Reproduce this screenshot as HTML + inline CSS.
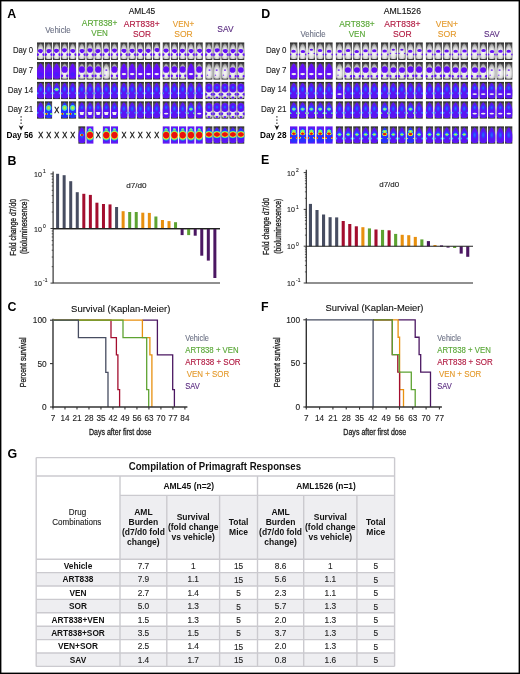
<!DOCTYPE html>
<html><head><meta charset="utf-8"><title>Primagraft responses</title>
<style>
html,body{margin:0;padding:0;background:#fff;}
body{width:520px;height:674px;overflow:hidden;position:relative;}
svg.root{position:absolute;left:0;top:0;display:block;filter:blur(0.35px);}
text{font-family:"Liberation Sans",sans-serif;}
</style></head><body>
<svg class="root" width="520" height="674" viewBox="0 0 520 674">

<defs>
 <radialGradient id="gBody" cx="50%" cy="62%" r="62%">
  <stop offset="0" stop-color="#f8f8f8"/><stop offset="0.5" stop-color="#e2e2e2"/><stop offset="0.8" stop-color="#a8a8a8"/><stop offset="1" stop-color="#6a6a6a"/>
 </radialGradient>
 <linearGradient id="gBg" x1="0" y1="0" x2="0" y2="1">
  <stop offset="0" stop-color="#1c1c1c"/><stop offset="0.15" stop-color="#555"/><stop offset="0.85" stop-color="#5a5a5a"/><stop offset="1" stop-color="#1c1c1c"/>
 </linearGradient>
 <linearGradient id="gBgD" x1="0" y1="0" x2="0" y2="1">
  <stop offset="0" stop-color="#181818"/><stop offset="0.5" stop-color="#3a3a3a"/><stop offset="1" stop-color="#222"/>
 </linearGradient>
 <radialGradient id="gHot" cx="50%" cy="50%" r="50%">
  <stop offset="0" stop-color="#e01010"/><stop offset="0.45" stop-color="#e82a10"/><stop offset="0.6" stop-color="#f5e020"/><stop offset="0.75" stop-color="#40e0a0"/><stop offset="1" stop-color="#3050ff" stop-opacity="0"/>
 </radialGradient>
 <radialGradient id="gGrn" cx="50%" cy="50%" r="50%">
  <stop offset="0" stop-color="#e8f020"/><stop offset="0.4" stop-color="#80f060"/><stop offset="0.75" stop-color="#30c0f0"/><stop offset="1" stop-color="#2040ff" stop-opacity="0"/>
 </radialGradient>
 <radialGradient id="gCyan" cx="50%" cy="50%" r="50%">
  <stop offset="0" stop-color="#c8f070"/><stop offset="0.45" stop-color="#60e0a0"/><stop offset="0.8" stop-color="#30a0ff"/><stop offset="1" stop-color="#2040ff" stop-opacity="0"/>
 </radialGradient>
 <radialGradient id="gBlue" cx="50%" cy="50%" r="50%">
  <stop offset="0" stop-color="#2a6cff"/><stop offset="0.6" stop-color="#2d3cff"/><stop offset="1" stop-color="#5a1cf5" stop-opacity="0"/>
 </radialGradient>
</defs>

<rect x="0" y="0" width="520" height="674" fill="#fff"/>
<svg x="37.00" y="42.30" width="7.30" height="17.60" overflow="hidden"><rect x="0.00" y="0.00" width="7.30" height="17.60" fill="url(#gBg)"/><path d="M3.65,0.86 L4.48,1.67 L5.59,3.64 L6.56,6.09 L7.05,8.71 L7.12,11.66 L6.98,14.28 L6.42,16.08 L5.04,16.73 L2.26,16.73 L0.88,16.08 L0.32,14.28 L0.18,11.66 L0.25,8.71 L0.74,6.09 L1.71,3.64 L2.82,1.67Z" fill="url(#gBody)"/><ellipse cx="3.38" cy="8.46" rx="2.63" ry="1.76" fill="#6410f8"/><ellipse cx="3.61" cy="9.17" rx="1.75" ry="1.76" fill="#6410f8"/><ellipse cx="0.58" cy="12.32" rx="1.39" ry="1.39" fill="#6410f8"/><ellipse cx="6.72" cy="12.32" rx="1.39" ry="1.39" fill="#6410f8"/></svg>
<svg x="45.00" y="42.30" width="7.30" height="17.60" overflow="hidden"><rect x="0.00" y="0.00" width="7.30" height="17.60" fill="url(#gBg)"/><path d="M3.65,0.86 L4.48,1.67 L5.59,3.64 L6.56,6.09 L7.05,8.71 L7.12,11.66 L6.98,14.28 L6.42,16.08 L5.04,16.73 L2.26,16.73 L0.88,16.08 L0.32,14.28 L0.18,11.66 L0.25,8.71 L0.74,6.09 L1.71,3.64 L2.82,1.67Z" fill="url(#gBody)"/><ellipse cx="3.98" cy="8.57" rx="2.63" ry="1.76" fill="#6410f8"/><ellipse cx="3.59" cy="9.27" rx="1.75" ry="1.76" fill="#6410f8"/><ellipse cx="0.58" cy="12.32" rx="1.39" ry="1.39" fill="#6410f8"/><ellipse cx="6.72" cy="12.32" rx="1.39" ry="1.39" fill="#6410f8"/></svg>
<svg x="53.00" y="42.30" width="7.30" height="17.60" overflow="hidden"><rect x="0.00" y="0.00" width="7.30" height="17.60" fill="url(#gBg)"/><path d="M3.65,0.86 L4.48,1.67 L5.59,3.64 L6.56,6.09 L7.05,8.71 L7.12,11.66 L6.98,14.28 L6.42,16.08 L5.04,16.73 L2.26,16.73 L0.88,16.08 L0.32,14.28 L0.18,11.66 L0.25,8.71 L0.74,6.09 L1.71,3.64 L2.82,1.67Z" fill="url(#gBody)"/><ellipse cx="3.46" cy="8.14" rx="2.63" ry="1.76" fill="#6410f8"/><ellipse cx="3.34" cy="8.85" rx="1.75" ry="1.76" fill="#6410f8"/><ellipse cx="0.58" cy="12.32" rx="1.39" ry="1.39" fill="#6410f8"/><ellipse cx="6.72" cy="12.32" rx="1.39" ry="1.39" fill="#6410f8"/></svg>
<svg x="61.00" y="42.30" width="7.30" height="17.60" overflow="hidden"><rect x="0.00" y="0.00" width="7.30" height="17.60" fill="url(#gBg)"/><path d="M3.65,0.86 L4.48,1.67 L5.59,3.64 L6.56,6.09 L7.05,8.71 L7.12,11.66 L6.98,14.28 L6.42,16.08 L5.04,16.73 L2.26,16.73 L0.88,16.08 L0.32,14.28 L0.18,11.66 L0.25,8.71 L0.74,6.09 L1.71,3.64 L2.82,1.67Z" fill="url(#gBody)"/><ellipse cx="3.46" cy="7.68" rx="2.63" ry="1.76" fill="#6410f8"/><ellipse cx="3.37" cy="8.38" rx="1.75" ry="1.76" fill="#6410f8"/><ellipse cx="0.58" cy="12.32" rx="1.39" ry="1.39" fill="#6410f8"/><ellipse cx="6.72" cy="12.32" rx="1.39" ry="1.39" fill="#6410f8"/></svg>
<svg x="69.00" y="42.30" width="7.30" height="17.60" overflow="hidden"><rect x="0.00" y="0.00" width="7.30" height="17.60" fill="url(#gBg)"/><path d="M3.65,0.86 L4.48,1.67 L5.59,3.64 L6.56,6.09 L7.05,8.71 L7.12,11.66 L6.98,14.28 L6.42,16.08 L5.04,16.73 L2.26,16.73 L0.88,16.08 L0.32,14.28 L0.18,11.66 L0.25,8.71 L0.74,6.09 L1.71,3.64 L2.82,1.67Z" fill="url(#gBody)"/><ellipse cx="3.74" cy="8.35" rx="2.63" ry="1.76" fill="#6410f8"/><ellipse cx="4.00" cy="9.06" rx="1.75" ry="1.76" fill="#6410f8"/><ellipse cx="0.58" cy="12.32" rx="1.39" ry="1.39" fill="#6410f8"/><ellipse cx="6.72" cy="12.32" rx="1.39" ry="1.39" fill="#6410f8"/></svg>
<svg x="78.20" y="42.30" width="7.30" height="17.60" overflow="hidden"><rect x="0.00" y="0.00" width="7.30" height="17.60" fill="url(#gBg)"/><path d="M3.65,0.86 L4.48,1.67 L5.59,3.64 L6.56,6.09 L7.05,8.71 L7.12,11.66 L6.98,14.28 L6.42,16.08 L5.04,16.73 L2.26,16.73 L0.88,16.08 L0.32,14.28 L0.18,11.66 L0.25,8.71 L0.74,6.09 L1.71,3.64 L2.82,1.67Z" fill="url(#gBody)"/><ellipse cx="3.86" cy="8.44" rx="2.63" ry="1.76" fill="#6410f8"/><ellipse cx="3.85" cy="9.14" rx="1.75" ry="1.76" fill="#6410f8"/><ellipse cx="0.58" cy="12.32" rx="1.39" ry="1.39" fill="#6410f8"/><ellipse cx="6.72" cy="12.32" rx="1.39" ry="1.39" fill="#6410f8"/></svg>
<svg x="86.35" y="42.30" width="7.30" height="17.60" overflow="hidden"><rect x="0.00" y="0.00" width="7.30" height="17.60" fill="url(#gBg)"/><path d="M3.65,0.86 L4.48,1.67 L5.59,3.64 L6.56,6.09 L7.05,8.71 L7.12,11.66 L6.98,14.28 L6.42,16.08 L5.04,16.73 L2.26,16.73 L0.88,16.08 L0.32,14.28 L0.18,11.66 L0.25,8.71 L0.74,6.09 L1.71,3.64 L2.82,1.67Z" fill="url(#gBody)"/><ellipse cx="3.52" cy="7.73" rx="2.63" ry="1.76" fill="#6410f8"/><ellipse cx="3.65" cy="8.43" rx="1.75" ry="1.76" fill="#6410f8"/><ellipse cx="0.58" cy="12.32" rx="1.39" ry="1.39" fill="#6410f8"/><ellipse cx="6.72" cy="12.32" rx="1.39" ry="1.39" fill="#6410f8"/></svg>
<svg x="94.50" y="42.30" width="7.30" height="17.60" overflow="hidden"><rect x="0.00" y="0.00" width="7.30" height="17.60" fill="url(#gBg)"/><path d="M3.65,0.86 L4.48,1.67 L5.59,3.64 L6.56,6.09 L7.05,8.71 L7.12,11.66 L6.98,14.28 L6.42,16.08 L5.04,16.73 L2.26,16.73 L0.88,16.08 L0.32,14.28 L0.18,11.66 L0.25,8.71 L0.74,6.09 L1.71,3.64 L2.82,1.67Z" fill="url(#gBody)"/><ellipse cx="3.45" cy="8.58" rx="2.63" ry="1.76" fill="#6410f8"/><ellipse cx="3.12" cy="9.29" rx="1.75" ry="1.76" fill="#6410f8"/><ellipse cx="0.58" cy="12.32" rx="1.39" ry="1.39" fill="#6410f8"/><ellipse cx="6.72" cy="12.32" rx="1.39" ry="1.39" fill="#6410f8"/></svg>
<svg x="102.65" y="42.30" width="7.30" height="17.60" overflow="hidden"><rect x="0.00" y="0.00" width="7.30" height="17.60" fill="url(#gBg)"/><path d="M3.65,0.86 L4.48,1.67 L5.59,3.64 L6.56,6.09 L7.05,8.71 L7.12,11.66 L6.98,14.28 L6.42,16.08 L5.04,16.73 L2.26,16.73 L0.88,16.08 L0.32,14.28 L0.18,11.66 L0.25,8.71 L0.74,6.09 L1.71,3.64 L2.82,1.67Z" fill="url(#gBody)"/><ellipse cx="3.62" cy="7.96" rx="2.63" ry="1.76" fill="#6410f8"/><ellipse cx="3.31" cy="8.67" rx="1.75" ry="1.76" fill="#6410f8"/><ellipse cx="0.58" cy="12.32" rx="1.39" ry="1.39" fill="#6410f8"/><ellipse cx="6.72" cy="12.32" rx="1.39" ry="1.39" fill="#6410f8"/></svg>
<svg x="110.80" y="42.30" width="7.30" height="17.60" overflow="hidden"><rect x="0.00" y="0.00" width="7.30" height="17.60" fill="url(#gBg)"/><path d="M3.65,0.86 L4.48,1.67 L5.59,3.64 L6.56,6.09 L7.05,8.71 L7.12,11.66 L6.98,14.28 L6.42,16.08 L5.04,16.73 L2.26,16.73 L0.88,16.08 L0.32,14.28 L0.18,11.66 L0.25,8.71 L0.74,6.09 L1.71,3.64 L2.82,1.67Z" fill="url(#gBody)"/><ellipse cx="3.70" cy="8.02" rx="2.63" ry="1.76" fill="#6410f8"/><ellipse cx="3.77" cy="8.72" rx="1.75" ry="1.76" fill="#6410f8"/><ellipse cx="0.58" cy="12.32" rx="1.39" ry="1.39" fill="#6410f8"/><ellipse cx="6.72" cy="12.32" rx="1.39" ry="1.39" fill="#6410f8"/></svg>
<svg x="120.30" y="42.30" width="7.30" height="17.60" overflow="hidden"><rect x="0.00" y="0.00" width="7.30" height="17.60" fill="url(#gBg)"/><path d="M3.65,0.86 L4.48,1.67 L5.59,3.64 L6.56,6.09 L7.05,8.71 L7.12,11.66 L6.98,14.28 L6.42,16.08 L5.04,16.73 L2.26,16.73 L0.88,16.08 L0.32,14.28 L0.18,11.66 L0.25,8.71 L0.74,6.09 L1.71,3.64 L2.82,1.67Z" fill="url(#gBody)"/><ellipse cx="3.62" cy="8.16" rx="2.63" ry="1.76" fill="#6410f8"/><ellipse cx="3.99" cy="8.86" rx="1.75" ry="1.76" fill="#6410f8"/><ellipse cx="0.58" cy="12.32" rx="1.39" ry="1.39" fill="#6410f8"/><ellipse cx="6.72" cy="12.32" rx="1.39" ry="1.39" fill="#6410f8"/></svg>
<svg x="128.48" y="42.30" width="7.30" height="17.60" overflow="hidden"><rect x="0.00" y="0.00" width="7.30" height="17.60" fill="url(#gBg)"/><path d="M3.65,0.86 L4.48,1.67 L5.59,3.64 L6.56,6.09 L7.05,8.71 L7.12,11.66 L6.98,14.28 L6.42,16.08 L5.04,16.73 L2.26,16.73 L0.88,16.08 L0.32,14.28 L0.18,11.66 L0.25,8.71 L0.74,6.09 L1.71,3.64 L2.82,1.67Z" fill="url(#gBody)"/><ellipse cx="3.63" cy="8.26" rx="2.63" ry="1.76" fill="#6410f8"/><ellipse cx="3.78" cy="8.97" rx="1.75" ry="1.76" fill="#6410f8"/><ellipse cx="0.58" cy="12.32" rx="1.39" ry="1.39" fill="#6410f8"/><ellipse cx="6.72" cy="12.32" rx="1.39" ry="1.39" fill="#6410f8"/></svg>
<svg x="136.66" y="42.30" width="7.30" height="17.60" overflow="hidden"><rect x="0.00" y="0.00" width="7.30" height="17.60" fill="url(#gBg)"/><path d="M3.65,0.86 L4.48,1.67 L5.59,3.64 L6.56,6.09 L7.05,8.71 L7.12,11.66 L6.98,14.28 L6.42,16.08 L5.04,16.73 L2.26,16.73 L0.88,16.08 L0.32,14.28 L0.18,11.66 L0.25,8.71 L0.74,6.09 L1.71,3.64 L2.82,1.67Z" fill="url(#gBody)"/><ellipse cx="3.47" cy="8.29" rx="2.63" ry="1.76" fill="#6410f8"/><ellipse cx="3.64" cy="9.00" rx="1.75" ry="1.76" fill="#6410f8"/><ellipse cx="0.58" cy="12.32" rx="1.39" ry="1.39" fill="#6410f8"/><ellipse cx="6.72" cy="12.32" rx="1.39" ry="1.39" fill="#6410f8"/></svg>
<svg x="144.84" y="42.30" width="7.30" height="17.60" overflow="hidden"><rect x="0.00" y="0.00" width="7.30" height="17.60" fill="url(#gBg)"/><path d="M3.65,0.86 L4.48,1.67 L5.59,3.64 L6.56,6.09 L7.05,8.71 L7.12,11.66 L6.98,14.28 L6.42,16.08 L5.04,16.73 L2.26,16.73 L0.88,16.08 L0.32,14.28 L0.18,11.66 L0.25,8.71 L0.74,6.09 L1.71,3.64 L2.82,1.67Z" fill="url(#gBody)"/><ellipse cx="3.36" cy="8.31" rx="2.63" ry="1.76" fill="#6410f8"/><ellipse cx="3.50" cy="9.01" rx="1.75" ry="1.76" fill="#6410f8"/><ellipse cx="0.58" cy="12.32" rx="1.39" ry="1.39" fill="#6410f8"/><ellipse cx="6.72" cy="12.32" rx="1.39" ry="1.39" fill="#6410f8"/></svg>
<svg x="153.02" y="42.30" width="7.30" height="17.60" overflow="hidden"><rect x="0.00" y="0.00" width="7.30" height="17.60" fill="url(#gBg)"/><path d="M3.65,0.86 L4.48,1.67 L5.59,3.64 L6.56,6.09 L7.05,8.71 L7.12,11.66 L6.98,14.28 L6.42,16.08 L5.04,16.73 L2.26,16.73 L0.88,16.08 L0.32,14.28 L0.18,11.66 L0.25,8.71 L0.74,6.09 L1.71,3.64 L2.82,1.67Z" fill="url(#gBody)"/><ellipse cx="3.99" cy="7.58" rx="2.63" ry="1.76" fill="#6410f8"/><ellipse cx="4.20" cy="8.28" rx="1.75" ry="1.76" fill="#6410f8"/><ellipse cx="0.58" cy="12.32" rx="1.39" ry="1.39" fill="#6410f8"/><ellipse cx="6.72" cy="12.32" rx="1.39" ry="1.39" fill="#6410f8"/></svg>
<svg x="162.50" y="42.30" width="7.30" height="17.60" overflow="hidden"><rect x="0.00" y="0.00" width="7.30" height="17.60" fill="url(#gBg)"/><path d="M3.65,0.86 L4.48,1.67 L5.59,3.64 L6.56,6.09 L7.05,8.71 L7.12,11.66 L6.98,14.28 L6.42,16.08 L5.04,16.73 L2.26,16.73 L0.88,16.08 L0.32,14.28 L0.18,11.66 L0.25,8.71 L0.74,6.09 L1.71,3.64 L2.82,1.67Z" fill="url(#gBody)"/><ellipse cx="3.55" cy="8.08" rx="2.63" ry="1.76" fill="#6410f8"/><ellipse cx="3.48" cy="8.78" rx="1.75" ry="1.76" fill="#6410f8"/><ellipse cx="0.58" cy="12.32" rx="1.39" ry="1.39" fill="#6410f8"/><ellipse cx="6.72" cy="12.32" rx="1.39" ry="1.39" fill="#6410f8"/></svg>
<svg x="170.77" y="42.30" width="7.30" height="17.60" overflow="hidden"><rect x="0.00" y="0.00" width="7.30" height="17.60" fill="url(#gBg)"/><path d="M3.65,0.86 L4.48,1.67 L5.59,3.64 L6.56,6.09 L7.05,8.71 L7.12,11.66 L6.98,14.28 L6.42,16.08 L5.04,16.73 L2.26,16.73 L0.88,16.08 L0.32,14.28 L0.18,11.66 L0.25,8.71 L0.74,6.09 L1.71,3.64 L2.82,1.67Z" fill="url(#gBody)"/><ellipse cx="3.67" cy="8.42" rx="2.63" ry="1.76" fill="#6410f8"/><ellipse cx="4.07" cy="9.12" rx="1.75" ry="1.76" fill="#6410f8"/><ellipse cx="0.58" cy="12.32" rx="1.39" ry="1.39" fill="#6410f8"/><ellipse cx="6.72" cy="12.32" rx="1.39" ry="1.39" fill="#6410f8"/></svg>
<svg x="179.04" y="42.30" width="7.30" height="17.60" overflow="hidden"><rect x="0.00" y="0.00" width="7.30" height="17.60" fill="url(#gBg)"/><path d="M3.65,0.86 L4.48,1.67 L5.59,3.64 L6.56,6.09 L7.05,8.71 L7.12,11.66 L6.98,14.28 L6.42,16.08 L5.04,16.73 L2.26,16.73 L0.88,16.08 L0.32,14.28 L0.18,11.66 L0.25,8.71 L0.74,6.09 L1.71,3.64 L2.82,1.67Z" fill="url(#gBody)"/><ellipse cx="3.42" cy="8.27" rx="2.63" ry="1.76" fill="#6410f8"/><ellipse cx="3.27" cy="8.97" rx="1.75" ry="1.76" fill="#6410f8"/><ellipse cx="0.58" cy="12.32" rx="1.39" ry="1.39" fill="#6410f8"/><ellipse cx="6.72" cy="12.32" rx="1.39" ry="1.39" fill="#6410f8"/></svg>
<svg x="187.31" y="42.30" width="7.30" height="17.60" overflow="hidden"><rect x="0.00" y="0.00" width="7.30" height="17.60" fill="url(#gBg)"/><path d="M3.65,0.86 L4.48,1.67 L5.59,3.64 L6.56,6.09 L7.05,8.71 L7.12,11.66 L6.98,14.28 L6.42,16.08 L5.04,16.73 L2.26,16.73 L0.88,16.08 L0.32,14.28 L0.18,11.66 L0.25,8.71 L0.74,6.09 L1.71,3.64 L2.82,1.67Z" fill="url(#gBody)"/><ellipse cx="3.78" cy="8.40" rx="2.63" ry="1.76" fill="#6410f8"/><ellipse cx="3.80" cy="9.10" rx="1.75" ry="1.76" fill="#6410f8"/><ellipse cx="0.58" cy="12.32" rx="1.39" ry="1.39" fill="#6410f8"/><ellipse cx="6.72" cy="12.32" rx="1.39" ry="1.39" fill="#6410f8"/></svg>
<svg x="195.58" y="42.30" width="7.30" height="17.60" overflow="hidden"><rect x="0.00" y="0.00" width="7.30" height="17.60" fill="url(#gBg)"/><path d="M3.65,0.86 L4.48,1.67 L5.59,3.64 L6.56,6.09 L7.05,8.71 L7.12,11.66 L6.98,14.28 L6.42,16.08 L5.04,16.73 L2.26,16.73 L0.88,16.08 L0.32,14.28 L0.18,11.66 L0.25,8.71 L0.74,6.09 L1.71,3.64 L2.82,1.67Z" fill="url(#gBody)"/><ellipse cx="3.95" cy="8.29" rx="2.63" ry="1.76" fill="#6410f8"/><ellipse cx="4.18" cy="9.00" rx="1.75" ry="1.76" fill="#6410f8"/><ellipse cx="0.58" cy="12.32" rx="1.39" ry="1.39" fill="#6410f8"/><ellipse cx="6.72" cy="12.32" rx="1.39" ry="1.39" fill="#6410f8"/></svg>
<svg x="205.30" y="42.30" width="7.30" height="17.60" overflow="hidden"><rect x="0.00" y="0.00" width="7.30" height="17.60" fill="url(#gBg)"/><path d="M3.65,0.86 L4.48,1.67 L5.59,3.64 L6.56,6.09 L7.05,8.71 L7.12,11.66 L6.98,14.28 L6.42,16.08 L5.04,16.73 L2.26,16.73 L0.88,16.08 L0.32,14.28 L0.18,11.66 L0.25,8.71 L0.74,6.09 L1.71,3.64 L2.82,1.67Z" fill="url(#gBody)"/><ellipse cx="3.41" cy="8.30" rx="2.63" ry="1.76" fill="#6410f8"/><ellipse cx="3.52" cy="9.00" rx="1.75" ry="1.76" fill="#6410f8"/><ellipse cx="0.58" cy="12.32" rx="1.39" ry="1.39" fill="#6410f8"/><ellipse cx="6.72" cy="12.32" rx="1.39" ry="1.39" fill="#6410f8"/></svg>
<svg x="213.28" y="42.30" width="7.30" height="17.60" overflow="hidden"><rect x="0.00" y="0.00" width="7.30" height="17.60" fill="url(#gBg)"/><path d="M3.65,0.86 L4.48,1.67 L5.59,3.64 L6.56,6.09 L7.05,8.71 L7.12,11.66 L6.98,14.28 L6.42,16.08 L5.04,16.73 L2.26,16.73 L0.88,16.08 L0.32,14.28 L0.18,11.66 L0.25,8.71 L0.74,6.09 L1.71,3.64 L2.82,1.67Z" fill="url(#gBody)"/><ellipse cx="3.98" cy="7.72" rx="2.63" ry="1.76" fill="#6410f8"/><ellipse cx="3.57" cy="8.42" rx="1.75" ry="1.76" fill="#6410f8"/><ellipse cx="0.58" cy="12.32" rx="1.39" ry="1.39" fill="#6410f8"/><ellipse cx="6.72" cy="12.32" rx="1.39" ry="1.39" fill="#6410f8"/></svg>
<svg x="221.26" y="42.30" width="7.30" height="17.60" overflow="hidden"><rect x="0.00" y="0.00" width="7.30" height="17.60" fill="url(#gBg)"/><path d="M3.65,0.86 L4.48,1.67 L5.59,3.64 L6.56,6.09 L7.05,8.71 L7.12,11.66 L6.98,14.28 L6.42,16.08 L5.04,16.73 L2.26,16.73 L0.88,16.08 L0.32,14.28 L0.18,11.66 L0.25,8.71 L0.74,6.09 L1.71,3.64 L2.82,1.67Z" fill="url(#gBody)"/><ellipse cx="3.96" cy="8.57" rx="2.63" ry="1.76" fill="#6410f8"/><ellipse cx="4.30" cy="9.27" rx="1.75" ry="1.76" fill="#6410f8"/><ellipse cx="0.58" cy="12.32" rx="1.39" ry="1.39" fill="#6410f8"/><ellipse cx="6.72" cy="12.32" rx="1.39" ry="1.39" fill="#6410f8"/></svg>
<svg x="229.24" y="42.30" width="7.30" height="17.60" overflow="hidden"><rect x="0.00" y="0.00" width="7.30" height="17.60" fill="url(#gBg)"/><path d="M3.65,0.86 L4.48,1.67 L5.59,3.64 L6.56,6.09 L7.05,8.71 L7.12,11.66 L6.98,14.28 L6.42,16.08 L5.04,16.73 L2.26,16.73 L0.88,16.08 L0.32,14.28 L0.18,11.66 L0.25,8.71 L0.74,6.09 L1.71,3.64 L2.82,1.67Z" fill="url(#gBody)"/><ellipse cx="3.81" cy="8.45" rx="2.63" ry="1.76" fill="#6410f8"/><ellipse cx="3.53" cy="9.16" rx="1.75" ry="1.76" fill="#6410f8"/><ellipse cx="0.58" cy="12.32" rx="1.39" ry="1.39" fill="#6410f8"/><ellipse cx="6.72" cy="12.32" rx="1.39" ry="1.39" fill="#6410f8"/></svg>
<svg x="237.22" y="42.30" width="7.30" height="17.60" overflow="hidden"><rect x="0.00" y="0.00" width="7.30" height="17.60" fill="url(#gBg)"/><path d="M3.65,0.86 L4.48,1.67 L5.59,3.64 L6.56,6.09 L7.05,8.71 L7.12,11.66 L6.98,14.28 L6.42,16.08 L5.04,16.73 L2.26,16.73 L0.88,16.08 L0.32,14.28 L0.18,11.66 L0.25,8.71 L0.74,6.09 L1.71,3.64 L2.82,1.67Z" fill="url(#gBody)"/><ellipse cx="3.56" cy="8.55" rx="2.63" ry="1.76" fill="#6410f8"/><ellipse cx="3.86" cy="9.25" rx="1.75" ry="1.76" fill="#6410f8"/><ellipse cx="0.58" cy="12.32" rx="1.39" ry="1.39" fill="#6410f8"/><ellipse cx="6.72" cy="12.32" rx="1.39" ry="1.39" fill="#6410f8"/></svg>
<svg x="37.00" y="62.10" width="7.30" height="17.60" overflow="hidden"><rect x="0.00" y="0.00" width="7.30" height="17.60" fill="url(#gBg)"/><path d="M3.65,1.03 L4.53,1.84 L5.69,3.78 L6.72,6.21 L7.23,8.80 L7.30,11.71 L7.15,14.31 L6.57,16.09 L5.11,16.73 L2.19,16.73 L0.73,16.09 L0.15,14.31 L0.00,11.71 L0.07,8.80 L0.58,6.21 L1.61,3.78 L2.77,1.84Z" fill="#6410f8"/><ellipse cx="3.65" cy="12.32" rx="2.19" ry="2.11" fill="#3a20ff" opacity="0.6"/></svg>
<svg x="45.00" y="62.10" width="7.30" height="17.60" overflow="hidden"><rect x="0.00" y="0.00" width="7.30" height="17.60" fill="url(#gBg)"/><path d="M3.65,1.03 L4.53,1.84 L5.69,3.78 L6.72,6.21 L7.23,8.80 L7.30,11.71 L7.15,14.31 L6.57,16.09 L5.11,16.73 L2.19,16.73 L0.73,16.09 L0.15,14.31 L0.00,11.71 L0.07,8.80 L0.58,6.21 L1.61,3.78 L2.77,1.84Z" fill="#6410f8"/><ellipse cx="3.65" cy="12.32" rx="2.19" ry="2.11" fill="#3a20ff" opacity="0.6"/></svg>
<svg x="53.00" y="62.10" width="7.30" height="17.60" overflow="hidden"><rect x="0.00" y="0.00" width="7.30" height="17.60" fill="url(#gBg)"/><path d="M3.65,1.03 L4.53,1.84 L5.69,3.78 L6.72,6.21 L7.23,8.80 L7.30,11.71 L7.15,14.31 L6.57,16.09 L5.11,16.73 L2.19,16.73 L0.73,16.09 L0.15,14.31 L0.00,11.71 L0.07,8.80 L0.58,6.21 L1.61,3.78 L2.77,1.84Z" fill="#6410f8"/><ellipse cx="3.65" cy="12.32" rx="2.19" ry="2.11" fill="#3a20ff" opacity="0.6"/></svg>
<svg x="61.00" y="62.10" width="7.30" height="17.60" overflow="hidden"><rect x="0.00" y="0.00" width="7.30" height="17.60" fill="url(#gBg)"/><path d="M3.65,1.03 L4.53,1.84 L5.69,3.78 L6.72,6.21 L7.23,8.80 L7.30,11.71 L7.15,14.31 L6.57,16.09 L5.11,16.73 L2.19,16.73 L0.73,16.09 L0.15,14.31 L0.00,11.71 L0.07,8.80 L0.58,6.21 L1.61,3.78 L2.77,1.84Z" fill="url(#gBody)"/><ellipse cx="3.65" cy="7.39" rx="3.07" ry="3.34" fill="#6410f8"/><ellipse cx="0.88" cy="13.73" rx="1.31" ry="1.31" fill="#6410f8"/><ellipse cx="6.42" cy="13.73" rx="1.31" ry="1.31" fill="#6410f8"/></svg>
<svg x="69.00" y="62.10" width="7.30" height="17.60" overflow="hidden"><rect x="0.00" y="0.00" width="7.30" height="17.60" fill="url(#gBg)"/><path d="M3.65,1.03 L4.53,1.84 L5.69,3.78 L6.72,6.21 L7.23,8.80 L7.30,11.71 L7.15,14.31 L6.57,16.09 L5.11,16.73 L2.19,16.73 L0.73,16.09 L0.15,14.31 L0.00,11.71 L0.07,8.80 L0.58,6.21 L1.61,3.78 L2.77,1.84Z" fill="#6410f8"/><ellipse cx="3.65" cy="12.32" rx="2.19" ry="2.11" fill="#3a20ff" opacity="0.6"/></svg>
<svg x="78.20" y="62.10" width="7.30" height="17.60" overflow="hidden"><rect x="0.00" y="0.00" width="7.30" height="17.60" fill="url(#gBg)"/><path d="M3.65,1.03 L4.53,1.84 L5.69,3.78 L6.72,6.21 L7.23,8.80 L7.30,11.71 L7.15,14.31 L6.57,16.09 L5.11,16.73 L2.19,16.73 L0.73,16.09 L0.15,14.31 L0.00,11.71 L0.07,8.80 L0.58,6.21 L1.61,3.78 L2.77,1.84Z" fill="url(#gBody)"/><ellipse cx="3.65" cy="7.39" rx="3.07" ry="3.34" fill="#6410f8"/><ellipse cx="0.88" cy="13.73" rx="1.31" ry="1.31" fill="#6410f8"/><ellipse cx="6.42" cy="13.73" rx="1.31" ry="1.31" fill="#6410f8"/></svg>
<svg x="86.35" y="62.10" width="7.30" height="17.60" overflow="hidden"><rect x="0.00" y="0.00" width="7.30" height="17.60" fill="url(#gBg)"/><path d="M3.65,1.03 L4.53,1.84 L5.69,3.78 L6.72,6.21 L7.23,8.80 L7.30,11.71 L7.15,14.31 L6.57,16.09 L5.11,16.73 L2.19,16.73 L0.73,16.09 L0.15,14.31 L0.00,11.71 L0.07,8.80 L0.58,6.21 L1.61,3.78 L2.77,1.84Z" fill="url(#gBody)"/><ellipse cx="3.65" cy="7.39" rx="3.07" ry="3.34" fill="#6410f8"/><ellipse cx="0.88" cy="13.73" rx="1.31" ry="1.31" fill="#6410f8"/><ellipse cx="6.42" cy="13.73" rx="1.31" ry="1.31" fill="#6410f8"/></svg>
<svg x="94.50" y="62.10" width="7.30" height="17.60" overflow="hidden"><rect x="0.00" y="0.00" width="7.30" height="17.60" fill="url(#gBg)"/><path d="M3.65,1.03 L4.53,1.84 L5.69,3.78 L6.72,6.21 L7.23,8.80 L7.30,11.71 L7.15,14.31 L6.57,16.09 L5.11,16.73 L2.19,16.73 L0.73,16.09 L0.15,14.31 L0.00,11.71 L0.07,8.80 L0.58,6.21 L1.61,3.78 L2.77,1.84Z" fill="url(#gBody)"/><ellipse cx="3.65" cy="7.39" rx="3.07" ry="3.34" fill="#6410f8"/><ellipse cx="0.88" cy="13.73" rx="1.31" ry="1.31" fill="#6410f8"/><ellipse cx="6.42" cy="13.73" rx="1.31" ry="1.31" fill="#6410f8"/></svg>
<svg x="102.65" y="62.10" width="7.30" height="17.60" overflow="hidden"><rect x="0.00" y="0.00" width="7.30" height="17.60" fill="url(#gBg)"/><path d="M3.65,1.03 L4.53,1.84 L5.69,3.78 L6.72,6.21 L7.23,8.80 L7.30,11.71 L7.15,14.31 L6.57,16.09 L5.11,16.73 L2.19,16.73 L0.73,16.09 L0.15,14.31 L0.00,11.71 L0.07,8.80 L0.58,6.21 L1.61,3.78 L2.77,1.84Z" fill="url(#gBody)"/><ellipse cx="3.69" cy="7.92" rx="1.09" ry="0.88" fill="#6410f8" opacity="0.8"/><ellipse cx="2.19" cy="13.20" rx="0.73" ry="0.70" fill="#6410f8" opacity="0.7"/></svg>
<svg x="110.80" y="62.10" width="7.30" height="17.60" overflow="hidden"><rect x="0.00" y="0.00" width="7.30" height="17.60" fill="url(#gBg)"/><path d="M3.65,1.03 L4.53,1.84 L5.69,3.78 L6.72,6.21 L7.23,8.80 L7.30,11.71 L7.15,14.31 L6.57,16.09 L5.11,16.73 L2.19,16.73 L0.73,16.09 L0.15,14.31 L0.00,11.71 L0.07,8.80 L0.58,6.21 L1.61,3.78 L2.77,1.84Z" fill="url(#gBody)"/><ellipse cx="3.65" cy="7.39" rx="3.07" ry="3.34" fill="#6410f8"/><ellipse cx="0.88" cy="13.73" rx="1.31" ry="1.31" fill="#6410f8"/><ellipse cx="6.42" cy="13.73" rx="1.31" ry="1.31" fill="#6410f8"/></svg>
<svg x="120.30" y="62.10" width="7.30" height="17.60" overflow="hidden"><rect x="0.00" y="0.00" width="7.30" height="17.60" fill="url(#gBg)"/><path d="M3.65,1.03 L4.53,1.84 L5.69,3.78 L6.72,6.21 L7.23,8.80 L7.30,11.71 L7.15,14.31 L6.57,16.09 L5.11,16.73 L2.19,16.73 L0.73,16.09 L0.15,14.31 L0.00,11.71 L0.07,8.80 L0.58,6.21 L1.61,3.78 L2.77,1.84Z" fill="#6410f8"/><ellipse cx="3.65" cy="11.97" rx="2.34" ry="1.06" fill="#f2f2f2"/></svg>
<svg x="128.48" y="62.10" width="7.30" height="17.60" overflow="hidden"><rect x="0.00" y="0.00" width="7.30" height="17.60" fill="url(#gBg)"/><path d="M3.65,1.03 L4.53,1.84 L5.69,3.78 L6.72,6.21 L7.23,8.80 L7.30,11.71 L7.15,14.31 L6.57,16.09 L5.11,16.73 L2.19,16.73 L0.73,16.09 L0.15,14.31 L0.00,11.71 L0.07,8.80 L0.58,6.21 L1.61,3.78 L2.77,1.84Z" fill="#6410f8"/><ellipse cx="3.65" cy="11.97" rx="2.34" ry="1.06" fill="#f2f2f2"/></svg>
<svg x="136.66" y="62.10" width="7.30" height="17.60" overflow="hidden"><rect x="0.00" y="0.00" width="7.30" height="17.60" fill="url(#gBg)"/><path d="M3.65,1.03 L4.53,1.84 L5.69,3.78 L6.72,6.21 L7.23,8.80 L7.30,11.71 L7.15,14.31 L6.57,16.09 L5.11,16.73 L2.19,16.73 L0.73,16.09 L0.15,14.31 L0.00,11.71 L0.07,8.80 L0.58,6.21 L1.61,3.78 L2.77,1.84Z" fill="#6410f8"/><ellipse cx="3.65" cy="11.97" rx="2.34" ry="1.06" fill="#f2f2f2"/></svg>
<svg x="144.84" y="62.10" width="7.30" height="17.60" overflow="hidden"><rect x="0.00" y="0.00" width="7.30" height="17.60" fill="url(#gBg)"/><path d="M3.65,1.03 L4.53,1.84 L5.69,3.78 L6.72,6.21 L7.23,8.80 L7.30,11.71 L7.15,14.31 L6.57,16.09 L5.11,16.73 L2.19,16.73 L0.73,16.09 L0.15,14.31 L0.00,11.71 L0.07,8.80 L0.58,6.21 L1.61,3.78 L2.77,1.84Z" fill="#6410f8"/><ellipse cx="3.65" cy="11.97" rx="2.34" ry="1.06" fill="#f2f2f2"/></svg>
<svg x="153.02" y="62.10" width="7.30" height="17.60" overflow="hidden"><rect x="0.00" y="0.00" width="7.30" height="17.60" fill="url(#gBg)"/><path d="M3.65,1.03 L4.53,1.84 L5.69,3.78 L6.72,6.21 L7.23,8.80 L7.30,11.71 L7.15,14.31 L6.57,16.09 L5.11,16.73 L2.19,16.73 L0.73,16.09 L0.15,14.31 L0.00,11.71 L0.07,8.80 L0.58,6.21 L1.61,3.78 L2.77,1.84Z" fill="#6410f8"/><ellipse cx="3.65" cy="11.97" rx="2.34" ry="1.06" fill="#f2f2f2"/></svg>
<svg x="162.50" y="62.10" width="7.30" height="17.60" overflow="hidden"><rect x="0.00" y="0.00" width="7.30" height="17.60" fill="url(#gBg)"/><path d="M3.65,1.03 L4.53,1.84 L5.69,3.78 L6.72,6.21 L7.23,8.80 L7.30,11.71 L7.15,14.31 L6.57,16.09 L5.11,16.73 L2.19,16.73 L0.73,16.09 L0.15,14.31 L0.00,11.71 L0.07,8.80 L0.58,6.21 L1.61,3.78 L2.77,1.84Z" fill="url(#gBody)"/><ellipse cx="3.65" cy="7.39" rx="3.07" ry="3.34" fill="#6410f8"/><ellipse cx="0.88" cy="13.73" rx="1.31" ry="1.31" fill="#6410f8"/><ellipse cx="6.42" cy="13.73" rx="1.31" ry="1.31" fill="#6410f8"/></svg>
<svg x="170.77" y="62.10" width="7.30" height="17.60" overflow="hidden"><rect x="0.00" y="0.00" width="7.30" height="17.60" fill="url(#gBg)"/><path d="M3.65,1.03 L4.53,1.84 L5.69,3.78 L6.72,6.21 L7.23,8.80 L7.30,11.71 L7.15,14.31 L6.57,16.09 L5.11,16.73 L2.19,16.73 L0.73,16.09 L0.15,14.31 L0.00,11.71 L0.07,8.80 L0.58,6.21 L1.61,3.78 L2.77,1.84Z" fill="url(#gBody)"/><ellipse cx="3.65" cy="7.39" rx="3.07" ry="3.34" fill="#6410f8"/><ellipse cx="0.88" cy="13.73" rx="1.31" ry="1.31" fill="#6410f8"/><ellipse cx="6.42" cy="13.73" rx="1.31" ry="1.31" fill="#6410f8"/></svg>
<svg x="179.04" y="62.10" width="7.30" height="17.60" overflow="hidden"><rect x="0.00" y="0.00" width="7.30" height="17.60" fill="url(#gBg)"/><path d="M3.65,1.03 L4.53,1.84 L5.69,3.78 L6.72,6.21 L7.23,8.80 L7.30,11.71 L7.15,14.31 L6.57,16.09 L5.11,16.73 L2.19,16.73 L0.73,16.09 L0.15,14.31 L0.00,11.71 L0.07,8.80 L0.58,6.21 L1.61,3.78 L2.77,1.84Z" fill="url(#gBody)"/><ellipse cx="3.65" cy="7.39" rx="3.07" ry="3.34" fill="#6410f8"/><ellipse cx="0.88" cy="13.73" rx="1.31" ry="1.31" fill="#6410f8"/><ellipse cx="6.42" cy="13.73" rx="1.31" ry="1.31" fill="#6410f8"/></svg>
<svg x="187.31" y="62.10" width="7.30" height="17.60" overflow="hidden"><rect x="0.00" y="0.00" width="7.30" height="17.60" fill="url(#gBg)"/><path d="M3.65,1.03 L4.53,1.84 L5.69,3.78 L6.72,6.21 L7.23,8.80 L7.30,11.71 L7.15,14.31 L6.57,16.09 L5.11,16.73 L2.19,16.73 L0.73,16.09 L0.15,14.31 L0.00,11.71 L0.07,8.80 L0.58,6.21 L1.61,3.78 L2.77,1.84Z" fill="#6410f8"/><ellipse cx="3.65" cy="11.97" rx="2.34" ry="1.06" fill="#f2f2f2"/></svg>
<svg x="195.58" y="62.10" width="7.30" height="17.60" overflow="hidden"><rect x="0.00" y="0.00" width="7.30" height="17.60" fill="url(#gBg)"/><path d="M3.65,1.03 L4.53,1.84 L5.69,3.78 L6.72,6.21 L7.23,8.80 L7.30,11.71 L7.15,14.31 L6.57,16.09 L5.11,16.73 L2.19,16.73 L0.73,16.09 L0.15,14.31 L0.00,11.71 L0.07,8.80 L0.58,6.21 L1.61,3.78 L2.77,1.84Z" fill="url(#gBody)"/><ellipse cx="3.65" cy="7.39" rx="3.07" ry="3.34" fill="#6410f8"/><ellipse cx="0.88" cy="13.73" rx="1.31" ry="1.31" fill="#6410f8"/><ellipse cx="6.42" cy="13.73" rx="1.31" ry="1.31" fill="#6410f8"/></svg>
<svg x="205.30" y="62.10" width="7.30" height="17.60" overflow="hidden"><rect x="0.00" y="0.00" width="7.30" height="17.60" fill="url(#gBg)"/><path d="M3.65,1.03 L4.53,1.84 L5.69,3.78 L6.72,6.21 L7.23,8.80 L7.30,11.71 L7.15,14.31 L6.57,16.09 L5.11,16.73 L2.19,16.73 L0.73,16.09 L0.15,14.31 L0.00,11.71 L0.07,8.80 L0.58,6.21 L1.61,3.78 L2.77,1.84Z" fill="url(#gBody)"/><ellipse cx="4.22" cy="7.92" rx="1.09" ry="0.88" fill="#6410f8" opacity="0.8"/><ellipse cx="2.19" cy="13.20" rx="0.73" ry="0.70" fill="#6410f8" opacity="0.7"/></svg>
<svg x="213.28" y="62.10" width="7.30" height="17.60" overflow="hidden"><rect x="0.00" y="0.00" width="7.30" height="17.60" fill="url(#gBg)"/><path d="M3.65,1.03 L4.53,1.84 L5.69,3.78 L6.72,6.21 L7.23,8.80 L7.30,11.71 L7.15,14.31 L6.57,16.09 L5.11,16.73 L2.19,16.73 L0.73,16.09 L0.15,14.31 L0.00,11.71 L0.07,8.80 L0.58,6.21 L1.61,3.78 L2.77,1.84Z" fill="url(#gBody)"/><ellipse cx="3.43" cy="7.92" rx="1.09" ry="0.88" fill="#6410f8" opacity="0.8"/><ellipse cx="2.19" cy="13.20" rx="0.73" ry="0.70" fill="#6410f8" opacity="0.7"/></svg>
<svg x="221.26" y="62.10" width="7.30" height="17.60" overflow="hidden"><rect x="0.00" y="0.00" width="7.30" height="17.60" fill="url(#gBg)"/><path d="M3.65,1.03 L4.53,1.84 L5.69,3.78 L6.72,6.21 L7.23,8.80 L7.30,11.71 L7.15,14.31 L6.57,16.09 L5.11,16.73 L2.19,16.73 L0.73,16.09 L0.15,14.31 L0.00,11.71 L0.07,8.80 L0.58,6.21 L1.61,3.78 L2.77,1.84Z" fill="url(#gBody)"/><ellipse cx="3.72" cy="7.92" rx="1.09" ry="0.88" fill="#6410f8" opacity="0.8"/><ellipse cx="2.19" cy="13.20" rx="0.73" ry="0.70" fill="#6410f8" opacity="0.7"/></svg>
<svg x="229.24" y="62.10" width="7.30" height="17.60" overflow="hidden"><rect x="0.00" y="0.00" width="7.30" height="17.60" fill="url(#gBg)"/><path d="M3.65,1.03 L4.53,1.84 L5.69,3.78 L6.72,6.21 L7.23,8.80 L7.30,11.71 L7.15,14.31 L6.57,16.09 L5.11,16.73 L2.19,16.73 L0.73,16.09 L0.15,14.31 L0.00,11.71 L0.07,8.80 L0.58,6.21 L1.61,3.78 L2.77,1.84Z" fill="url(#gBody)"/><ellipse cx="3.33" cy="7.92" rx="2.92" ry="2.82" fill="#6410f8"/><ellipse cx="0.73" cy="14.08" rx="1.24" ry="1.24" fill="#6410f8"/><ellipse cx="6.57" cy="14.08" rx="1.24" ry="1.24" fill="#6410f8"/></svg>
<svg x="237.22" y="62.10" width="7.30" height="17.60" overflow="hidden"><rect x="0.00" y="0.00" width="7.30" height="17.60" fill="url(#gBg)"/><path d="M3.65,1.03 L4.53,1.84 L5.69,3.78 L6.72,6.21 L7.23,8.80 L7.30,11.71 L7.15,14.31 L6.57,16.09 L5.11,16.73 L2.19,16.73 L0.73,16.09 L0.15,14.31 L0.00,11.71 L0.07,8.80 L0.58,6.21 L1.61,3.78 L2.77,1.84Z" fill="url(#gBody)"/><ellipse cx="3.65" cy="7.92" rx="2.92" ry="2.82" fill="#6410f8"/><ellipse cx="0.73" cy="14.08" rx="1.24" ry="1.24" fill="#6410f8"/><ellipse cx="6.57" cy="14.08" rx="1.24" ry="1.24" fill="#6410f8"/></svg>
<svg x="37.00" y="81.70" width="7.30" height="17.60" overflow="hidden"><rect x="0.00" y="0.00" width="7.30" height="17.60" fill="url(#gBg)"/><path d="M3.65,1.03 L4.53,1.84 L5.69,3.78 L6.72,6.21 L7.23,8.80 L7.30,11.71 L7.15,14.31 L6.57,16.09 L5.11,16.73 L2.19,16.73 L0.73,16.09 L0.15,14.31 L0.00,11.71 L0.07,8.80 L0.58,6.21 L1.61,3.78 L2.77,1.84Z" fill="#5a14f4"/><ellipse cx="3.65" cy="7.39" rx="2.34" ry="3.87" fill="url(#gBlue)"/><ellipse cx="0.51" cy="11.62" rx="1.02" ry="1.02" fill="#3a90ff"/><ellipse cx="6.79" cy="11.62" rx="1.02" ry="1.02" fill="#3a90ff"/></svg>
<svg x="45.00" y="81.70" width="7.30" height="17.60" overflow="hidden"><rect x="0.00" y="0.00" width="7.30" height="17.60" fill="url(#gBg)"/><path d="M3.65,1.03 L4.53,1.84 L5.69,3.78 L6.72,6.21 L7.23,8.80 L7.30,11.71 L7.15,14.31 L6.57,16.09 L5.11,16.73 L2.19,16.73 L0.73,16.09 L0.15,14.31 L0.00,11.71 L0.07,8.80 L0.58,6.21 L1.61,3.78 L2.77,1.84Z" fill="#5a14f4"/><ellipse cx="3.65" cy="7.39" rx="2.34" ry="3.87" fill="url(#gBlue)"/><ellipse cx="0.51" cy="11.62" rx="1.02" ry="1.02" fill="#3a90ff"/><ellipse cx="6.79" cy="11.62" rx="1.02" ry="1.02" fill="#3a90ff"/></svg>
<svg x="53.00" y="81.70" width="7.30" height="17.60" overflow="hidden"><rect x="0.00" y="0.00" width="7.30" height="17.60" fill="url(#gBg)"/><path d="M3.65,1.03 L4.53,1.84 L5.69,3.78 L6.72,6.21 L7.23,8.80 L7.30,11.71 L7.15,14.31 L6.57,16.09 L5.11,16.73 L2.19,16.73 L0.73,16.09 L0.15,14.31 L0.00,11.71 L0.07,8.80 L0.58,6.21 L1.61,3.78 L2.77,1.84Z" fill="#5a14f4"/><ellipse cx="3.65" cy="7.39" rx="2.34" ry="3.87" fill="url(#gBlue)"/><ellipse cx="3.65" cy="7.74" rx="2.92" ry="1.76" fill="url(#gGrn)"/><ellipse cx="0.51" cy="11.62" rx="1.02" ry="1.02" fill="#3a90ff"/><ellipse cx="6.79" cy="11.62" rx="1.02" ry="1.02" fill="#3a90ff"/></svg>
<svg x="61.00" y="81.70" width="7.30" height="17.60" overflow="hidden"><rect x="0.00" y="0.00" width="7.30" height="17.60" fill="url(#gBg)"/><path d="M3.65,1.03 L4.53,1.84 L5.69,3.78 L6.72,6.21 L7.23,8.80 L7.30,11.71 L7.15,14.31 L6.57,16.09 L5.11,16.73 L2.19,16.73 L0.73,16.09 L0.15,14.31 L0.00,11.71 L0.07,8.80 L0.58,6.21 L1.61,3.78 L2.77,1.84Z" fill="#5a14f4"/><ellipse cx="3.65" cy="7.39" rx="2.34" ry="3.87" fill="url(#gBlue)"/><ellipse cx="0.51" cy="11.62" rx="1.02" ry="1.02" fill="#3a90ff"/><ellipse cx="6.79" cy="11.62" rx="1.02" ry="1.02" fill="#3a90ff"/></svg>
<svg x="69.00" y="81.70" width="7.30" height="17.60" overflow="hidden"><rect x="0.00" y="0.00" width="7.30" height="17.60" fill="url(#gBg)"/><path d="M3.65,1.03 L4.53,1.84 L5.69,3.78 L6.72,6.21 L7.23,8.80 L7.30,11.71 L7.15,14.31 L6.57,16.09 L5.11,16.73 L2.19,16.73 L0.73,16.09 L0.15,14.31 L0.00,11.71 L0.07,8.80 L0.58,6.21 L1.61,3.78 L2.77,1.84Z" fill="#5a14f4"/><ellipse cx="3.65" cy="7.39" rx="2.34" ry="3.87" fill="url(#gBlue)"/><ellipse cx="0.51" cy="11.62" rx="1.02" ry="1.02" fill="#3a90ff"/><ellipse cx="6.79" cy="11.62" rx="1.02" ry="1.02" fill="#3a90ff"/></svg>
<svg x="78.20" y="81.70" width="7.30" height="17.60" overflow="hidden"><rect x="0.00" y="0.00" width="7.30" height="17.60" fill="url(#gBg)"/><path d="M3.65,1.03 L4.53,1.84 L5.69,3.78 L6.72,6.21 L7.23,8.80 L7.30,11.71 L7.15,14.31 L6.57,16.09 L5.11,16.73 L2.19,16.73 L0.73,16.09 L0.15,14.31 L0.00,11.71 L0.07,8.80 L0.58,6.21 L1.61,3.78 L2.77,1.84Z" fill="#5a14f4"/><ellipse cx="3.65" cy="7.39" rx="2.34" ry="3.87" fill="url(#gBlue)"/><ellipse cx="0.51" cy="11.62" rx="1.02" ry="1.02" fill="#3a90ff"/><ellipse cx="6.79" cy="11.62" rx="1.02" ry="1.02" fill="#3a90ff"/></svg>
<svg x="86.35" y="81.70" width="7.30" height="17.60" overflow="hidden"><rect x="0.00" y="0.00" width="7.30" height="17.60" fill="url(#gBg)"/><path d="M3.65,1.03 L4.53,1.84 L5.69,3.78 L6.72,6.21 L7.23,8.80 L7.30,11.71 L7.15,14.31 L6.57,16.09 L5.11,16.73 L2.19,16.73 L0.73,16.09 L0.15,14.31 L0.00,11.71 L0.07,8.80 L0.58,6.21 L1.61,3.78 L2.77,1.84Z" fill="#5a14f4"/><ellipse cx="3.65" cy="7.39" rx="2.34" ry="3.87" fill="url(#gBlue)"/><ellipse cx="0.51" cy="11.62" rx="1.02" ry="1.02" fill="#3a90ff"/><ellipse cx="6.79" cy="11.62" rx="1.02" ry="1.02" fill="#3a90ff"/></svg>
<svg x="94.50" y="81.70" width="7.30" height="17.60" overflow="hidden"><rect x="0.00" y="0.00" width="7.30" height="17.60" fill="url(#gBg)"/><path d="M3.65,1.03 L4.53,1.84 L5.69,3.78 L6.72,6.21 L7.23,8.80 L7.30,11.71 L7.15,14.31 L6.57,16.09 L5.11,16.73 L2.19,16.73 L0.73,16.09 L0.15,14.31 L0.00,11.71 L0.07,8.80 L0.58,6.21 L1.61,3.78 L2.77,1.84Z" fill="#5a14f4"/><ellipse cx="3.65" cy="7.39" rx="2.34" ry="3.87" fill="url(#gBlue)"/><ellipse cx="0.51" cy="11.62" rx="1.02" ry="1.02" fill="#3a90ff"/><ellipse cx="6.79" cy="11.62" rx="1.02" ry="1.02" fill="#3a90ff"/></svg>
<svg x="102.65" y="81.70" width="7.30" height="17.60" overflow="hidden"><rect x="0.00" y="0.00" width="7.30" height="17.60" fill="url(#gBg)"/><path d="M3.65,1.03 L4.53,1.84 L5.69,3.78 L6.72,6.21 L7.23,8.80 L7.30,11.71 L7.15,14.31 L6.57,16.09 L5.11,16.73 L2.19,16.73 L0.73,16.09 L0.15,14.31 L0.00,11.71 L0.07,8.80 L0.58,6.21 L1.61,3.78 L2.77,1.84Z" fill="#5a14f4"/><ellipse cx="3.65" cy="7.39" rx="2.34" ry="3.87" fill="url(#gBlue)"/><ellipse cx="0.51" cy="11.62" rx="1.02" ry="1.02" fill="#3a90ff"/><ellipse cx="6.79" cy="11.62" rx="1.02" ry="1.02" fill="#3a90ff"/></svg>
<svg x="110.80" y="81.70" width="7.30" height="17.60" overflow="hidden"><rect x="0.00" y="0.00" width="7.30" height="17.60" fill="url(#gBg)"/><path d="M3.65,1.03 L4.53,1.84 L5.69,3.78 L6.72,6.21 L7.23,8.80 L7.30,11.71 L7.15,14.31 L6.57,16.09 L5.11,16.73 L2.19,16.73 L0.73,16.09 L0.15,14.31 L0.00,11.71 L0.07,8.80 L0.58,6.21 L1.61,3.78 L2.77,1.84Z" fill="#5a14f4"/><ellipse cx="3.65" cy="7.39" rx="2.34" ry="3.87" fill="url(#gBlue)"/><ellipse cx="0.51" cy="11.62" rx="1.02" ry="1.02" fill="#3a90ff"/><ellipse cx="6.79" cy="11.62" rx="1.02" ry="1.02" fill="#3a90ff"/></svg>
<svg x="120.30" y="81.70" width="7.30" height="17.60" overflow="hidden"><rect x="0.00" y="0.00" width="7.30" height="17.60" fill="url(#gBg)"/><path d="M3.65,1.03 L4.53,1.84 L5.69,3.78 L6.72,6.21 L7.23,8.80 L7.30,11.71 L7.15,14.31 L6.57,16.09 L5.11,16.73 L2.19,16.73 L0.73,16.09 L0.15,14.31 L0.00,11.71 L0.07,8.80 L0.58,6.21 L1.61,3.78 L2.77,1.84Z" fill="#5a14f4"/><ellipse cx="3.65" cy="7.39" rx="2.34" ry="3.87" fill="url(#gBlue)"/><ellipse cx="0.51" cy="11.62" rx="1.02" ry="1.02" fill="#3a90ff"/><ellipse cx="6.79" cy="11.62" rx="1.02" ry="1.02" fill="#3a90ff"/></svg>
<svg x="128.48" y="81.70" width="7.30" height="17.60" overflow="hidden"><rect x="0.00" y="0.00" width="7.30" height="17.60" fill="url(#gBg)"/><path d="M3.65,1.03 L4.53,1.84 L5.69,3.78 L6.72,6.21 L7.23,8.80 L7.30,11.71 L7.15,14.31 L6.57,16.09 L5.11,16.73 L2.19,16.73 L0.73,16.09 L0.15,14.31 L0.00,11.71 L0.07,8.80 L0.58,6.21 L1.61,3.78 L2.77,1.84Z" fill="#5a14f4"/><ellipse cx="3.65" cy="7.39" rx="2.34" ry="3.87" fill="url(#gBlue)"/><ellipse cx="0.51" cy="11.62" rx="1.02" ry="1.02" fill="#3a90ff"/><ellipse cx="6.79" cy="11.62" rx="1.02" ry="1.02" fill="#3a90ff"/></svg>
<svg x="136.66" y="81.70" width="7.30" height="17.60" overflow="hidden"><rect x="0.00" y="0.00" width="7.30" height="17.60" fill="url(#gBg)"/><path d="M3.65,1.03 L4.53,1.84 L5.69,3.78 L6.72,6.21 L7.23,8.80 L7.30,11.71 L7.15,14.31 L6.57,16.09 L5.11,16.73 L2.19,16.73 L0.73,16.09 L0.15,14.31 L0.00,11.71 L0.07,8.80 L0.58,6.21 L1.61,3.78 L2.77,1.84Z" fill="#5a14f4"/><ellipse cx="3.65" cy="7.39" rx="2.34" ry="3.87" fill="url(#gBlue)"/><ellipse cx="0.51" cy="11.62" rx="1.02" ry="1.02" fill="#3a90ff"/><ellipse cx="6.79" cy="11.62" rx="1.02" ry="1.02" fill="#3a90ff"/></svg>
<svg x="144.84" y="81.70" width="7.30" height="17.60" overflow="hidden"><rect x="0.00" y="0.00" width="7.30" height="17.60" fill="url(#gBg)"/><path d="M3.65,1.03 L4.53,1.84 L5.69,3.78 L6.72,6.21 L7.23,8.80 L7.30,11.71 L7.15,14.31 L6.57,16.09 L5.11,16.73 L2.19,16.73 L0.73,16.09 L0.15,14.31 L0.00,11.71 L0.07,8.80 L0.58,6.21 L1.61,3.78 L2.77,1.84Z" fill="#5a14f4"/><ellipse cx="3.65" cy="7.39" rx="2.34" ry="3.87" fill="url(#gBlue)"/><ellipse cx="0.51" cy="11.62" rx="1.02" ry="1.02" fill="#3a90ff"/><ellipse cx="6.79" cy="11.62" rx="1.02" ry="1.02" fill="#3a90ff"/></svg>
<svg x="153.02" y="81.70" width="7.30" height="17.60" overflow="hidden"><rect x="0.00" y="0.00" width="7.30" height="17.60" fill="url(#gBg)"/><path d="M3.65,1.03 L4.53,1.84 L5.69,3.78 L6.72,6.21 L7.23,8.80 L7.30,11.71 L7.15,14.31 L6.57,16.09 L5.11,16.73 L2.19,16.73 L0.73,16.09 L0.15,14.31 L0.00,11.71 L0.07,8.80 L0.58,6.21 L1.61,3.78 L2.77,1.84Z" fill="#5a14f4"/><ellipse cx="3.65" cy="7.39" rx="2.34" ry="3.87" fill="url(#gBlue)"/><ellipse cx="0.51" cy="11.62" rx="1.02" ry="1.02" fill="#3a90ff"/><ellipse cx="6.79" cy="11.62" rx="1.02" ry="1.02" fill="#3a90ff"/></svg>
<svg x="162.50" y="81.70" width="7.30" height="17.60" overflow="hidden"><rect x="0.00" y="0.00" width="7.30" height="17.60" fill="url(#gBg)"/><path d="M3.65,1.03 L4.53,1.84 L5.69,3.78 L6.72,6.21 L7.23,8.80 L7.30,11.71 L7.15,14.31 L6.57,16.09 L5.11,16.73 L2.19,16.73 L0.73,16.09 L0.15,14.31 L0.00,11.71 L0.07,8.80 L0.58,6.21 L1.61,3.78 L2.77,1.84Z" fill="#5a14f4"/><ellipse cx="3.65" cy="7.39" rx="2.34" ry="3.87" fill="url(#gBlue)"/><ellipse cx="0.51" cy="11.62" rx="1.02" ry="1.02" fill="#3a90ff"/><ellipse cx="6.79" cy="11.62" rx="1.02" ry="1.02" fill="#3a90ff"/></svg>
<svg x="170.77" y="81.70" width="7.30" height="17.60" overflow="hidden"><rect x="0.00" y="0.00" width="7.30" height="17.60" fill="url(#gBg)"/><path d="M3.65,1.03 L4.53,1.84 L5.69,3.78 L6.72,6.21 L7.23,8.80 L7.30,11.71 L7.15,14.31 L6.57,16.09 L5.11,16.73 L2.19,16.73 L0.73,16.09 L0.15,14.31 L0.00,11.71 L0.07,8.80 L0.58,6.21 L1.61,3.78 L2.77,1.84Z" fill="#5a14f4"/><ellipse cx="3.65" cy="7.39" rx="2.34" ry="3.87" fill="url(#gBlue)"/><ellipse cx="0.51" cy="11.62" rx="1.02" ry="1.02" fill="#3a90ff"/><ellipse cx="6.79" cy="11.62" rx="1.02" ry="1.02" fill="#3a90ff"/></svg>
<svg x="179.04" y="81.70" width="7.30" height="17.60" overflow="hidden"><rect x="0.00" y="0.00" width="7.30" height="17.60" fill="url(#gBg)"/><path d="M3.65,1.03 L4.53,1.84 L5.69,3.78 L6.72,6.21 L7.23,8.80 L7.30,11.71 L7.15,14.31 L6.57,16.09 L5.11,16.73 L2.19,16.73 L0.73,16.09 L0.15,14.31 L0.00,11.71 L0.07,8.80 L0.58,6.21 L1.61,3.78 L2.77,1.84Z" fill="#5a14f4"/><ellipse cx="3.65" cy="7.39" rx="2.34" ry="3.87" fill="url(#gBlue)"/><ellipse cx="0.51" cy="11.62" rx="1.02" ry="1.02" fill="#3a90ff"/><ellipse cx="6.79" cy="11.62" rx="1.02" ry="1.02" fill="#3a90ff"/></svg>
<svg x="187.31" y="81.70" width="7.30" height="17.60" overflow="hidden"><rect x="0.00" y="0.00" width="7.30" height="17.60" fill="url(#gBg)"/><path d="M3.65,1.03 L4.53,1.84 L5.69,3.78 L6.72,6.21 L7.23,8.80 L7.30,11.71 L7.15,14.31 L6.57,16.09 L5.11,16.73 L2.19,16.73 L0.73,16.09 L0.15,14.31 L0.00,11.71 L0.07,8.80 L0.58,6.21 L1.61,3.78 L2.77,1.84Z" fill="#5a14f4"/><ellipse cx="3.65" cy="7.39" rx="2.34" ry="3.87" fill="url(#gBlue)"/><ellipse cx="0.51" cy="11.62" rx="1.02" ry="1.02" fill="#3a90ff"/><ellipse cx="6.79" cy="11.62" rx="1.02" ry="1.02" fill="#3a90ff"/></svg>
<svg x="195.58" y="81.70" width="7.30" height="17.60" overflow="hidden"><rect x="0.00" y="0.00" width="7.30" height="17.60" fill="url(#gBg)"/><path d="M3.65,1.03 L4.53,1.84 L5.69,3.78 L6.72,6.21 L7.23,8.80 L7.30,11.71 L7.15,14.31 L6.57,16.09 L5.11,16.73 L2.19,16.73 L0.73,16.09 L0.15,14.31 L0.00,11.71 L0.07,8.80 L0.58,6.21 L1.61,3.78 L2.77,1.84Z" fill="#5a14f4"/><ellipse cx="3.65" cy="7.39" rx="2.34" ry="3.87" fill="url(#gBlue)"/><ellipse cx="0.51" cy="11.62" rx="1.02" ry="1.02" fill="#3a90ff"/><ellipse cx="6.79" cy="11.62" rx="1.02" ry="1.02" fill="#3a90ff"/></svg>
<svg x="205.30" y="81.70" width="7.30" height="17.60" overflow="hidden"><rect x="0.00" y="0.00" width="7.30" height="17.60" fill="url(#gBg)"/><path d="M3.65,1.03 L4.53,1.84 L5.69,3.78 L6.72,6.21 L7.23,8.80 L7.30,11.71 L7.15,14.31 L6.57,16.09 L5.11,16.73 L2.19,16.73 L0.73,16.09 L0.15,14.31 L0.00,11.71 L0.07,8.80 L0.58,6.21 L1.61,3.78 L2.77,1.84Z" fill="url(#gBody)"/><ellipse cx="3.65" cy="6.34" rx="3.50" ry="4.58" fill="#5a14f4"/><ellipse cx="3.65" cy="5.98" rx="2.19" ry="2.46" fill="url(#gBlue)"/><ellipse cx="0.44" cy="12.67" rx="1.46" ry="1.46" fill="#5a14f4"/><ellipse cx="6.86" cy="12.67" rx="1.46" ry="1.46" fill="#5a14f4"/><ellipse cx="3.65" cy="15.84" rx="1.46" ry="1.06" fill="#5a14f4"/></svg>
<svg x="213.28" y="81.70" width="7.30" height="17.60" overflow="hidden"><rect x="0.00" y="0.00" width="7.30" height="17.60" fill="url(#gBg)"/><path d="M3.65,1.03 L4.53,1.84 L5.69,3.78 L6.72,6.21 L7.23,8.80 L7.30,11.71 L7.15,14.31 L6.57,16.09 L5.11,16.73 L2.19,16.73 L0.73,16.09 L0.15,14.31 L0.00,11.71 L0.07,8.80 L0.58,6.21 L1.61,3.78 L2.77,1.84Z" fill="url(#gBody)"/><ellipse cx="3.65" cy="6.34" rx="3.50" ry="4.58" fill="#5a14f4"/><ellipse cx="3.65" cy="5.98" rx="2.19" ry="2.46" fill="url(#gBlue)"/><ellipse cx="0.44" cy="12.67" rx="1.46" ry="1.46" fill="#5a14f4"/><ellipse cx="6.86" cy="12.67" rx="1.46" ry="1.46" fill="#5a14f4"/><ellipse cx="3.65" cy="15.84" rx="1.46" ry="1.06" fill="#5a14f4"/></svg>
<svg x="221.26" y="81.70" width="7.30" height="17.60" overflow="hidden"><rect x="0.00" y="0.00" width="7.30" height="17.60" fill="url(#gBg)"/><path d="M3.65,1.03 L4.53,1.84 L5.69,3.78 L6.72,6.21 L7.23,8.80 L7.30,11.71 L7.15,14.31 L6.57,16.09 L5.11,16.73 L2.19,16.73 L0.73,16.09 L0.15,14.31 L0.00,11.71 L0.07,8.80 L0.58,6.21 L1.61,3.78 L2.77,1.84Z" fill="url(#gBody)"/><ellipse cx="3.65" cy="6.34" rx="3.50" ry="4.58" fill="#5a14f4"/><ellipse cx="3.65" cy="5.98" rx="2.19" ry="2.46" fill="url(#gBlue)"/><ellipse cx="0.44" cy="12.67" rx="1.46" ry="1.46" fill="#5a14f4"/><ellipse cx="6.86" cy="12.67" rx="1.46" ry="1.46" fill="#5a14f4"/><ellipse cx="3.65" cy="15.84" rx="1.46" ry="1.06" fill="#5a14f4"/></svg>
<svg x="229.24" y="81.70" width="7.30" height="17.60" overflow="hidden"><rect x="0.00" y="0.00" width="7.30" height="17.60" fill="url(#gBg)"/><path d="M3.65,1.03 L4.53,1.84 L5.69,3.78 L6.72,6.21 L7.23,8.80 L7.30,11.71 L7.15,14.31 L6.57,16.09 L5.11,16.73 L2.19,16.73 L0.73,16.09 L0.15,14.31 L0.00,11.71 L0.07,8.80 L0.58,6.21 L1.61,3.78 L2.77,1.84Z" fill="url(#gBody)"/><ellipse cx="3.65" cy="6.34" rx="3.50" ry="4.58" fill="#5a14f4"/><ellipse cx="3.65" cy="5.98" rx="2.19" ry="2.46" fill="url(#gBlue)"/><ellipse cx="0.44" cy="12.67" rx="1.46" ry="1.46" fill="#5a14f4"/><ellipse cx="6.86" cy="12.67" rx="1.46" ry="1.46" fill="#5a14f4"/><ellipse cx="3.65" cy="15.84" rx="1.46" ry="1.06" fill="#5a14f4"/></svg>
<svg x="237.22" y="81.70" width="7.30" height="17.60" overflow="hidden"><rect x="0.00" y="0.00" width="7.30" height="17.60" fill="url(#gBg)"/><path d="M3.65,1.03 L4.53,1.84 L5.69,3.78 L6.72,6.21 L7.23,8.80 L7.30,11.71 L7.15,14.31 L6.57,16.09 L5.11,16.73 L2.19,16.73 L0.73,16.09 L0.15,14.31 L0.00,11.71 L0.07,8.80 L0.58,6.21 L1.61,3.78 L2.77,1.84Z" fill="url(#gBody)"/><ellipse cx="3.65" cy="6.34" rx="3.50" ry="4.58" fill="#5a14f4"/><ellipse cx="3.65" cy="5.98" rx="2.19" ry="2.46" fill="url(#gBlue)"/><ellipse cx="0.44" cy="12.67" rx="1.46" ry="1.46" fill="#5a14f4"/><ellipse cx="6.86" cy="12.67" rx="1.46" ry="1.46" fill="#5a14f4"/><ellipse cx="3.65" cy="15.84" rx="1.46" ry="1.06" fill="#5a14f4"/></svg>
<svg x="37.00" y="101.20" width="7.30" height="17.60" overflow="hidden"><rect x="0.00" y="0.00" width="7.30" height="17.60" fill="url(#gBg)"/><path d="M3.65,1.03 L4.53,1.84 L5.69,3.78 L6.72,6.21 L7.23,8.80 L7.30,11.71 L7.15,14.31 L6.57,16.09 L5.11,16.73 L2.19,16.73 L0.73,16.09 L0.15,14.31 L0.00,11.71 L0.07,8.80 L0.58,6.21 L1.61,3.78 L2.77,1.84Z" fill="#5a14f4"/><ellipse cx="3.65" cy="7.39" rx="2.34" ry="3.87" fill="url(#gBlue)"/><ellipse cx="0.51" cy="11.62" rx="1.02" ry="1.02" fill="#3a90ff"/><ellipse cx="6.79" cy="11.62" rx="1.02" ry="1.02" fill="#3a90ff"/></svg>
<svg x="45.00" y="101.20" width="7.30" height="17.60" overflow="hidden"><rect x="0.00" y="0.00" width="7.30" height="17.60" fill="url(#gBg)"/><path d="M3.65,1.03 L4.53,1.84 L5.69,3.78 L6.72,6.21 L7.23,8.80 L7.30,11.71 L7.15,14.31 L6.57,16.09 L5.11,16.73 L2.19,16.73 L0.73,16.09 L0.15,14.31 L0.00,11.71 L0.07,8.80 L0.58,6.21 L1.61,3.78 L2.77,1.84Z" fill="#2a30ff"/><ellipse cx="3.65" cy="6.69" rx="3.29" ry="3.52" fill="url(#gGrn)"/><ellipse cx="1.46" cy="12.67" rx="1.61" ry="1.58" fill="url(#gHot)"/><ellipse cx="6.21" cy="12.67" rx="1.46" ry="1.41" fill="url(#gGrn)"/></svg>
<text x="56.65" y="113.1" font-size="8.6" fill="#111" text-anchor="middle" textLength="5.0" lengthAdjust="spacingAndGlyphs" stroke="#111" stroke-width="0.3">X</text>
<svg x="61.00" y="101.20" width="7.30" height="17.60" overflow="hidden"><rect x="0.00" y="0.00" width="7.30" height="17.60" fill="url(#gBg)"/><path d="M3.65,1.03 L4.53,1.84 L5.69,3.78 L6.72,6.21 L7.23,8.80 L7.30,11.71 L7.15,14.31 L6.57,16.09 L5.11,16.73 L2.19,16.73 L0.73,16.09 L0.15,14.31 L0.00,11.71 L0.07,8.80 L0.58,6.21 L1.61,3.78 L2.77,1.84Z" fill="#2a30ff"/><ellipse cx="3.65" cy="6.69" rx="3.29" ry="3.52" fill="url(#gGrn)"/><ellipse cx="1.46" cy="12.67" rx="1.61" ry="1.58" fill="url(#gHot)"/><ellipse cx="6.21" cy="12.67" rx="1.46" ry="1.41" fill="url(#gGrn)"/></svg>
<svg x="69.00" y="101.20" width="7.30" height="17.60" overflow="hidden"><rect x="0.00" y="0.00" width="7.30" height="17.60" fill="url(#gBg)"/><path d="M3.65,1.03 L4.53,1.84 L5.69,3.78 L6.72,6.21 L7.23,8.80 L7.30,11.71 L7.15,14.31 L6.57,16.09 L5.11,16.73 L2.19,16.73 L0.73,16.09 L0.15,14.31 L0.00,11.71 L0.07,8.80 L0.58,6.21 L1.61,3.78 L2.77,1.84Z" fill="#2a30ff"/><ellipse cx="3.65" cy="6.69" rx="3.29" ry="3.52" fill="url(#gGrn)"/><ellipse cx="1.46" cy="12.67" rx="1.61" ry="1.58" fill="url(#gHot)"/><ellipse cx="6.21" cy="12.67" rx="1.46" ry="1.41" fill="url(#gGrn)"/></svg>
<svg x="78.20" y="101.20" width="7.30" height="17.60" overflow="hidden"><rect x="0.00" y="0.00" width="7.30" height="17.60" fill="url(#gBg)"/><path d="M3.65,1.03 L4.53,1.84 L5.69,3.78 L6.72,6.21 L7.23,8.80 L7.30,11.71 L7.15,14.31 L6.57,16.09 L5.11,16.73 L2.19,16.73 L0.73,16.09 L0.15,14.31 L0.00,11.71 L0.07,8.80 L0.58,6.21 L1.61,3.78 L2.77,1.84Z" fill="#5a14f4"/><ellipse cx="3.65" cy="6.34" rx="2.19" ry="3.17" fill="url(#gBlue)"/><path d="M1.31,10.91 h4.67 l-0.88,2.82 h-2.92z" fill="#eeeeee"/></svg>
<svg x="86.35" y="101.20" width="7.30" height="17.60" overflow="hidden"><rect x="0.00" y="0.00" width="7.30" height="17.60" fill="url(#gBg)"/><path d="M3.65,1.03 L4.53,1.84 L5.69,3.78 L6.72,6.21 L7.23,8.80 L7.30,11.71 L7.15,14.31 L6.57,16.09 L5.11,16.73 L2.19,16.73 L0.73,16.09 L0.15,14.31 L0.00,11.71 L0.07,8.80 L0.58,6.21 L1.61,3.78 L2.77,1.84Z" fill="#5a14f4"/><ellipse cx="3.65" cy="6.34" rx="2.19" ry="3.17" fill="url(#gBlue)"/><path d="M1.31,10.91 h4.67 l-0.88,2.82 h-2.92z" fill="#eeeeee"/></svg>
<svg x="94.50" y="101.20" width="7.30" height="17.60" overflow="hidden"><rect x="0.00" y="0.00" width="7.30" height="17.60" fill="url(#gBg)"/><path d="M3.65,1.03 L4.53,1.84 L5.69,3.78 L6.72,6.21 L7.23,8.80 L7.30,11.71 L7.15,14.31 L6.57,16.09 L5.11,16.73 L2.19,16.73 L0.73,16.09 L0.15,14.31 L0.00,11.71 L0.07,8.80 L0.58,6.21 L1.61,3.78 L2.77,1.84Z" fill="#5a14f4"/><ellipse cx="3.65" cy="6.34" rx="2.19" ry="3.17" fill="url(#gBlue)"/><path d="M1.31,10.91 h4.67 l-0.88,2.82 h-2.92z" fill="#eeeeee"/></svg>
<svg x="102.65" y="101.20" width="7.30" height="17.60" overflow="hidden"><rect x="0.00" y="0.00" width="7.30" height="17.60" fill="url(#gBg)"/><path d="M3.65,1.03 L4.53,1.84 L5.69,3.78 L6.72,6.21 L7.23,8.80 L7.30,11.71 L7.15,14.31 L6.57,16.09 L5.11,16.73 L2.19,16.73 L0.73,16.09 L0.15,14.31 L0.00,11.71 L0.07,8.80 L0.58,6.21 L1.61,3.78 L2.77,1.84Z" fill="#5a14f4"/><ellipse cx="3.65" cy="6.34" rx="2.19" ry="3.17" fill="url(#gBlue)"/><path d="M1.31,10.91 h4.67 l-0.88,2.82 h-2.92z" fill="#eeeeee"/></svg>
<svg x="110.80" y="101.20" width="7.30" height="17.60" overflow="hidden"><rect x="0.00" y="0.00" width="7.30" height="17.60" fill="url(#gBg)"/><path d="M3.65,1.03 L4.53,1.84 L5.69,3.78 L6.72,6.21 L7.23,8.80 L7.30,11.71 L7.15,14.31 L6.57,16.09 L5.11,16.73 L2.19,16.73 L0.73,16.09 L0.15,14.31 L0.00,11.71 L0.07,8.80 L0.58,6.21 L1.61,3.78 L2.77,1.84Z" fill="#5a14f4"/><ellipse cx="3.65" cy="6.34" rx="2.19" ry="3.17" fill="url(#gBlue)"/><path d="M1.31,10.91 h4.67 l-0.88,2.82 h-2.92z" fill="#eeeeee"/></svg>
<svg x="120.30" y="101.20" width="7.30" height="17.60" overflow="hidden"><rect x="0.00" y="0.00" width="7.30" height="17.60" fill="url(#gBg)"/><path d="M3.65,1.03 L4.53,1.84 L5.69,3.78 L6.72,6.21 L7.23,8.80 L7.30,11.71 L7.15,14.31 L6.57,16.09 L5.11,16.73 L2.19,16.73 L0.73,16.09 L0.15,14.31 L0.00,11.71 L0.07,8.80 L0.58,6.21 L1.61,3.78 L2.77,1.84Z" fill="#5a14f4"/><ellipse cx="3.65" cy="7.39" rx="2.34" ry="3.87" fill="url(#gBlue)"/><ellipse cx="0.51" cy="11.62" rx="1.02" ry="1.02" fill="#3a90ff"/><ellipse cx="6.79" cy="11.62" rx="1.02" ry="1.02" fill="#3a90ff"/></svg>
<svg x="128.48" y="101.20" width="7.30" height="17.60" overflow="hidden"><rect x="0.00" y="0.00" width="7.30" height="17.60" fill="url(#gBg)"/><path d="M3.65,1.03 L4.53,1.84 L5.69,3.78 L6.72,6.21 L7.23,8.80 L7.30,11.71 L7.15,14.31 L6.57,16.09 L5.11,16.73 L2.19,16.73 L0.73,16.09 L0.15,14.31 L0.00,11.71 L0.07,8.80 L0.58,6.21 L1.61,3.78 L2.77,1.84Z" fill="#5a14f4"/><ellipse cx="3.65" cy="7.39" rx="2.34" ry="3.87" fill="url(#gBlue)"/><ellipse cx="0.51" cy="11.62" rx="1.02" ry="1.02" fill="#3a90ff"/><ellipse cx="6.79" cy="11.62" rx="1.02" ry="1.02" fill="#3a90ff"/></svg>
<svg x="136.66" y="101.20" width="7.30" height="17.60" overflow="hidden"><rect x="0.00" y="0.00" width="7.30" height="17.60" fill="url(#gBg)"/><path d="M3.65,1.03 L4.53,1.84 L5.69,3.78 L6.72,6.21 L7.23,8.80 L7.30,11.71 L7.15,14.31 L6.57,16.09 L5.11,16.73 L2.19,16.73 L0.73,16.09 L0.15,14.31 L0.00,11.71 L0.07,8.80 L0.58,6.21 L1.61,3.78 L2.77,1.84Z" fill="#5a14f4"/><ellipse cx="3.65" cy="7.39" rx="2.34" ry="3.87" fill="url(#gBlue)"/><ellipse cx="0.51" cy="11.62" rx="1.02" ry="1.02" fill="#3a90ff"/><ellipse cx="6.79" cy="11.62" rx="1.02" ry="1.02" fill="#3a90ff"/></svg>
<svg x="144.84" y="101.20" width="7.30" height="17.60" overflow="hidden"><rect x="0.00" y="0.00" width="7.30" height="17.60" fill="url(#gBg)"/><path d="M3.65,1.03 L4.53,1.84 L5.69,3.78 L6.72,6.21 L7.23,8.80 L7.30,11.71 L7.15,14.31 L6.57,16.09 L5.11,16.73 L2.19,16.73 L0.73,16.09 L0.15,14.31 L0.00,11.71 L0.07,8.80 L0.58,6.21 L1.61,3.78 L2.77,1.84Z" fill="#5a14f4"/><ellipse cx="3.65" cy="7.39" rx="2.34" ry="3.87" fill="url(#gBlue)"/><ellipse cx="0.51" cy="11.62" rx="1.02" ry="1.02" fill="#3a90ff"/><ellipse cx="6.79" cy="11.62" rx="1.02" ry="1.02" fill="#3a90ff"/></svg>
<svg x="153.02" y="101.20" width="7.30" height="17.60" overflow="hidden"><rect x="0.00" y="0.00" width="7.30" height="17.60" fill="url(#gBg)"/><path d="M3.65,1.03 L4.53,1.84 L5.69,3.78 L6.72,6.21 L7.23,8.80 L7.30,11.71 L7.15,14.31 L6.57,16.09 L5.11,16.73 L2.19,16.73 L0.73,16.09 L0.15,14.31 L0.00,11.71 L0.07,8.80 L0.58,6.21 L1.61,3.78 L2.77,1.84Z" fill="#5a14f4"/><ellipse cx="3.65" cy="7.39" rx="2.34" ry="3.87" fill="url(#gBlue)"/><ellipse cx="0.51" cy="11.62" rx="1.02" ry="1.02" fill="#3a90ff"/><ellipse cx="6.79" cy="11.62" rx="1.02" ry="1.02" fill="#3a90ff"/></svg>
<svg x="162.50" y="101.20" width="7.30" height="17.60" overflow="hidden"><rect x="0.00" y="0.00" width="7.30" height="17.60" fill="url(#gBg)"/><path d="M3.65,1.03 L4.53,1.84 L5.69,3.78 L6.72,6.21 L7.23,8.80 L7.30,11.71 L7.15,14.31 L6.57,16.09 L5.11,16.73 L2.19,16.73 L0.73,16.09 L0.15,14.31 L0.00,11.71 L0.07,8.80 L0.58,6.21 L1.61,3.78 L2.77,1.84Z" fill="#5a14f4"/><ellipse cx="3.65" cy="6.34" rx="2.19" ry="3.17" fill="url(#gBlue)"/><ellipse cx="3.65" cy="12.32" rx="2.19" ry="0.88" fill="#eeeeee"/></svg>
<svg x="170.77" y="101.20" width="7.30" height="17.60" overflow="hidden"><rect x="0.00" y="0.00" width="7.30" height="17.60" fill="url(#gBg)"/><path d="M3.65,1.03 L4.53,1.84 L5.69,3.78 L6.72,6.21 L7.23,8.80 L7.30,11.71 L7.15,14.31 L6.57,16.09 L5.11,16.73 L2.19,16.73 L0.73,16.09 L0.15,14.31 L0.00,11.71 L0.07,8.80 L0.58,6.21 L1.61,3.78 L2.77,1.84Z" fill="#5a14f4"/><ellipse cx="3.65" cy="7.39" rx="2.34" ry="3.87" fill="url(#gBlue)"/><ellipse cx="0.51" cy="11.62" rx="1.02" ry="1.02" fill="#3a90ff"/><ellipse cx="6.79" cy="11.62" rx="1.02" ry="1.02" fill="#3a90ff"/></svg>
<svg x="179.04" y="101.20" width="7.30" height="17.60" overflow="hidden"><rect x="0.00" y="0.00" width="7.30" height="17.60" fill="url(#gBg)"/><path d="M3.65,1.03 L4.53,1.84 L5.69,3.78 L6.72,6.21 L7.23,8.80 L7.30,11.71 L7.15,14.31 L6.57,16.09 L5.11,16.73 L2.19,16.73 L0.73,16.09 L0.15,14.31 L0.00,11.71 L0.07,8.80 L0.58,6.21 L1.61,3.78 L2.77,1.84Z" fill="#5a14f4"/><ellipse cx="3.65" cy="7.39" rx="2.34" ry="3.87" fill="url(#gBlue)"/><ellipse cx="0.51" cy="11.62" rx="1.02" ry="1.02" fill="#3a90ff"/><ellipse cx="6.79" cy="11.62" rx="1.02" ry="1.02" fill="#3a90ff"/></svg>
<svg x="187.31" y="101.20" width="7.30" height="17.60" overflow="hidden"><rect x="0.00" y="0.00" width="7.30" height="17.60" fill="url(#gBg)"/><path d="M3.65,1.03 L4.53,1.84 L5.69,3.78 L6.72,6.21 L7.23,8.80 L7.30,11.71 L7.15,14.31 L6.57,16.09 L5.11,16.73 L2.19,16.73 L0.73,16.09 L0.15,14.31 L0.00,11.71 L0.07,8.80 L0.58,6.21 L1.61,3.78 L2.77,1.84Z" fill="#5a14f4"/><ellipse cx="3.65" cy="7.39" rx="3.07" ry="4.58" fill="url(#gBlue)"/><ellipse cx="3.65" cy="7.92" rx="2.48" ry="1.94" fill="url(#gCyan)"/><ellipse cx="0.58" cy="11.97" rx="1.17" ry="1.17" fill="url(#gCyan)"/><ellipse cx="6.72" cy="11.97" rx="1.17" ry="1.17" fill="url(#gCyan)"/></svg>
<svg x="195.58" y="101.20" width="7.30" height="17.60" overflow="hidden"><rect x="0.00" y="0.00" width="7.30" height="17.60" fill="url(#gBg)"/><path d="M3.65,1.03 L4.53,1.84 L5.69,3.78 L6.72,6.21 L7.23,8.80 L7.30,11.71 L7.15,14.31 L6.57,16.09 L5.11,16.73 L2.19,16.73 L0.73,16.09 L0.15,14.31 L0.00,11.71 L0.07,8.80 L0.58,6.21 L1.61,3.78 L2.77,1.84Z" fill="#5a14f4"/><ellipse cx="3.65" cy="6.34" rx="2.19" ry="3.17" fill="url(#gBlue)"/><ellipse cx="3.65" cy="12.32" rx="2.19" ry="0.88" fill="#eeeeee"/></svg>
<svg x="205.30" y="101.20" width="7.30" height="17.60" overflow="hidden"><rect x="0.00" y="0.00" width="7.30" height="17.60" fill="url(#gBg)"/><path d="M3.65,1.03 L4.53,1.84 L5.69,3.78 L6.72,6.21 L7.23,8.80 L7.30,11.71 L7.15,14.31 L6.57,16.09 L5.11,16.73 L2.19,16.73 L0.73,16.09 L0.15,14.31 L0.00,11.71 L0.07,8.80 L0.58,6.21 L1.61,3.78 L2.77,1.84Z" fill="url(#gBody)"/><ellipse cx="3.65" cy="6.34" rx="3.50" ry="4.58" fill="#5a14f4"/><ellipse cx="3.65" cy="5.98" rx="2.19" ry="2.46" fill="url(#gBlue)"/><ellipse cx="0.44" cy="12.67" rx="1.46" ry="1.46" fill="#5a14f4"/><ellipse cx="6.86" cy="12.67" rx="1.46" ry="1.46" fill="#5a14f4"/><ellipse cx="3.65" cy="15.84" rx="1.46" ry="1.06" fill="#5a14f4"/></svg>
<svg x="213.28" y="101.20" width="7.30" height="17.60" overflow="hidden"><rect x="0.00" y="0.00" width="7.30" height="17.60" fill="url(#gBg)"/><path d="M3.65,1.03 L4.53,1.84 L5.69,3.78 L6.72,6.21 L7.23,8.80 L7.30,11.71 L7.15,14.31 L6.57,16.09 L5.11,16.73 L2.19,16.73 L0.73,16.09 L0.15,14.31 L0.00,11.71 L0.07,8.80 L0.58,6.21 L1.61,3.78 L2.77,1.84Z" fill="url(#gBody)"/><ellipse cx="3.65" cy="6.34" rx="3.50" ry="4.58" fill="#5a14f4"/><ellipse cx="3.65" cy="5.98" rx="2.19" ry="2.46" fill="url(#gBlue)"/><ellipse cx="0.44" cy="12.67" rx="1.46" ry="1.46" fill="#5a14f4"/><ellipse cx="6.86" cy="12.67" rx="1.46" ry="1.46" fill="#5a14f4"/><ellipse cx="3.65" cy="15.84" rx="1.46" ry="1.06" fill="#5a14f4"/></svg>
<svg x="221.26" y="101.20" width="7.30" height="17.60" overflow="hidden"><rect x="0.00" y="0.00" width="7.30" height="17.60" fill="url(#gBg)"/><path d="M3.65,1.03 L4.53,1.84 L5.69,3.78 L6.72,6.21 L7.23,8.80 L7.30,11.71 L7.15,14.31 L6.57,16.09 L5.11,16.73 L2.19,16.73 L0.73,16.09 L0.15,14.31 L0.00,11.71 L0.07,8.80 L0.58,6.21 L1.61,3.78 L2.77,1.84Z" fill="url(#gBody)"/><ellipse cx="3.65" cy="6.34" rx="3.50" ry="4.58" fill="#5a14f4"/><ellipse cx="3.65" cy="5.98" rx="2.19" ry="2.46" fill="url(#gBlue)"/><ellipse cx="0.44" cy="12.67" rx="1.46" ry="1.46" fill="#5a14f4"/><ellipse cx="6.86" cy="12.67" rx="1.46" ry="1.46" fill="#5a14f4"/><ellipse cx="3.65" cy="15.84" rx="1.46" ry="1.06" fill="#5a14f4"/></svg>
<svg x="229.24" y="101.20" width="7.30" height="17.60" overflow="hidden"><rect x="0.00" y="0.00" width="7.30" height="17.60" fill="url(#gBg)"/><path d="M3.65,1.03 L4.53,1.84 L5.69,3.78 L6.72,6.21 L7.23,8.80 L7.30,11.71 L7.15,14.31 L6.57,16.09 L5.11,16.73 L2.19,16.73 L0.73,16.09 L0.15,14.31 L0.00,11.71 L0.07,8.80 L0.58,6.21 L1.61,3.78 L2.77,1.84Z" fill="url(#gBody)"/><ellipse cx="3.65" cy="6.34" rx="3.50" ry="4.58" fill="#5a14f4"/><ellipse cx="3.65" cy="5.98" rx="2.19" ry="2.46" fill="url(#gBlue)"/><ellipse cx="0.44" cy="12.67" rx="1.46" ry="1.46" fill="#5a14f4"/><ellipse cx="6.86" cy="12.67" rx="1.46" ry="1.46" fill="#5a14f4"/><ellipse cx="3.65" cy="15.84" rx="1.46" ry="1.06" fill="#5a14f4"/></svg>
<svg x="237.22" y="101.20" width="7.30" height="17.60" overflow="hidden"><rect x="0.00" y="0.00" width="7.30" height="17.60" fill="url(#gBg)"/><path d="M3.65,1.03 L4.53,1.84 L5.69,3.78 L6.72,6.21 L7.23,8.80 L7.30,11.71 L7.15,14.31 L6.57,16.09 L5.11,16.73 L2.19,16.73 L0.73,16.09 L0.15,14.31 L0.00,11.71 L0.07,8.80 L0.58,6.21 L1.61,3.78 L2.77,1.84Z" fill="url(#gBody)"/><ellipse cx="3.65" cy="6.34" rx="3.50" ry="4.58" fill="#5a14f4"/><ellipse cx="3.65" cy="5.98" rx="2.19" ry="2.46" fill="url(#gBlue)"/><ellipse cx="0.44" cy="12.67" rx="1.46" ry="1.46" fill="#5a14f4"/><ellipse cx="6.86" cy="12.67" rx="1.46" ry="1.46" fill="#5a14f4"/><ellipse cx="3.65" cy="15.84" rx="1.46" ry="1.06" fill="#5a14f4"/></svg>
<text x="40.65" y="138.1" font-size="8.6" fill="#111" text-anchor="middle" textLength="5.0" lengthAdjust="spacingAndGlyphs" stroke="#111" stroke-width="0.3">X</text>
<text x="48.65" y="138.1" font-size="8.6" fill="#111" text-anchor="middle" textLength="5.0" lengthAdjust="spacingAndGlyphs" stroke="#111" stroke-width="0.3">X</text>
<text x="56.65" y="138.1" font-size="8.6" fill="#111" text-anchor="middle" textLength="5.0" lengthAdjust="spacingAndGlyphs" stroke="#111" stroke-width="0.3">X</text>
<text x="64.65" y="138.1" font-size="8.6" fill="#111" text-anchor="middle" textLength="5.0" lengthAdjust="spacingAndGlyphs" stroke="#111" stroke-width="0.3">X</text>
<text x="72.65" y="138.1" font-size="8.6" fill="#111" text-anchor="middle" textLength="5.0" lengthAdjust="spacingAndGlyphs" stroke="#111" stroke-width="0.3">X</text>
<svg x="78.20" y="126.20" width="7.30" height="17.60" overflow="hidden"><rect x="0.00" y="0.00" width="7.30" height="17.60" fill="url(#gBg)"/><path d="M3.65,1.03 L4.53,1.84 L5.69,3.78 L6.72,6.21 L7.23,8.80 L7.30,11.71 L7.15,14.31 L6.57,16.09 L5.11,16.73 L2.19,16.73 L0.73,16.09 L0.15,14.31 L0.00,11.71 L0.07,8.80 L0.58,6.21 L1.61,3.78 L2.77,1.84Z" fill="#5a14f4"/><ellipse cx="3.65" cy="8.80" rx="2.92" ry="5.28" fill="url(#gBlue)"/><ellipse cx="3.65" cy="8.80" rx="2.19" ry="1.76" fill="url(#gHot)"/></svg>
<svg x="86.35" y="126.20" width="7.30" height="17.60" overflow="hidden"><rect x="0.00" y="0.00" width="7.30" height="17.60" fill="#6418f2"/><ellipse cx="3.65" cy="8.80" rx="3.50" ry="7.04" fill="#2a30ff"/><ellipse cx="3.65" cy="3.87" rx="2.19" ry="2.46" fill="url(#gGrn)"/><ellipse cx="3.65" cy="9.15" rx="5.47" ry="5.98" fill="url(#gHot)"/><ellipse cx="3.65" cy="8.80" rx="3.07" ry="2.99" fill="#e81010"/></svg>
<text x="98.15" y="138.1" font-size="8.6" fill="#111" text-anchor="middle" textLength="5.0" lengthAdjust="spacingAndGlyphs" stroke="#111" stroke-width="0.3">X</text>
<svg x="102.65" y="126.20" width="7.30" height="17.60" overflow="hidden"><rect x="0.00" y="0.00" width="7.30" height="17.60" fill="#6418f2"/><ellipse cx="3.65" cy="8.80" rx="3.50" ry="7.04" fill="#2a30ff"/><ellipse cx="3.65" cy="3.87" rx="2.19" ry="2.46" fill="url(#gGrn)"/><ellipse cx="3.65" cy="9.15" rx="5.47" ry="5.98" fill="url(#gHot)"/><ellipse cx="3.65" cy="8.80" rx="3.07" ry="2.99" fill="#e81010"/></svg>
<svg x="110.80" y="126.20" width="7.30" height="17.60" overflow="hidden"><rect x="0.00" y="0.00" width="7.30" height="17.60" fill="#6418f2"/><ellipse cx="3.65" cy="8.80" rx="3.50" ry="7.04" fill="#2a30ff"/><ellipse cx="3.65" cy="3.87" rx="2.19" ry="2.46" fill="url(#gGrn)"/><ellipse cx="3.65" cy="9.15" rx="5.47" ry="5.98" fill="url(#gHot)"/><ellipse cx="3.65" cy="8.80" rx="3.07" ry="2.99" fill="#e81010"/></svg>
<text x="123.95" y="138.1" font-size="8.6" fill="#111" text-anchor="middle" textLength="5.0" lengthAdjust="spacingAndGlyphs" stroke="#111" stroke-width="0.3">X</text>
<text x="132.13" y="138.1" font-size="8.6" fill="#111" text-anchor="middle" textLength="5.0" lengthAdjust="spacingAndGlyphs" stroke="#111" stroke-width="0.3">X</text>
<text x="140.31" y="138.1" font-size="8.6" fill="#111" text-anchor="middle" textLength="5.0" lengthAdjust="spacingAndGlyphs" stroke="#111" stroke-width="0.3">X</text>
<text x="148.49" y="138.1" font-size="8.6" fill="#111" text-anchor="middle" textLength="5.0" lengthAdjust="spacingAndGlyphs" stroke="#111" stroke-width="0.3">X</text>
<text x="156.67" y="138.1" font-size="8.6" fill="#111" text-anchor="middle" textLength="5.0" lengthAdjust="spacingAndGlyphs" stroke="#111" stroke-width="0.3">X</text>
<svg x="162.50" y="126.20" width="7.30" height="17.60" overflow="hidden"><rect x="0.00" y="0.00" width="7.30" height="17.60" fill="#6418f2"/><ellipse cx="3.65" cy="8.80" rx="3.50" ry="7.04" fill="#2a30ff"/><ellipse cx="3.65" cy="3.87" rx="2.19" ry="2.46" fill="url(#gGrn)"/><ellipse cx="3.65" cy="9.15" rx="5.47" ry="5.98" fill="url(#gHot)"/><ellipse cx="3.65" cy="8.80" rx="3.07" ry="2.99" fill="#e81010"/></svg>
<svg x="170.77" y="126.20" width="7.30" height="17.60" overflow="hidden"><rect x="0.00" y="0.00" width="7.30" height="17.60" fill="#6418f2"/><ellipse cx="3.65" cy="8.80" rx="3.50" ry="7.04" fill="#2a30ff"/><ellipse cx="3.65" cy="3.87" rx="2.19" ry="2.46" fill="url(#gGrn)"/><ellipse cx="3.65" cy="9.15" rx="5.47" ry="5.98" fill="url(#gHot)"/><ellipse cx="3.65" cy="8.80" rx="3.07" ry="2.99" fill="#e81010"/></svg>
<svg x="179.04" y="126.20" width="7.30" height="17.60" overflow="hidden"><rect x="0.00" y="0.00" width="7.30" height="17.60" fill="#6418f2"/><ellipse cx="3.65" cy="8.80" rx="3.50" ry="7.04" fill="#2a30ff"/><ellipse cx="3.65" cy="3.87" rx="2.19" ry="2.46" fill="url(#gGrn)"/><ellipse cx="3.65" cy="9.15" rx="5.47" ry="5.98" fill="url(#gHot)"/><ellipse cx="3.65" cy="8.80" rx="3.07" ry="2.99" fill="#e81010"/></svg>
<svg x="187.31" y="126.20" width="7.30" height="17.60" overflow="hidden"><rect x="0.00" y="0.00" width="7.30" height="17.60" fill="#6418f2"/><ellipse cx="3.65" cy="8.80" rx="3.50" ry="7.04" fill="#2a30ff"/><ellipse cx="3.65" cy="3.87" rx="2.19" ry="2.46" fill="url(#gGrn)"/><ellipse cx="3.65" cy="9.15" rx="5.47" ry="5.98" fill="url(#gHot)"/><ellipse cx="3.65" cy="8.80" rx="3.07" ry="2.99" fill="#e81010"/></svg>
<svg x="195.58" y="126.20" width="7.30" height="17.60" overflow="hidden"><rect x="0.00" y="0.00" width="7.30" height="17.60" fill="#6418f2"/><ellipse cx="3.65" cy="8.80" rx="3.50" ry="7.04" fill="#2a30ff"/><ellipse cx="3.65" cy="3.87" rx="2.19" ry="2.46" fill="url(#gGrn)"/><ellipse cx="3.65" cy="9.15" rx="5.47" ry="5.98" fill="url(#gHot)"/><ellipse cx="3.65" cy="8.80" rx="3.07" ry="2.99" fill="#e81010"/></svg>
<svg x="205.30" y="126.20" width="7.30" height="17.60" overflow="hidden"><rect x="0.00" y="0.00" width="7.30" height="17.60" fill="url(#gBg)"/><path d="M3.65,1.03 L4.53,1.84 L5.69,3.78 L6.72,6.21 L7.23,8.80 L7.30,11.71 L7.15,14.31 L6.57,16.09 L5.11,16.73 L2.19,16.73 L0.73,16.09 L0.15,14.31 L0.00,11.71 L0.07,8.80 L0.58,6.21 L1.61,3.78 L2.77,1.84Z" fill="#5a14f4"/><ellipse cx="3.65" cy="7.92" rx="3.65" ry="5.28" fill="#2a30ff"/><ellipse cx="3.65" cy="8.27" rx="5.47" ry="4.22" fill="url(#gHot)"/><ellipse cx="3.65" cy="8.27" rx="2.77" ry="1.41" fill="#e81010"/></svg>
<svg x="213.28" y="126.20" width="7.30" height="17.60" overflow="hidden"><rect x="0.00" y="0.00" width="7.30" height="17.60" fill="url(#gBg)"/><path d="M3.65,1.03 L4.53,1.84 L5.69,3.78 L6.72,6.21 L7.23,8.80 L7.30,11.71 L7.15,14.31 L6.57,16.09 L5.11,16.73 L2.19,16.73 L0.73,16.09 L0.15,14.31 L0.00,11.71 L0.07,8.80 L0.58,6.21 L1.61,3.78 L2.77,1.84Z" fill="#5a14f4"/><ellipse cx="3.65" cy="7.92" rx="3.65" ry="5.28" fill="#2a30ff"/><ellipse cx="3.65" cy="8.27" rx="5.47" ry="4.22" fill="url(#gHot)"/><ellipse cx="3.65" cy="8.27" rx="2.77" ry="1.41" fill="#e81010"/></svg>
<svg x="221.26" y="126.20" width="7.30" height="17.60" overflow="hidden"><rect x="0.00" y="0.00" width="7.30" height="17.60" fill="url(#gBg)"/><path d="M3.65,1.03 L4.53,1.84 L5.69,3.78 L6.72,6.21 L7.23,8.80 L7.30,11.71 L7.15,14.31 L6.57,16.09 L5.11,16.73 L2.19,16.73 L0.73,16.09 L0.15,14.31 L0.00,11.71 L0.07,8.80 L0.58,6.21 L1.61,3.78 L2.77,1.84Z" fill="#5a14f4"/><ellipse cx="3.65" cy="7.92" rx="3.65" ry="5.28" fill="#2a30ff"/><ellipse cx="3.65" cy="8.27" rx="5.47" ry="4.22" fill="url(#gHot)"/><ellipse cx="3.65" cy="8.27" rx="2.77" ry="1.41" fill="#e81010"/></svg>
<svg x="229.24" y="126.20" width="7.30" height="17.60" overflow="hidden"><rect x="0.00" y="0.00" width="7.30" height="17.60" fill="url(#gBg)"/><path d="M3.65,1.03 L4.53,1.84 L5.69,3.78 L6.72,6.21 L7.23,8.80 L7.30,11.71 L7.15,14.31 L6.57,16.09 L5.11,16.73 L2.19,16.73 L0.73,16.09 L0.15,14.31 L0.00,11.71 L0.07,8.80 L0.58,6.21 L1.61,3.78 L2.77,1.84Z" fill="#5a14f4"/><ellipse cx="3.65" cy="7.92" rx="3.65" ry="5.28" fill="#2a30ff"/><ellipse cx="3.65" cy="8.27" rx="5.47" ry="4.22" fill="url(#gHot)"/><ellipse cx="3.65" cy="8.27" rx="2.77" ry="1.41" fill="#e81010"/></svg>
<svg x="237.22" y="126.20" width="7.30" height="17.60" overflow="hidden"><rect x="0.00" y="0.00" width="7.30" height="17.60" fill="url(#gBg)"/><path d="M3.65,1.03 L4.53,1.84 L5.69,3.78 L6.72,6.21 L7.23,8.80 L7.30,11.71 L7.15,14.31 L6.57,16.09 L5.11,16.73 L2.19,16.73 L0.73,16.09 L0.15,14.31 L0.00,11.71 L0.07,8.80 L0.58,6.21 L1.61,3.78 L2.77,1.84Z" fill="#5a14f4"/><ellipse cx="3.65" cy="7.92" rx="3.65" ry="5.28" fill="#2a30ff"/><ellipse cx="3.65" cy="8.27" rx="5.47" ry="4.22" fill="url(#gHot)"/><ellipse cx="3.65" cy="8.27" rx="2.77" ry="1.41" fill="#e81010"/></svg>
<svg x="290.00" y="42.30" width="7.60" height="17.60" overflow="hidden"><rect x="0.00" y="0.00" width="7.60" height="17.60" fill="url(#gBg)"/><path d="M3.80,0.86 L4.67,1.67 L5.82,3.64 L6.83,6.09 L7.34,8.71 L7.41,11.66 L7.27,14.28 L6.69,16.08 L5.24,16.73 L2.36,16.73 L0.91,16.08 L0.33,14.28 L0.19,11.66 L0.26,8.71 L0.77,6.09 L1.78,3.64 L2.93,1.67Z" fill="url(#gBody)"/><ellipse cx="3.52" cy="8.99" rx="2.28" ry="1.50" fill="#6410f8"/><ellipse cx="0.46" cy="12.14" rx="0.99" ry="0.99" fill="#6410f8"/><ellipse cx="7.14" cy="12.14" rx="0.99" ry="0.99" fill="#6410f8"/></svg>
<svg x="298.80" y="42.30" width="7.60" height="17.60" overflow="hidden"><rect x="0.00" y="0.00" width="7.60" height="17.60" fill="url(#gBg)"/><path d="M3.80,0.86 L4.67,1.67 L5.82,3.64 L6.83,6.09 L7.34,8.71 L7.41,11.66 L7.27,14.28 L6.69,16.08 L5.24,16.73 L2.36,16.73 L0.91,16.08 L0.33,14.28 L0.19,11.66 L0.26,8.71 L0.77,6.09 L1.78,3.64 L2.93,1.67Z" fill="url(#gBody)"/><ellipse cx="4.15" cy="9.10" rx="2.28" ry="1.50" fill="#6410f8"/><ellipse cx="0.46" cy="12.14" rx="0.99" ry="0.99" fill="#6410f8"/><ellipse cx="7.14" cy="12.14" rx="0.99" ry="0.99" fill="#6410f8"/></svg>
<svg x="307.60" y="42.30" width="7.60" height="17.60" overflow="hidden"><rect x="0.00" y="0.00" width="7.60" height="17.60" fill="url(#gBg)"/><path d="M3.80,0.86 L4.67,1.67 L5.82,3.64 L6.83,6.09 L7.34,8.71 L7.41,11.66 L7.27,14.28 L6.69,16.08 L5.24,16.73 L2.36,16.73 L0.91,16.08 L0.33,14.28 L0.19,11.66 L0.26,8.71 L0.77,6.09 L1.78,3.64 L2.93,1.67Z" fill="url(#gBody)"/><ellipse cx="3.80" cy="7.39" rx="1.67" ry="1.06" fill="#6410f8"/><ellipse cx="0.91" cy="11.26" rx="0.76" ry="0.76" fill="#6410f8"/><ellipse cx="6.69" cy="11.26" rx="0.76" ry="0.76" fill="#6410f8"/></svg>
<svg x="316.40" y="42.30" width="7.60" height="17.60" overflow="hidden"><rect x="0.00" y="0.00" width="7.60" height="17.60" fill="url(#gBg)"/><path d="M3.80,0.86 L4.67,1.67 L5.82,3.64 L6.83,6.09 L7.34,8.71 L7.41,11.66 L7.27,14.28 L6.69,16.08 L5.24,16.73 L2.36,16.73 L0.91,16.08 L0.33,14.28 L0.19,11.66 L0.26,8.71 L0.77,6.09 L1.78,3.64 L2.93,1.67Z" fill="url(#gBody)"/><ellipse cx="3.60" cy="8.20" rx="2.28" ry="1.50" fill="#6410f8"/><ellipse cx="0.46" cy="12.14" rx="0.99" ry="0.99" fill="#6410f8"/><ellipse cx="7.14" cy="12.14" rx="0.99" ry="0.99" fill="#6410f8"/></svg>
<svg x="325.20" y="42.30" width="7.60" height="17.60" overflow="hidden"><rect x="0.00" y="0.00" width="7.60" height="17.60" fill="url(#gBg)"/><path d="M3.80,0.86 L4.67,1.67 L5.82,3.64 L6.83,6.09 L7.34,8.71 L7.41,11.66 L7.27,14.28 L6.69,16.08 L5.24,16.73 L2.36,16.73 L0.91,16.08 L0.33,14.28 L0.19,11.66 L0.26,8.71 L0.77,6.09 L1.78,3.64 L2.93,1.67Z" fill="url(#gBody)"/><ellipse cx="3.89" cy="8.88" rx="2.28" ry="1.50" fill="#6410f8"/><ellipse cx="0.46" cy="12.14" rx="0.99" ry="0.99" fill="#6410f8"/><ellipse cx="7.14" cy="12.14" rx="0.99" ry="0.99" fill="#6410f8"/></svg>
<svg x="335.70" y="42.30" width="7.60" height="17.60" overflow="hidden"><rect x="0.00" y="0.00" width="7.60" height="17.60" fill="url(#gBg)"/><path d="M3.80,0.86 L4.67,1.67 L5.82,3.64 L6.83,6.09 L7.34,8.71 L7.41,11.66 L7.27,14.28 L6.69,16.08 L5.24,16.73 L2.36,16.73 L0.91,16.08 L0.33,14.28 L0.19,11.66 L0.26,8.71 L0.77,6.09 L1.78,3.64 L2.93,1.67Z" fill="url(#gBody)"/><ellipse cx="4.02" cy="8.96" rx="2.28" ry="1.50" fill="#6410f8"/><ellipse cx="0.46" cy="12.14" rx="0.99" ry="0.99" fill="#6410f8"/><ellipse cx="7.14" cy="12.14" rx="0.99" ry="0.99" fill="#6410f8"/></svg>
<svg x="344.40" y="42.30" width="7.60" height="17.60" overflow="hidden"><rect x="0.00" y="0.00" width="7.60" height="17.60" fill="url(#gBg)"/><path d="M3.80,0.86 L4.67,1.67 L5.82,3.64 L6.83,6.09 L7.34,8.71 L7.41,11.66 L7.27,14.28 L6.69,16.08 L5.24,16.73 L2.36,16.73 L0.91,16.08 L0.33,14.28 L0.19,11.66 L0.26,8.71 L0.77,6.09 L1.78,3.64 L2.93,1.67Z" fill="url(#gBody)"/><ellipse cx="3.67" cy="8.26" rx="2.28" ry="1.50" fill="#6410f8"/><ellipse cx="0.46" cy="12.14" rx="0.99" ry="0.99" fill="#6410f8"/><ellipse cx="7.14" cy="12.14" rx="0.99" ry="0.99" fill="#6410f8"/></svg>
<svg x="353.10" y="42.30" width="7.60" height="17.60" overflow="hidden"><rect x="0.00" y="0.00" width="7.60" height="17.60" fill="url(#gBg)"/><path d="M3.80,0.86 L4.67,1.67 L5.82,3.64 L6.83,6.09 L7.34,8.71 L7.41,11.66 L7.27,14.28 L6.69,16.08 L5.24,16.73 L2.36,16.73 L0.91,16.08 L0.33,14.28 L0.19,11.66 L0.26,8.71 L0.77,6.09 L1.78,3.64 L2.93,1.67Z" fill="url(#gBody)"/><ellipse cx="3.59" cy="9.11" rx="2.28" ry="1.50" fill="#6410f8"/><ellipse cx="0.46" cy="12.14" rx="0.99" ry="0.99" fill="#6410f8"/><ellipse cx="7.14" cy="12.14" rx="0.99" ry="0.99" fill="#6410f8"/></svg>
<svg x="361.80" y="42.30" width="7.60" height="17.60" overflow="hidden"><rect x="0.00" y="0.00" width="7.60" height="17.60" fill="url(#gBg)"/><path d="M3.80,0.86 L4.67,1.67 L5.82,3.64 L6.83,6.09 L7.34,8.71 L7.41,11.66 L7.27,14.28 L6.69,16.08 L5.24,16.73 L2.36,16.73 L0.91,16.08 L0.33,14.28 L0.19,11.66 L0.26,8.71 L0.77,6.09 L1.78,3.64 L2.93,1.67Z" fill="url(#gBody)"/><ellipse cx="3.77" cy="8.49" rx="2.28" ry="1.50" fill="#6410f8"/><ellipse cx="0.46" cy="12.14" rx="0.99" ry="0.99" fill="#6410f8"/><ellipse cx="7.14" cy="12.14" rx="0.99" ry="0.99" fill="#6410f8"/></svg>
<svg x="370.50" y="42.30" width="7.60" height="17.60" overflow="hidden"><rect x="0.00" y="0.00" width="7.60" height="17.60" fill="url(#gBg)"/><path d="M3.80,0.86 L4.67,1.67 L5.82,3.64 L6.83,6.09 L7.34,8.71 L7.41,11.66 L7.27,14.28 L6.69,16.08 L5.24,16.73 L2.36,16.73 L0.91,16.08 L0.33,14.28 L0.19,11.66 L0.26,8.71 L0.77,6.09 L1.78,3.64 L2.93,1.67Z" fill="url(#gBody)"/><ellipse cx="3.85" cy="8.55" rx="2.28" ry="1.50" fill="#6410f8"/><ellipse cx="0.46" cy="12.14" rx="0.99" ry="0.99" fill="#6410f8"/><ellipse cx="7.14" cy="12.14" rx="0.99" ry="0.99" fill="#6410f8"/></svg>
<svg x="380.90" y="42.30" width="7.60" height="17.60" overflow="hidden"><rect x="0.00" y="0.00" width="7.60" height="17.60" fill="url(#gBg)"/><path d="M3.80,0.86 L4.67,1.67 L5.82,3.64 L6.83,6.09 L7.34,8.71 L7.41,11.66 L7.27,14.28 L6.69,16.08 L5.24,16.73 L2.36,16.73 L0.91,16.08 L0.33,14.28 L0.19,11.66 L0.26,8.71 L0.77,6.09 L1.78,3.64 L2.93,1.67Z" fill="url(#gBody)"/><ellipse cx="3.76" cy="8.69" rx="2.28" ry="1.50" fill="#6410f8"/><ellipse cx="0.46" cy="12.14" rx="0.99" ry="0.99" fill="#6410f8"/><ellipse cx="7.14" cy="12.14" rx="0.99" ry="0.99" fill="#6410f8"/></svg>
<svg x="389.50" y="42.30" width="7.60" height="17.60" overflow="hidden"><rect x="0.00" y="0.00" width="7.60" height="17.60" fill="url(#gBg)"/><path d="M3.80,0.86 L4.67,1.67 L5.82,3.64 L6.83,6.09 L7.34,8.71 L7.41,11.66 L7.27,14.28 L6.69,16.08 L5.24,16.73 L2.36,16.73 L0.91,16.08 L0.33,14.28 L0.19,11.66 L0.26,8.71 L0.77,6.09 L1.78,3.64 L2.93,1.67Z" fill="url(#gBody)"/><ellipse cx="3.80" cy="7.39" rx="1.67" ry="1.06" fill="#6410f8"/><ellipse cx="0.91" cy="11.26" rx="0.76" ry="0.76" fill="#6410f8"/><ellipse cx="6.69" cy="11.26" rx="0.76" ry="0.76" fill="#6410f8"/></svg>
<svg x="398.10" y="42.30" width="7.60" height="17.60" overflow="hidden"><rect x="0.00" y="0.00" width="7.60" height="17.60" fill="url(#gBg)"/><path d="M3.80,0.86 L4.67,1.67 L5.82,3.64 L6.83,6.09 L7.34,8.71 L7.41,11.66 L7.27,14.28 L6.69,16.08 L5.24,16.73 L2.36,16.73 L0.91,16.08 L0.33,14.28 L0.19,11.66 L0.26,8.71 L0.77,6.09 L1.78,3.64 L2.93,1.67Z" fill="url(#gBody)"/><ellipse cx="3.80" cy="7.39" rx="1.67" ry="1.06" fill="#6410f8"/><ellipse cx="0.91" cy="11.26" rx="0.76" ry="0.76" fill="#6410f8"/><ellipse cx="6.69" cy="11.26" rx="0.76" ry="0.76" fill="#6410f8"/></svg>
<svg x="406.70" y="42.30" width="7.60" height="17.60" overflow="hidden"><rect x="0.00" y="0.00" width="7.60" height="17.60" fill="url(#gBg)"/><path d="M3.80,0.86 L4.67,1.67 L5.82,3.64 L6.83,6.09 L7.34,8.71 L7.41,11.66 L7.27,14.28 L6.69,16.08 L5.24,16.73 L2.36,16.73 L0.91,16.08 L0.33,14.28 L0.19,11.66 L0.26,8.71 L0.77,6.09 L1.78,3.64 L2.93,1.67Z" fill="url(#gBody)"/><ellipse cx="3.50" cy="8.84" rx="2.28" ry="1.50" fill="#6410f8"/><ellipse cx="0.46" cy="12.14" rx="0.99" ry="0.99" fill="#6410f8"/><ellipse cx="7.14" cy="12.14" rx="0.99" ry="0.99" fill="#6410f8"/></svg>
<svg x="415.30" y="42.30" width="7.60" height="17.60" overflow="hidden"><rect x="0.00" y="0.00" width="7.60" height="17.60" fill="url(#gBg)"/><path d="M3.80,0.86 L4.67,1.67 L5.82,3.64 L6.83,6.09 L7.34,8.71 L7.41,11.66 L7.27,14.28 L6.69,16.08 L5.24,16.73 L2.36,16.73 L0.91,16.08 L0.33,14.28 L0.19,11.66 L0.26,8.71 L0.77,6.09 L1.78,3.64 L2.93,1.67Z" fill="url(#gBody)"/><ellipse cx="4.15" cy="8.11" rx="2.28" ry="1.50" fill="#6410f8"/><ellipse cx="0.46" cy="12.14" rx="0.99" ry="0.99" fill="#6410f8"/><ellipse cx="7.14" cy="12.14" rx="0.99" ry="0.99" fill="#6410f8"/></svg>
<svg x="425.70" y="42.30" width="7.60" height="17.60" overflow="hidden"><rect x="0.00" y="0.00" width="7.60" height="17.60" fill="url(#gBg)"/><path d="M3.80,0.86 L4.67,1.67 L5.82,3.64 L6.83,6.09 L7.34,8.71 L7.41,11.66 L7.27,14.28 L6.69,16.08 L5.24,16.73 L2.36,16.73 L0.91,16.08 L0.33,14.28 L0.19,11.66 L0.26,8.71 L0.77,6.09 L1.78,3.64 L2.93,1.67Z" fill="url(#gBody)"/><ellipse cx="3.69" cy="8.60" rx="2.28" ry="1.50" fill="#6410f8"/><ellipse cx="0.46" cy="12.14" rx="0.99" ry="0.99" fill="#6410f8"/><ellipse cx="7.14" cy="12.14" rx="0.99" ry="0.99" fill="#6410f8"/></svg>
<svg x="434.38" y="42.30" width="7.60" height="17.60" overflow="hidden"><rect x="0.00" y="0.00" width="7.60" height="17.60" fill="url(#gBg)"/><path d="M3.80,0.86 L4.67,1.67 L5.82,3.64 L6.83,6.09 L7.34,8.71 L7.41,11.66 L7.27,14.28 L6.69,16.08 L5.24,16.73 L2.36,16.73 L0.91,16.08 L0.33,14.28 L0.19,11.66 L0.26,8.71 L0.77,6.09 L1.78,3.64 L2.93,1.67Z" fill="url(#gBody)"/><ellipse cx="3.82" cy="8.95" rx="2.28" ry="1.50" fill="#6410f8"/><ellipse cx="0.46" cy="12.14" rx="0.99" ry="0.99" fill="#6410f8"/><ellipse cx="7.14" cy="12.14" rx="0.99" ry="0.99" fill="#6410f8"/></svg>
<svg x="443.06" y="42.30" width="7.60" height="17.60" overflow="hidden"><rect x="0.00" y="0.00" width="7.60" height="17.60" fill="url(#gBg)"/><path d="M3.80,0.86 L4.67,1.67 L5.82,3.64 L6.83,6.09 L7.34,8.71 L7.41,11.66 L7.27,14.28 L6.69,16.08 L5.24,16.73 L2.36,16.73 L0.91,16.08 L0.33,14.28 L0.19,11.66 L0.26,8.71 L0.77,6.09 L1.78,3.64 L2.93,1.67Z" fill="url(#gBody)"/><ellipse cx="3.56" cy="8.79" rx="2.28" ry="1.50" fill="#6410f8"/><ellipse cx="0.46" cy="12.14" rx="0.99" ry="0.99" fill="#6410f8"/><ellipse cx="7.14" cy="12.14" rx="0.99" ry="0.99" fill="#6410f8"/></svg>
<svg x="451.74" y="42.30" width="7.60" height="17.60" overflow="hidden"><rect x="0.00" y="0.00" width="7.60" height="17.60" fill="url(#gBg)"/><path d="M3.80,0.86 L4.67,1.67 L5.82,3.64 L6.83,6.09 L7.34,8.71 L7.41,11.66 L7.27,14.28 L6.69,16.08 L5.24,16.73 L2.36,16.73 L0.91,16.08 L0.33,14.28 L0.19,11.66 L0.26,8.71 L0.77,6.09 L1.78,3.64 L2.93,1.67Z" fill="url(#gBody)"/><ellipse cx="3.93" cy="8.92" rx="2.28" ry="1.50" fill="#6410f8"/><ellipse cx="0.46" cy="12.14" rx="0.99" ry="0.99" fill="#6410f8"/><ellipse cx="7.14" cy="12.14" rx="0.99" ry="0.99" fill="#6410f8"/></svg>
<svg x="460.42" y="42.30" width="7.60" height="17.60" overflow="hidden"><rect x="0.00" y="0.00" width="7.60" height="17.60" fill="url(#gBg)"/><path d="M3.80,0.86 L4.67,1.67 L5.82,3.64 L6.83,6.09 L7.34,8.71 L7.41,11.66 L7.27,14.28 L6.69,16.08 L5.24,16.73 L2.36,16.73 L0.91,16.08 L0.33,14.28 L0.19,11.66 L0.26,8.71 L0.77,6.09 L1.78,3.64 L2.93,1.67Z" fill="url(#gBody)"/><ellipse cx="4.11" cy="8.82" rx="2.28" ry="1.50" fill="#6410f8"/><ellipse cx="0.46" cy="12.14" rx="0.99" ry="0.99" fill="#6410f8"/><ellipse cx="7.14" cy="12.14" rx="0.99" ry="0.99" fill="#6410f8"/></svg>
<svg x="470.90" y="42.30" width="7.60" height="17.60" overflow="hidden"><rect x="0.00" y="0.00" width="7.60" height="17.60" fill="url(#gBg)"/><path d="M3.80,0.86 L4.67,1.67 L5.82,3.64 L6.83,6.09 L7.34,8.71 L7.41,11.66 L7.27,14.28 L6.69,16.08 L5.24,16.73 L2.36,16.73 L0.91,16.08 L0.33,14.28 L0.19,11.66 L0.26,8.71 L0.77,6.09 L1.78,3.64 L2.93,1.67Z" fill="url(#gBody)"/><ellipse cx="3.55" cy="8.82" rx="2.28" ry="1.50" fill="#6410f8"/><ellipse cx="0.46" cy="12.14" rx="0.99" ry="0.99" fill="#6410f8"/><ellipse cx="7.14" cy="12.14" rx="0.99" ry="0.99" fill="#6410f8"/></svg>
<svg x="479.42" y="42.30" width="7.60" height="17.60" overflow="hidden"><rect x="0.00" y="0.00" width="7.60" height="17.60" fill="url(#gBg)"/><path d="M3.80,0.86 L4.67,1.67 L5.82,3.64 L6.83,6.09 L7.34,8.71 L7.41,11.66 L7.27,14.28 L6.69,16.08 L5.24,16.73 L2.36,16.73 L0.91,16.08 L0.33,14.28 L0.19,11.66 L0.26,8.71 L0.77,6.09 L1.78,3.64 L2.93,1.67Z" fill="url(#gBody)"/><ellipse cx="4.15" cy="8.24" rx="2.28" ry="1.50" fill="#6410f8"/><ellipse cx="0.46" cy="12.14" rx="0.99" ry="0.99" fill="#6410f8"/><ellipse cx="7.14" cy="12.14" rx="0.99" ry="0.99" fill="#6410f8"/></svg>
<svg x="487.94" y="42.30" width="7.60" height="17.60" overflow="hidden"><rect x="0.00" y="0.00" width="7.60" height="17.60" fill="url(#gBg)"/><path d="M3.80,0.86 L4.67,1.67 L5.82,3.64 L6.83,6.09 L7.34,8.71 L7.41,11.66 L7.27,14.28 L6.69,16.08 L5.24,16.73 L2.36,16.73 L0.91,16.08 L0.33,14.28 L0.19,11.66 L0.26,8.71 L0.77,6.09 L1.78,3.64 L2.93,1.67Z" fill="url(#gBody)"/><ellipse cx="4.12" cy="9.10" rx="2.28" ry="1.50" fill="#6410f8"/><ellipse cx="0.46" cy="12.14" rx="0.99" ry="0.99" fill="#6410f8"/><ellipse cx="7.14" cy="12.14" rx="0.99" ry="0.99" fill="#6410f8"/></svg>
<svg x="496.46" y="42.30" width="7.60" height="17.60" overflow="hidden"><rect x="0.00" y="0.00" width="7.60" height="17.60" fill="url(#gBg)"/><path d="M3.80,0.86 L4.67,1.67 L5.82,3.64 L6.83,6.09 L7.34,8.71 L7.41,11.66 L7.27,14.28 L6.69,16.08 L5.24,16.73 L2.36,16.73 L0.91,16.08 L0.33,14.28 L0.19,11.66 L0.26,8.71 L0.77,6.09 L1.78,3.64 L2.93,1.67Z" fill="url(#gBody)"/><ellipse cx="3.96" cy="8.98" rx="2.28" ry="1.50" fill="#6410f8"/><ellipse cx="0.46" cy="12.14" rx="0.99" ry="0.99" fill="#6410f8"/><ellipse cx="7.14" cy="12.14" rx="0.99" ry="0.99" fill="#6410f8"/></svg>
<svg x="504.98" y="42.30" width="7.60" height="17.60" overflow="hidden"><rect x="0.00" y="0.00" width="7.60" height="17.60" fill="url(#gBg)"/><path d="M3.80,0.86 L4.67,1.67 L5.82,3.64 L6.83,6.09 L7.34,8.71 L7.41,11.66 L7.27,14.28 L6.69,16.08 L5.24,16.73 L2.36,16.73 L0.91,16.08 L0.33,14.28 L0.19,11.66 L0.26,8.71 L0.77,6.09 L1.78,3.64 L2.93,1.67Z" fill="url(#gBody)"/><ellipse cx="3.71" cy="9.07" rx="2.28" ry="1.50" fill="#6410f8"/><ellipse cx="0.46" cy="12.14" rx="0.99" ry="0.99" fill="#6410f8"/><ellipse cx="7.14" cy="12.14" rx="0.99" ry="0.99" fill="#6410f8"/></svg>
<svg x="290.00" y="62.10" width="7.60" height="17.60" overflow="hidden"><rect x="0.00" y="0.00" width="7.60" height="17.60" fill="url(#gBg)"/><path d="M3.80,1.03 L4.71,1.84 L5.93,3.78 L6.99,6.21 L7.52,8.80 L7.60,11.71 L7.45,14.31 L6.84,16.09 L5.32,16.73 L2.28,16.73 L0.76,16.09 L0.15,14.31 L0.00,11.71 L0.08,8.80 L0.61,6.21 L1.67,3.78 L2.89,1.84Z" fill="#6410f8"/><ellipse cx="3.80" cy="11.97" rx="2.43" ry="1.06" fill="#f2f2f2"/></svg>
<svg x="298.80" y="62.10" width="7.60" height="17.60" overflow="hidden"><rect x="0.00" y="0.00" width="7.60" height="17.60" fill="url(#gBg)"/><path d="M3.80,1.03 L4.71,1.84 L5.93,3.78 L6.99,6.21 L7.52,8.80 L7.60,11.71 L7.45,14.31 L6.84,16.09 L5.32,16.73 L2.28,16.73 L0.76,16.09 L0.15,14.31 L0.00,11.71 L0.08,8.80 L0.61,6.21 L1.67,3.78 L2.89,1.84Z" fill="#6410f8"/><ellipse cx="3.80" cy="11.97" rx="2.43" ry="1.06" fill="#f2f2f2"/></svg>
<svg x="307.60" y="62.10" width="7.60" height="17.60" overflow="hidden"><rect x="0.00" y="0.00" width="7.60" height="17.60" fill="url(#gBg)"/><path d="M3.80,1.03 L4.71,1.84 L5.93,3.78 L6.99,6.21 L7.52,8.80 L7.60,11.71 L7.45,14.31 L6.84,16.09 L5.32,16.73 L2.28,16.73 L0.76,16.09 L0.15,14.31 L0.00,11.71 L0.08,8.80 L0.61,6.21 L1.67,3.78 L2.89,1.84Z" fill="#6410f8"/><ellipse cx="3.80" cy="11.97" rx="2.43" ry="1.06" fill="#f2f2f2"/></svg>
<svg x="316.40" y="62.10" width="7.60" height="17.60" overflow="hidden"><rect x="0.00" y="0.00" width="7.60" height="17.60" fill="url(#gBg)"/><path d="M3.80,1.03 L4.71,1.84 L5.93,3.78 L6.99,6.21 L7.52,8.80 L7.60,11.71 L7.45,14.31 L6.84,16.09 L5.32,16.73 L2.28,16.73 L0.76,16.09 L0.15,14.31 L0.00,11.71 L0.08,8.80 L0.61,6.21 L1.67,3.78 L2.89,1.84Z" fill="#6410f8"/><ellipse cx="3.80" cy="11.97" rx="2.43" ry="1.06" fill="#f2f2f2"/></svg>
<svg x="325.20" y="62.10" width="7.60" height="17.60" overflow="hidden"><rect x="0.00" y="0.00" width="7.60" height="17.60" fill="url(#gBg)"/><path d="M3.80,1.03 L4.71,1.84 L5.93,3.78 L6.99,6.21 L7.52,8.80 L7.60,11.71 L7.45,14.31 L6.84,16.09 L5.32,16.73 L2.28,16.73 L0.76,16.09 L0.15,14.31 L0.00,11.71 L0.08,8.80 L0.61,6.21 L1.67,3.78 L2.89,1.84Z" fill="#6410f8"/><ellipse cx="3.80" cy="11.97" rx="2.43" ry="1.06" fill="#f2f2f2"/></svg>
<svg x="335.70" y="62.10" width="7.60" height="17.60" overflow="hidden"><rect x="0.00" y="0.00" width="7.60" height="17.60" fill="url(#gBg)"/><path d="M3.80,1.03 L4.71,1.84 L5.93,3.78 L6.99,6.21 L7.52,8.80 L7.60,11.71 L7.45,14.31 L6.84,16.09 L5.32,16.73 L2.28,16.73 L0.76,16.09 L0.15,14.31 L0.00,11.71 L0.08,8.80 L0.61,6.21 L1.67,3.78 L2.89,1.84Z" fill="url(#gBody)"/><ellipse cx="3.06" cy="7.92" rx="1.14" ry="0.88" fill="#6410f8" opacity="0.8"/><ellipse cx="2.28" cy="13.20" rx="0.76" ry="0.70" fill="#6410f8" opacity="0.7"/></svg>
<svg x="344.40" y="62.10" width="7.60" height="17.60" overflow="hidden"><rect x="0.00" y="0.00" width="7.60" height="17.60" fill="url(#gBg)"/><path d="M3.80,1.03 L4.71,1.84 L5.93,3.78 L6.99,6.21 L7.52,8.80 L7.60,11.71 L7.45,14.31 L6.84,16.09 L5.32,16.73 L2.28,16.73 L0.76,16.09 L0.15,14.31 L0.00,11.71 L0.08,8.80 L0.61,6.21 L1.67,3.78 L2.89,1.84Z" fill="url(#gBody)"/><ellipse cx="3.48" cy="7.92" rx="3.04" ry="2.82" fill="#6410f8"/><ellipse cx="0.76" cy="14.08" rx="1.29" ry="1.29" fill="#6410f8"/><ellipse cx="6.84" cy="14.08" rx="1.29" ry="1.29" fill="#6410f8"/></svg>
<svg x="353.10" y="62.10" width="7.60" height="17.60" overflow="hidden"><rect x="0.00" y="0.00" width="7.60" height="17.60" fill="url(#gBg)"/><path d="M3.80,1.03 L4.71,1.84 L5.93,3.78 L6.99,6.21 L7.52,8.80 L7.60,11.71 L7.45,14.31 L6.84,16.09 L5.32,16.73 L2.28,16.73 L0.76,16.09 L0.15,14.31 L0.00,11.71 L0.08,8.80 L0.61,6.21 L1.67,3.78 L2.89,1.84Z" fill="url(#gBody)"/><ellipse cx="3.85" cy="7.92" rx="3.04" ry="2.82" fill="#6410f8"/><ellipse cx="0.76" cy="14.08" rx="1.29" ry="1.29" fill="#6410f8"/><ellipse cx="6.84" cy="14.08" rx="1.29" ry="1.29" fill="#6410f8"/></svg>
<svg x="361.80" y="62.10" width="7.60" height="17.60" overflow="hidden"><rect x="0.00" y="0.00" width="7.60" height="17.60" fill="url(#gBg)"/><path d="M3.80,1.03 L4.71,1.84 L5.93,3.78 L6.99,6.21 L7.52,8.80 L7.60,11.71 L7.45,14.31 L6.84,16.09 L5.32,16.73 L2.28,16.73 L0.76,16.09 L0.15,14.31 L0.00,11.71 L0.08,8.80 L0.61,6.21 L1.67,3.78 L2.89,1.84Z" fill="url(#gBody)"/><ellipse cx="3.82" cy="7.92" rx="3.04" ry="2.82" fill="#6410f8"/><ellipse cx="0.76" cy="14.08" rx="1.29" ry="1.29" fill="#6410f8"/><ellipse cx="6.84" cy="14.08" rx="1.29" ry="1.29" fill="#6410f8"/></svg>
<svg x="370.50" y="62.10" width="7.60" height="17.60" overflow="hidden"><rect x="0.00" y="0.00" width="7.60" height="17.60" fill="url(#gBg)"/><path d="M3.80,1.03 L4.71,1.84 L5.93,3.78 L6.99,6.21 L7.52,8.80 L7.60,11.71 L7.45,14.31 L6.84,16.09 L5.32,16.73 L2.28,16.73 L0.76,16.09 L0.15,14.31 L0.00,11.71 L0.08,8.80 L0.61,6.21 L1.67,3.78 L2.89,1.84Z" fill="url(#gBody)"/><ellipse cx="3.84" cy="7.92" rx="3.04" ry="2.82" fill="#6410f8"/><ellipse cx="0.76" cy="14.08" rx="1.29" ry="1.29" fill="#6410f8"/><ellipse cx="6.84" cy="14.08" rx="1.29" ry="1.29" fill="#6410f8"/></svg>
<svg x="380.90" y="62.10" width="7.60" height="17.60" overflow="hidden"><rect x="0.00" y="0.00" width="7.60" height="17.60" fill="url(#gBg)"/><path d="M3.80,1.03 L4.71,1.84 L5.93,3.78 L6.99,6.21 L7.52,8.80 L7.60,11.71 L7.45,14.31 L6.84,16.09 L5.32,16.73 L2.28,16.73 L0.76,16.09 L0.15,14.31 L0.00,11.71 L0.08,8.80 L0.61,6.21 L1.67,3.78 L2.89,1.84Z" fill="url(#gBody)"/><ellipse cx="3.80" cy="7.39" rx="3.19" ry="3.34" fill="#6410f8"/><ellipse cx="0.91" cy="13.73" rx="1.37" ry="1.37" fill="#6410f8"/><ellipse cx="6.69" cy="13.73" rx="1.37" ry="1.37" fill="#6410f8"/></svg>
<svg x="389.50" y="62.10" width="7.60" height="17.60" overflow="hidden"><rect x="0.00" y="0.00" width="7.60" height="17.60" fill="url(#gBg)"/><path d="M3.80,1.03 L4.71,1.84 L5.93,3.78 L6.99,6.21 L7.52,8.80 L7.60,11.71 L7.45,14.31 L6.84,16.09 L5.32,16.73 L2.28,16.73 L0.76,16.09 L0.15,14.31 L0.00,11.71 L0.08,8.80 L0.61,6.21 L1.67,3.78 L2.89,1.84Z" fill="url(#gBody)"/><ellipse cx="3.94" cy="7.92" rx="3.04" ry="2.82" fill="#6410f8"/><ellipse cx="0.76" cy="14.08" rx="1.29" ry="1.29" fill="#6410f8"/><ellipse cx="6.84" cy="14.08" rx="1.29" ry="1.29" fill="#6410f8"/></svg>
<svg x="398.10" y="62.10" width="7.60" height="17.60" overflow="hidden"><rect x="0.00" y="0.00" width="7.60" height="17.60" fill="url(#gBg)"/><path d="M3.80,1.03 L4.71,1.84 L5.93,3.78 L6.99,6.21 L7.52,8.80 L7.60,11.71 L7.45,14.31 L6.84,16.09 L5.32,16.73 L2.28,16.73 L0.76,16.09 L0.15,14.31 L0.00,11.71 L0.08,8.80 L0.61,6.21 L1.67,3.78 L2.89,1.84Z" fill="url(#gBody)"/><ellipse cx="3.91" cy="7.92" rx="3.04" ry="2.82" fill="#6410f8"/><ellipse cx="0.76" cy="14.08" rx="1.29" ry="1.29" fill="#6410f8"/><ellipse cx="6.84" cy="14.08" rx="1.29" ry="1.29" fill="#6410f8"/></svg>
<svg x="406.70" y="62.10" width="7.60" height="17.60" overflow="hidden"><rect x="0.00" y="0.00" width="7.60" height="17.60" fill="url(#gBg)"/><path d="M3.80,1.03 L4.71,1.84 L5.93,3.78 L6.99,6.21 L7.52,8.80 L7.60,11.71 L7.45,14.31 L6.84,16.09 L5.32,16.73 L2.28,16.73 L0.76,16.09 L0.15,14.31 L0.00,11.71 L0.08,8.80 L0.61,6.21 L1.67,3.78 L2.89,1.84Z" fill="url(#gBody)"/><ellipse cx="3.80" cy="7.39" rx="3.19" ry="3.34" fill="#6410f8"/><ellipse cx="0.91" cy="13.73" rx="1.37" ry="1.37" fill="#6410f8"/><ellipse cx="6.69" cy="13.73" rx="1.37" ry="1.37" fill="#6410f8"/></svg>
<svg x="415.30" y="62.10" width="7.60" height="17.60" overflow="hidden"><rect x="0.00" y="0.00" width="7.60" height="17.60" fill="url(#gBg)"/><path d="M3.80,1.03 L4.71,1.84 L5.93,3.78 L6.99,6.21 L7.52,8.80 L7.60,11.71 L7.45,14.31 L6.84,16.09 L5.32,16.73 L2.28,16.73 L0.76,16.09 L0.15,14.31 L0.00,11.71 L0.08,8.80 L0.61,6.21 L1.67,3.78 L2.89,1.84Z" fill="url(#gBody)"/><ellipse cx="3.80" cy="7.39" rx="3.19" ry="3.34" fill="#6410f8"/><ellipse cx="0.91" cy="13.73" rx="1.37" ry="1.37" fill="#6410f8"/><ellipse cx="6.69" cy="13.73" rx="1.37" ry="1.37" fill="#6410f8"/></svg>
<svg x="425.70" y="62.10" width="7.60" height="17.60" overflow="hidden"><rect x="0.00" y="0.00" width="7.60" height="17.60" fill="url(#gBg)"/><path d="M3.80,1.03 L4.71,1.84 L5.93,3.78 L6.99,6.21 L7.52,8.80 L7.60,11.71 L7.45,14.31 L6.84,16.09 L5.32,16.73 L2.28,16.73 L0.76,16.09 L0.15,14.31 L0.00,11.71 L0.08,8.80 L0.61,6.21 L1.67,3.78 L2.89,1.84Z" fill="url(#gBody)"/><ellipse cx="3.71" cy="7.92" rx="3.04" ry="2.82" fill="#6410f8"/><ellipse cx="0.76" cy="14.08" rx="1.29" ry="1.29" fill="#6410f8"/><ellipse cx="6.84" cy="14.08" rx="1.29" ry="1.29" fill="#6410f8"/></svg>
<svg x="434.38" y="62.10" width="7.60" height="17.60" overflow="hidden"><rect x="0.00" y="0.00" width="7.60" height="17.60" fill="url(#gBg)"/><path d="M3.80,1.03 L4.71,1.84 L5.93,3.78 L6.99,6.21 L7.52,8.80 L7.60,11.71 L7.45,14.31 L6.84,16.09 L5.32,16.73 L2.28,16.73 L0.76,16.09 L0.15,14.31 L0.00,11.71 L0.08,8.80 L0.61,6.21 L1.67,3.78 L2.89,1.84Z" fill="url(#gBody)"/><ellipse cx="3.80" cy="7.39" rx="3.19" ry="3.34" fill="#6410f8"/><ellipse cx="0.91" cy="13.73" rx="1.37" ry="1.37" fill="#6410f8"/><ellipse cx="6.69" cy="13.73" rx="1.37" ry="1.37" fill="#6410f8"/></svg>
<svg x="443.06" y="62.10" width="7.60" height="17.60" overflow="hidden"><rect x="0.00" y="0.00" width="7.60" height="17.60" fill="url(#gBg)"/><path d="M3.80,1.03 L4.71,1.84 L5.93,3.78 L6.99,6.21 L7.52,8.80 L7.60,11.71 L7.45,14.31 L6.84,16.09 L5.32,16.73 L2.28,16.73 L0.76,16.09 L0.15,14.31 L0.00,11.71 L0.08,8.80 L0.61,6.21 L1.67,3.78 L2.89,1.84Z" fill="url(#gBody)"/><ellipse cx="3.80" cy="7.39" rx="3.19" ry="3.34" fill="#6410f8"/><ellipse cx="0.91" cy="13.73" rx="1.37" ry="1.37" fill="#6410f8"/><ellipse cx="6.69" cy="13.73" rx="1.37" ry="1.37" fill="#6410f8"/></svg>
<svg x="451.74" y="62.10" width="7.60" height="17.60" overflow="hidden"><rect x="0.00" y="0.00" width="7.60" height="17.60" fill="url(#gBg)"/><path d="M3.80,1.03 L4.71,1.84 L5.93,3.78 L6.99,6.21 L7.52,8.80 L7.60,11.71 L7.45,14.31 L6.84,16.09 L5.32,16.73 L2.28,16.73 L0.76,16.09 L0.15,14.31 L0.00,11.71 L0.08,8.80 L0.61,6.21 L1.67,3.78 L2.89,1.84Z" fill="url(#gBody)"/><ellipse cx="3.73" cy="7.92" rx="3.04" ry="2.82" fill="#6410f8"/><ellipse cx="0.76" cy="14.08" rx="1.29" ry="1.29" fill="#6410f8"/><ellipse cx="6.84" cy="14.08" rx="1.29" ry="1.29" fill="#6410f8"/></svg>
<svg x="460.42" y="62.10" width="7.60" height="17.60" overflow="hidden"><rect x="0.00" y="0.00" width="7.60" height="17.60" fill="url(#gBg)"/><path d="M3.80,1.03 L4.71,1.84 L5.93,3.78 L6.99,6.21 L7.52,8.80 L7.60,11.71 L7.45,14.31 L6.84,16.09 L5.32,16.73 L2.28,16.73 L0.76,16.09 L0.15,14.31 L0.00,11.71 L0.08,8.80 L0.61,6.21 L1.67,3.78 L2.89,1.84Z" fill="url(#gBody)"/><ellipse cx="3.63" cy="7.92" rx="3.04" ry="2.82" fill="#6410f8"/><ellipse cx="0.76" cy="14.08" rx="1.29" ry="1.29" fill="#6410f8"/><ellipse cx="6.84" cy="14.08" rx="1.29" ry="1.29" fill="#6410f8"/></svg>
<svg x="470.90" y="62.10" width="7.60" height="17.60" overflow="hidden"><rect x="0.00" y="0.00" width="7.60" height="17.60" fill="url(#gBg)"/><path d="M3.80,1.03 L4.71,1.84 L5.93,3.78 L6.99,6.21 L7.52,8.80 L7.60,11.71 L7.45,14.31 L6.84,16.09 L5.32,16.73 L2.28,16.73 L0.76,16.09 L0.15,14.31 L0.00,11.71 L0.08,8.80 L0.61,6.21 L1.67,3.78 L2.89,1.84Z" fill="url(#gBody)"/><ellipse cx="4.10" cy="7.92" rx="3.04" ry="2.82" fill="#6410f8"/><ellipse cx="0.76" cy="14.08" rx="1.29" ry="1.29" fill="#6410f8"/><ellipse cx="6.84" cy="14.08" rx="1.29" ry="1.29" fill="#6410f8"/></svg>
<svg x="479.42" y="62.10" width="7.60" height="17.60" overflow="hidden"><rect x="0.00" y="0.00" width="7.60" height="17.60" fill="url(#gBg)"/><path d="M3.80,1.03 L4.71,1.84 L5.93,3.78 L6.99,6.21 L7.52,8.80 L7.60,11.71 L7.45,14.31 L6.84,16.09 L5.32,16.73 L2.28,16.73 L0.76,16.09 L0.15,14.31 L0.00,11.71 L0.08,8.80 L0.61,6.21 L1.67,3.78 L2.89,1.84Z" fill="url(#gBody)"/><ellipse cx="3.69" cy="7.92" rx="3.04" ry="2.82" fill="#6410f8"/><ellipse cx="0.76" cy="14.08" rx="1.29" ry="1.29" fill="#6410f8"/><ellipse cx="6.84" cy="14.08" rx="1.29" ry="1.29" fill="#6410f8"/></svg>
<svg x="487.94" y="62.10" width="7.60" height="17.60" overflow="hidden"><rect x="0.00" y="0.00" width="7.60" height="17.60" fill="url(#gBg)"/><path d="M3.80,1.03 L4.71,1.84 L5.93,3.78 L6.99,6.21 L7.52,8.80 L7.60,11.71 L7.45,14.31 L6.84,16.09 L5.32,16.73 L2.28,16.73 L0.76,16.09 L0.15,14.31 L0.00,11.71 L0.08,8.80 L0.61,6.21 L1.67,3.78 L2.89,1.84Z" fill="url(#gBody)"/><ellipse cx="3.87" cy="7.92" rx="1.14" ry="0.88" fill="#6410f8" opacity="0.8"/><ellipse cx="2.28" cy="13.20" rx="0.76" ry="0.70" fill="#6410f8" opacity="0.7"/></svg>
<svg x="496.46" y="62.10" width="7.60" height="17.60" overflow="hidden"><rect x="0.00" y="0.00" width="7.60" height="17.60" fill="url(#gBg)"/><path d="M3.80,1.03 L4.71,1.84 L5.93,3.78 L6.99,6.21 L7.52,8.80 L7.60,11.71 L7.45,14.31 L6.84,16.09 L5.32,16.73 L2.28,16.73 L0.76,16.09 L0.15,14.31 L0.00,11.71 L0.08,8.80 L0.61,6.21 L1.67,3.78 L2.89,1.84Z" fill="url(#gBody)"/><ellipse cx="3.14" cy="7.92" rx="1.14" ry="0.88" fill="#6410f8" opacity="0.8"/><ellipse cx="2.28" cy="13.20" rx="0.76" ry="0.70" fill="#6410f8" opacity="0.7"/></svg>
<svg x="504.98" y="62.10" width="7.60" height="17.60" overflow="hidden"><rect x="0.00" y="0.00" width="7.60" height="17.60" fill="url(#gBg)"/><path d="M3.80,1.03 L4.71,1.84 L5.93,3.78 L6.99,6.21 L7.52,8.80 L7.60,11.71 L7.45,14.31 L6.84,16.09 L5.32,16.73 L2.28,16.73 L0.76,16.09 L0.15,14.31 L0.00,11.71 L0.08,8.80 L0.61,6.21 L1.67,3.78 L2.89,1.84Z" fill="url(#gBody)"/><ellipse cx="3.80" cy="7.92" rx="1.14" ry="0.88" fill="#6410f8" opacity="0.8"/><ellipse cx="2.28" cy="13.20" rx="0.76" ry="0.70" fill="#6410f8" opacity="0.7"/></svg>
<svg x="290.00" y="81.70" width="7.60" height="17.60" overflow="hidden"><rect x="0.00" y="0.00" width="7.60" height="17.60" fill="url(#gBg)"/><path d="M3.80,1.03 L4.71,1.84 L5.93,3.78 L6.99,6.21 L7.52,8.80 L7.60,11.71 L7.45,14.31 L6.84,16.09 L5.32,16.73 L2.28,16.73 L0.76,16.09 L0.15,14.31 L0.00,11.71 L0.08,8.80 L0.61,6.21 L1.67,3.78 L2.89,1.84Z" fill="#5a14f4"/><ellipse cx="3.80" cy="7.39" rx="2.43" ry="3.87" fill="url(#gBlue)"/><ellipse cx="0.53" cy="11.62" rx="1.06" ry="1.06" fill="#3a90ff"/><ellipse cx="7.07" cy="11.62" rx="1.06" ry="1.06" fill="#3a90ff"/></svg>
<svg x="298.80" y="81.70" width="7.60" height="17.60" overflow="hidden"><rect x="0.00" y="0.00" width="7.60" height="17.60" fill="url(#gBg)"/><path d="M3.80,1.03 L4.71,1.84 L5.93,3.78 L6.99,6.21 L7.52,8.80 L7.60,11.71 L7.45,14.31 L6.84,16.09 L5.32,16.73 L2.28,16.73 L0.76,16.09 L0.15,14.31 L0.00,11.71 L0.08,8.80 L0.61,6.21 L1.67,3.78 L2.89,1.84Z" fill="#5a14f4"/><ellipse cx="3.80" cy="7.39" rx="2.43" ry="3.87" fill="url(#gBlue)"/><ellipse cx="0.53" cy="11.62" rx="1.06" ry="1.06" fill="#3a90ff"/><ellipse cx="7.07" cy="11.62" rx="1.06" ry="1.06" fill="#3a90ff"/></svg>
<svg x="307.60" y="81.70" width="7.60" height="17.60" overflow="hidden"><rect x="0.00" y="0.00" width="7.60" height="17.60" fill="url(#gBg)"/><path d="M3.80,1.03 L4.71,1.84 L5.93,3.78 L6.99,6.21 L7.52,8.80 L7.60,11.71 L7.45,14.31 L6.84,16.09 L5.32,16.73 L2.28,16.73 L0.76,16.09 L0.15,14.31 L0.00,11.71 L0.08,8.80 L0.61,6.21 L1.67,3.78 L2.89,1.84Z" fill="#5a14f4"/><ellipse cx="3.80" cy="7.39" rx="2.43" ry="3.87" fill="url(#gBlue)"/><ellipse cx="0.53" cy="11.62" rx="1.06" ry="1.06" fill="#3a90ff"/><ellipse cx="7.07" cy="11.62" rx="1.06" ry="1.06" fill="#3a90ff"/></svg>
<svg x="316.40" y="81.70" width="7.60" height="17.60" overflow="hidden"><rect x="0.00" y="0.00" width="7.60" height="17.60" fill="url(#gBg)"/><path d="M3.80,1.03 L4.71,1.84 L5.93,3.78 L6.99,6.21 L7.52,8.80 L7.60,11.71 L7.45,14.31 L6.84,16.09 L5.32,16.73 L2.28,16.73 L0.76,16.09 L0.15,14.31 L0.00,11.71 L0.08,8.80 L0.61,6.21 L1.67,3.78 L2.89,1.84Z" fill="#5a14f4"/><ellipse cx="3.80" cy="7.39" rx="2.43" ry="3.87" fill="url(#gBlue)"/><ellipse cx="0.53" cy="11.62" rx="1.06" ry="1.06" fill="#3a90ff"/><ellipse cx="7.07" cy="11.62" rx="1.06" ry="1.06" fill="#3a90ff"/></svg>
<svg x="325.20" y="81.70" width="7.60" height="17.60" overflow="hidden"><rect x="0.00" y="0.00" width="7.60" height="17.60" fill="url(#gBg)"/><path d="M3.80,1.03 L4.71,1.84 L5.93,3.78 L6.99,6.21 L7.52,8.80 L7.60,11.71 L7.45,14.31 L6.84,16.09 L5.32,16.73 L2.28,16.73 L0.76,16.09 L0.15,14.31 L0.00,11.71 L0.08,8.80 L0.61,6.21 L1.67,3.78 L2.89,1.84Z" fill="#5a14f4"/><ellipse cx="3.80" cy="7.39" rx="2.43" ry="3.87" fill="url(#gBlue)"/><ellipse cx="0.53" cy="11.62" rx="1.06" ry="1.06" fill="#3a90ff"/><ellipse cx="7.07" cy="11.62" rx="1.06" ry="1.06" fill="#3a90ff"/></svg>
<svg x="335.70" y="81.70" width="7.60" height="17.60" overflow="hidden"><rect x="0.00" y="0.00" width="7.60" height="17.60" fill="url(#gBg)"/><path d="M3.80,1.03 L4.71,1.84 L5.93,3.78 L6.99,6.21 L7.52,8.80 L7.60,11.71 L7.45,14.31 L6.84,16.09 L5.32,16.73 L2.28,16.73 L0.76,16.09 L0.15,14.31 L0.00,11.71 L0.08,8.80 L0.61,6.21 L1.67,3.78 L2.89,1.84Z" fill="#5a14f4"/><ellipse cx="3.80" cy="6.34" rx="2.28" ry="3.17" fill="url(#gBlue)"/><ellipse cx="3.80" cy="12.32" rx="2.28" ry="0.88" fill="#eeeeee"/></svg>
<svg x="344.40" y="81.70" width="7.60" height="17.60" overflow="hidden"><rect x="0.00" y="0.00" width="7.60" height="17.60" fill="url(#gBg)"/><path d="M3.80,1.03 L4.71,1.84 L5.93,3.78 L6.99,6.21 L7.52,8.80 L7.60,11.71 L7.45,14.31 L6.84,16.09 L5.32,16.73 L2.28,16.73 L0.76,16.09 L0.15,14.31 L0.00,11.71 L0.08,8.80 L0.61,6.21 L1.67,3.78 L2.89,1.84Z" fill="#5a14f4"/><ellipse cx="3.80" cy="7.39" rx="2.43" ry="3.87" fill="url(#gBlue)"/><ellipse cx="0.53" cy="11.62" rx="1.06" ry="1.06" fill="#3a90ff"/><ellipse cx="7.07" cy="11.62" rx="1.06" ry="1.06" fill="#3a90ff"/></svg>
<svg x="353.10" y="81.70" width="7.60" height="17.60" overflow="hidden"><rect x="0.00" y="0.00" width="7.60" height="17.60" fill="url(#gBg)"/><path d="M3.80,1.03 L4.71,1.84 L5.93,3.78 L6.99,6.21 L7.52,8.80 L7.60,11.71 L7.45,14.31 L6.84,16.09 L5.32,16.73 L2.28,16.73 L0.76,16.09 L0.15,14.31 L0.00,11.71 L0.08,8.80 L0.61,6.21 L1.67,3.78 L2.89,1.84Z" fill="#5a14f4"/><ellipse cx="3.80" cy="7.39" rx="2.43" ry="3.87" fill="url(#gBlue)"/><ellipse cx="0.53" cy="11.62" rx="1.06" ry="1.06" fill="#3a90ff"/><ellipse cx="7.07" cy="11.62" rx="1.06" ry="1.06" fill="#3a90ff"/></svg>
<svg x="361.80" y="81.70" width="7.60" height="17.60" overflow="hidden"><rect x="0.00" y="0.00" width="7.60" height="17.60" fill="url(#gBg)"/><path d="M3.80,1.03 L4.71,1.84 L5.93,3.78 L6.99,6.21 L7.52,8.80 L7.60,11.71 L7.45,14.31 L6.84,16.09 L5.32,16.73 L2.28,16.73 L0.76,16.09 L0.15,14.31 L0.00,11.71 L0.08,8.80 L0.61,6.21 L1.67,3.78 L2.89,1.84Z" fill="#5a14f4"/><ellipse cx="3.80" cy="7.39" rx="2.43" ry="3.87" fill="url(#gBlue)"/><ellipse cx="0.53" cy="11.62" rx="1.06" ry="1.06" fill="#3a90ff"/><ellipse cx="7.07" cy="11.62" rx="1.06" ry="1.06" fill="#3a90ff"/></svg>
<svg x="370.50" y="81.70" width="7.60" height="17.60" overflow="hidden"><rect x="0.00" y="0.00" width="7.60" height="17.60" fill="url(#gBg)"/><path d="M3.80,1.03 L4.71,1.84 L5.93,3.78 L6.99,6.21 L7.52,8.80 L7.60,11.71 L7.45,14.31 L6.84,16.09 L5.32,16.73 L2.28,16.73 L0.76,16.09 L0.15,14.31 L0.00,11.71 L0.08,8.80 L0.61,6.21 L1.67,3.78 L2.89,1.84Z" fill="#5a14f4"/><ellipse cx="3.80" cy="7.39" rx="2.43" ry="3.87" fill="url(#gBlue)"/><ellipse cx="0.53" cy="11.62" rx="1.06" ry="1.06" fill="#3a90ff"/><ellipse cx="7.07" cy="11.62" rx="1.06" ry="1.06" fill="#3a90ff"/></svg>
<svg x="380.90" y="81.70" width="7.60" height="17.60" overflow="hidden"><rect x="0.00" y="0.00" width="7.60" height="17.60" fill="url(#gBg)"/><path d="M3.80,1.03 L4.71,1.84 L5.93,3.78 L6.99,6.21 L7.52,8.80 L7.60,11.71 L7.45,14.31 L6.84,16.09 L5.32,16.73 L2.28,16.73 L0.76,16.09 L0.15,14.31 L0.00,11.71 L0.08,8.80 L0.61,6.21 L1.67,3.78 L2.89,1.84Z" fill="#5a14f4"/><ellipse cx="3.80" cy="7.39" rx="2.43" ry="3.87" fill="url(#gBlue)"/><ellipse cx="0.53" cy="11.62" rx="1.06" ry="1.06" fill="#3a90ff"/><ellipse cx="7.07" cy="11.62" rx="1.06" ry="1.06" fill="#3a90ff"/></svg>
<svg x="389.50" y="81.70" width="7.60" height="17.60" overflow="hidden"><rect x="0.00" y="0.00" width="7.60" height="17.60" fill="url(#gBg)"/><path d="M3.80,1.03 L4.71,1.84 L5.93,3.78 L6.99,6.21 L7.52,8.80 L7.60,11.71 L7.45,14.31 L6.84,16.09 L5.32,16.73 L2.28,16.73 L0.76,16.09 L0.15,14.31 L0.00,11.71 L0.08,8.80 L0.61,6.21 L1.67,3.78 L2.89,1.84Z" fill="#5a14f4"/><ellipse cx="3.80" cy="7.39" rx="2.43" ry="3.87" fill="url(#gBlue)"/><ellipse cx="0.53" cy="11.62" rx="1.06" ry="1.06" fill="#3a90ff"/><ellipse cx="7.07" cy="11.62" rx="1.06" ry="1.06" fill="#3a90ff"/></svg>
<svg x="398.10" y="81.70" width="7.60" height="17.60" overflow="hidden"><rect x="0.00" y="0.00" width="7.60" height="17.60" fill="url(#gBg)"/><path d="M3.80,1.03 L4.71,1.84 L5.93,3.78 L6.99,6.21 L7.52,8.80 L7.60,11.71 L7.45,14.31 L6.84,16.09 L5.32,16.73 L2.28,16.73 L0.76,16.09 L0.15,14.31 L0.00,11.71 L0.08,8.80 L0.61,6.21 L1.67,3.78 L2.89,1.84Z" fill="#5a14f4"/><ellipse cx="3.80" cy="7.39" rx="2.43" ry="3.87" fill="url(#gBlue)"/><ellipse cx="0.53" cy="11.62" rx="1.06" ry="1.06" fill="#3a90ff"/><ellipse cx="7.07" cy="11.62" rx="1.06" ry="1.06" fill="#3a90ff"/></svg>
<svg x="406.70" y="81.70" width="7.60" height="17.60" overflow="hidden"><rect x="0.00" y="0.00" width="7.60" height="17.60" fill="url(#gBg)"/><path d="M3.80,1.03 L4.71,1.84 L5.93,3.78 L6.99,6.21 L7.52,8.80 L7.60,11.71 L7.45,14.31 L6.84,16.09 L5.32,16.73 L2.28,16.73 L0.76,16.09 L0.15,14.31 L0.00,11.71 L0.08,8.80 L0.61,6.21 L1.67,3.78 L2.89,1.84Z" fill="#5a14f4"/><ellipse cx="3.80" cy="7.39" rx="2.43" ry="3.87" fill="url(#gBlue)"/><ellipse cx="0.53" cy="11.62" rx="1.06" ry="1.06" fill="#3a90ff"/><ellipse cx="7.07" cy="11.62" rx="1.06" ry="1.06" fill="#3a90ff"/></svg>
<svg x="415.30" y="81.70" width="7.60" height="17.60" overflow="hidden"><rect x="0.00" y="0.00" width="7.60" height="17.60" fill="url(#gBg)"/><path d="M3.80,1.03 L4.71,1.84 L5.93,3.78 L6.99,6.21 L7.52,8.80 L7.60,11.71 L7.45,14.31 L6.84,16.09 L5.32,16.73 L2.28,16.73 L0.76,16.09 L0.15,14.31 L0.00,11.71 L0.08,8.80 L0.61,6.21 L1.67,3.78 L2.89,1.84Z" fill="#5a14f4"/><ellipse cx="3.80" cy="7.39" rx="2.43" ry="3.87" fill="url(#gBlue)"/><ellipse cx="0.53" cy="11.62" rx="1.06" ry="1.06" fill="#3a90ff"/><ellipse cx="7.07" cy="11.62" rx="1.06" ry="1.06" fill="#3a90ff"/></svg>
<svg x="425.70" y="81.70" width="7.60" height="17.60" overflow="hidden"><rect x="0.00" y="0.00" width="7.60" height="17.60" fill="url(#gBg)"/><path d="M3.80,1.03 L4.71,1.84 L5.93,3.78 L6.99,6.21 L7.52,8.80 L7.60,11.71 L7.45,14.31 L6.84,16.09 L5.32,16.73 L2.28,16.73 L0.76,16.09 L0.15,14.31 L0.00,11.71 L0.08,8.80 L0.61,6.21 L1.67,3.78 L2.89,1.84Z" fill="#5a14f4"/><ellipse cx="3.80" cy="7.39" rx="2.43" ry="3.87" fill="url(#gBlue)"/><ellipse cx="0.53" cy="11.62" rx="1.06" ry="1.06" fill="#3a90ff"/><ellipse cx="7.07" cy="11.62" rx="1.06" ry="1.06" fill="#3a90ff"/></svg>
<svg x="434.38" y="81.70" width="7.60" height="17.60" overflow="hidden"><rect x="0.00" y="0.00" width="7.60" height="17.60" fill="url(#gBg)"/><path d="M3.80,1.03 L4.71,1.84 L5.93,3.78 L6.99,6.21 L7.52,8.80 L7.60,11.71 L7.45,14.31 L6.84,16.09 L5.32,16.73 L2.28,16.73 L0.76,16.09 L0.15,14.31 L0.00,11.71 L0.08,8.80 L0.61,6.21 L1.67,3.78 L2.89,1.84Z" fill="#5a14f4"/><ellipse cx="3.80" cy="7.39" rx="2.43" ry="3.87" fill="url(#gBlue)"/><ellipse cx="0.53" cy="11.62" rx="1.06" ry="1.06" fill="#3a90ff"/><ellipse cx="7.07" cy="11.62" rx="1.06" ry="1.06" fill="#3a90ff"/></svg>
<svg x="443.06" y="81.70" width="7.60" height="17.60" overflow="hidden"><rect x="0.00" y="0.00" width="7.60" height="17.60" fill="url(#gBg)"/><path d="M3.80,1.03 L4.71,1.84 L5.93,3.78 L6.99,6.21 L7.52,8.80 L7.60,11.71 L7.45,14.31 L6.84,16.09 L5.32,16.73 L2.28,16.73 L0.76,16.09 L0.15,14.31 L0.00,11.71 L0.08,8.80 L0.61,6.21 L1.67,3.78 L2.89,1.84Z" fill="#5a14f4"/><ellipse cx="3.80" cy="7.39" rx="2.43" ry="3.87" fill="url(#gBlue)"/><ellipse cx="0.53" cy="11.62" rx="1.06" ry="1.06" fill="#3a90ff"/><ellipse cx="7.07" cy="11.62" rx="1.06" ry="1.06" fill="#3a90ff"/></svg>
<svg x="451.74" y="81.70" width="7.60" height="17.60" overflow="hidden"><rect x="0.00" y="0.00" width="7.60" height="17.60" fill="url(#gBg)"/><path d="M3.80,1.03 L4.71,1.84 L5.93,3.78 L6.99,6.21 L7.52,8.80 L7.60,11.71 L7.45,14.31 L6.84,16.09 L5.32,16.73 L2.28,16.73 L0.76,16.09 L0.15,14.31 L0.00,11.71 L0.08,8.80 L0.61,6.21 L1.67,3.78 L2.89,1.84Z" fill="#5a14f4"/><ellipse cx="3.80" cy="7.39" rx="2.43" ry="3.87" fill="url(#gBlue)"/><ellipse cx="0.53" cy="11.62" rx="1.06" ry="1.06" fill="#3a90ff"/><ellipse cx="7.07" cy="11.62" rx="1.06" ry="1.06" fill="#3a90ff"/></svg>
<svg x="460.42" y="81.70" width="7.60" height="17.60" overflow="hidden"><rect x="0.00" y="0.00" width="7.60" height="17.60" fill="url(#gBg)"/><path d="M3.80,1.03 L4.71,1.84 L5.93,3.78 L6.99,6.21 L7.52,8.80 L7.60,11.71 L7.45,14.31 L6.84,16.09 L5.32,16.73 L2.28,16.73 L0.76,16.09 L0.15,14.31 L0.00,11.71 L0.08,8.80 L0.61,6.21 L1.67,3.78 L2.89,1.84Z" fill="#5a14f4"/><ellipse cx="3.80" cy="7.39" rx="2.43" ry="3.87" fill="url(#gBlue)"/><ellipse cx="0.53" cy="11.62" rx="1.06" ry="1.06" fill="#3a90ff"/><ellipse cx="7.07" cy="11.62" rx="1.06" ry="1.06" fill="#3a90ff"/></svg>
<svg x="470.90" y="81.70" width="7.60" height="17.60" overflow="hidden"><rect x="0.00" y="0.00" width="7.60" height="17.60" fill="url(#gBg)"/><path d="M3.80,1.03 L4.71,1.84 L5.93,3.78 L6.99,6.21 L7.52,8.80 L7.60,11.71 L7.45,14.31 L6.84,16.09 L5.32,16.73 L2.28,16.73 L0.76,16.09 L0.15,14.31 L0.00,11.71 L0.08,8.80 L0.61,6.21 L1.67,3.78 L2.89,1.84Z" fill="#5a14f4"/><ellipse cx="3.80" cy="6.34" rx="2.28" ry="3.17" fill="url(#gBlue)"/><ellipse cx="3.80" cy="12.32" rx="2.28" ry="0.88" fill="#eeeeee"/></svg>
<svg x="479.42" y="81.70" width="7.60" height="17.60" overflow="hidden"><rect x="0.00" y="0.00" width="7.60" height="17.60" fill="url(#gBg)"/><path d="M3.80,1.03 L4.71,1.84 L5.93,3.78 L6.99,6.21 L7.52,8.80 L7.60,11.71 L7.45,14.31 L6.84,16.09 L5.32,16.73 L2.28,16.73 L0.76,16.09 L0.15,14.31 L0.00,11.71 L0.08,8.80 L0.61,6.21 L1.67,3.78 L2.89,1.84Z" fill="#5a14f4"/><ellipse cx="3.80" cy="6.34" rx="2.28" ry="3.17" fill="url(#gBlue)"/><ellipse cx="3.80" cy="12.32" rx="2.28" ry="0.88" fill="#eeeeee"/></svg>
<svg x="487.94" y="81.70" width="7.60" height="17.60" overflow="hidden"><rect x="0.00" y="0.00" width="7.60" height="17.60" fill="url(#gBg)"/><path d="M3.80,1.03 L4.71,1.84 L5.93,3.78 L6.99,6.21 L7.52,8.80 L7.60,11.71 L7.45,14.31 L6.84,16.09 L5.32,16.73 L2.28,16.73 L0.76,16.09 L0.15,14.31 L0.00,11.71 L0.08,8.80 L0.61,6.21 L1.67,3.78 L2.89,1.84Z" fill="#5a14f4"/><ellipse cx="3.80" cy="6.34" rx="2.28" ry="3.17" fill="url(#gBlue)"/><ellipse cx="3.80" cy="12.32" rx="2.28" ry="0.88" fill="#eeeeee"/></svg>
<svg x="496.46" y="81.70" width="7.60" height="17.60" overflow="hidden"><rect x="0.00" y="0.00" width="7.60" height="17.60" fill="url(#gBg)"/><path d="M3.80,1.03 L4.71,1.84 L5.93,3.78 L6.99,6.21 L7.52,8.80 L7.60,11.71 L7.45,14.31 L6.84,16.09 L5.32,16.73 L2.28,16.73 L0.76,16.09 L0.15,14.31 L0.00,11.71 L0.08,8.80 L0.61,6.21 L1.67,3.78 L2.89,1.84Z" fill="#5a14f4"/><ellipse cx="3.80" cy="6.34" rx="2.28" ry="3.17" fill="url(#gBlue)"/><ellipse cx="3.80" cy="12.32" rx="2.28" ry="0.88" fill="#eeeeee"/></svg>
<svg x="504.98" y="81.70" width="7.60" height="17.60" overflow="hidden"><rect x="0.00" y="0.00" width="7.60" height="17.60" fill="url(#gBg)"/><path d="M3.80,1.03 L4.71,1.84 L5.93,3.78 L6.99,6.21 L7.52,8.80 L7.60,11.71 L7.45,14.31 L6.84,16.09 L5.32,16.73 L2.28,16.73 L0.76,16.09 L0.15,14.31 L0.00,11.71 L0.08,8.80 L0.61,6.21 L1.67,3.78 L2.89,1.84Z" fill="#5a14f4"/><ellipse cx="3.80" cy="6.34" rx="2.28" ry="3.17" fill="url(#gBlue)"/><ellipse cx="3.80" cy="12.32" rx="2.28" ry="0.88" fill="#eeeeee"/></svg>
<svg x="290.00" y="101.20" width="7.60" height="17.60" overflow="hidden"><rect x="0.00" y="0.00" width="7.60" height="17.60" fill="url(#gBg)"/><path d="M3.80,1.03 L4.71,1.84 L5.93,3.78 L6.99,6.21 L7.52,8.80 L7.60,11.71 L7.45,14.31 L6.84,16.09 L5.32,16.73 L2.28,16.73 L0.76,16.09 L0.15,14.31 L0.00,11.71 L0.08,8.80 L0.61,6.21 L1.67,3.78 L2.89,1.84Z" fill="#5a14f4"/><ellipse cx="3.80" cy="7.39" rx="3.19" ry="4.58" fill="url(#gBlue)"/><ellipse cx="3.80" cy="7.92" rx="2.58" ry="1.94" fill="url(#gCyan)"/><ellipse cx="0.61" cy="11.97" rx="1.22" ry="1.22" fill="url(#gCyan)"/><ellipse cx="6.99" cy="11.97" rx="1.22" ry="1.22" fill="url(#gCyan)"/></svg>
<svg x="298.80" y="101.20" width="7.60" height="17.60" overflow="hidden"><rect x="0.00" y="0.00" width="7.60" height="17.60" fill="url(#gBg)"/><path d="M3.80,1.03 L4.71,1.84 L5.93,3.78 L6.99,6.21 L7.52,8.80 L7.60,11.71 L7.45,14.31 L6.84,16.09 L5.32,16.73 L2.28,16.73 L0.76,16.09 L0.15,14.31 L0.00,11.71 L0.08,8.80 L0.61,6.21 L1.67,3.78 L2.89,1.84Z" fill="#5a14f4"/><ellipse cx="3.80" cy="7.39" rx="3.19" ry="4.58" fill="url(#gBlue)"/><ellipse cx="3.80" cy="7.92" rx="2.58" ry="1.94" fill="url(#gCyan)"/><ellipse cx="0.61" cy="11.97" rx="1.22" ry="1.22" fill="url(#gCyan)"/><ellipse cx="6.99" cy="11.97" rx="1.22" ry="1.22" fill="url(#gCyan)"/></svg>
<svg x="307.60" y="101.20" width="7.60" height="17.60" overflow="hidden"><rect x="0.00" y="0.00" width="7.60" height="17.60" fill="url(#gBg)"/><path d="M3.80,1.03 L4.71,1.84 L5.93,3.78 L6.99,6.21 L7.52,8.80 L7.60,11.71 L7.45,14.31 L6.84,16.09 L5.32,16.73 L2.28,16.73 L0.76,16.09 L0.15,14.31 L0.00,11.71 L0.08,8.80 L0.61,6.21 L1.67,3.78 L2.89,1.84Z" fill="#5a14f4"/><ellipse cx="3.80" cy="7.39" rx="3.19" ry="4.58" fill="url(#gBlue)"/><ellipse cx="3.80" cy="7.92" rx="2.58" ry="1.94" fill="url(#gCyan)"/><ellipse cx="0.61" cy="11.97" rx="1.22" ry="1.22" fill="url(#gCyan)"/><ellipse cx="6.99" cy="11.97" rx="1.22" ry="1.22" fill="url(#gCyan)"/></svg>
<svg x="316.40" y="101.20" width="7.60" height="17.60" overflow="hidden"><rect x="0.00" y="0.00" width="7.60" height="17.60" fill="url(#gBg)"/><path d="M3.80,1.03 L4.71,1.84 L5.93,3.78 L6.99,6.21 L7.52,8.80 L7.60,11.71 L7.45,14.31 L6.84,16.09 L5.32,16.73 L2.28,16.73 L0.76,16.09 L0.15,14.31 L0.00,11.71 L0.08,8.80 L0.61,6.21 L1.67,3.78 L2.89,1.84Z" fill="#5a14f4"/><ellipse cx="3.80" cy="7.39" rx="3.19" ry="4.58" fill="url(#gBlue)"/><ellipse cx="3.80" cy="7.92" rx="2.58" ry="1.94" fill="url(#gCyan)"/><ellipse cx="0.61" cy="11.97" rx="1.22" ry="1.22" fill="url(#gCyan)"/><ellipse cx="6.99" cy="11.97" rx="1.22" ry="1.22" fill="url(#gCyan)"/></svg>
<svg x="325.20" y="101.20" width="7.60" height="17.60" overflow="hidden"><rect x="0.00" y="0.00" width="7.60" height="17.60" fill="url(#gBg)"/><path d="M3.80,1.03 L4.71,1.84 L5.93,3.78 L6.99,6.21 L7.52,8.80 L7.60,11.71 L7.45,14.31 L6.84,16.09 L5.32,16.73 L2.28,16.73 L0.76,16.09 L0.15,14.31 L0.00,11.71 L0.08,8.80 L0.61,6.21 L1.67,3.78 L2.89,1.84Z" fill="#5a14f4"/><ellipse cx="3.80" cy="7.39" rx="3.19" ry="4.58" fill="url(#gBlue)"/><ellipse cx="3.80" cy="7.92" rx="2.58" ry="1.94" fill="url(#gCyan)"/><ellipse cx="0.61" cy="11.97" rx="1.22" ry="1.22" fill="url(#gCyan)"/><ellipse cx="6.99" cy="11.97" rx="1.22" ry="1.22" fill="url(#gCyan)"/></svg>
<svg x="335.70" y="101.20" width="7.60" height="17.60" overflow="hidden"><rect x="0.00" y="0.00" width="7.60" height="17.60" fill="url(#gBg)"/><path d="M3.80,1.03 L4.71,1.84 L5.93,3.78 L6.99,6.21 L7.52,8.80 L7.60,11.71 L7.45,14.31 L6.84,16.09 L5.32,16.73 L2.28,16.73 L0.76,16.09 L0.15,14.31 L0.00,11.71 L0.08,8.80 L0.61,6.21 L1.67,3.78 L2.89,1.84Z" fill="#5a14f4"/><ellipse cx="3.80" cy="7.39" rx="2.43" ry="3.87" fill="url(#gBlue)"/><ellipse cx="0.53" cy="11.62" rx="1.06" ry="1.06" fill="#3a90ff"/><ellipse cx="7.07" cy="11.62" rx="1.06" ry="1.06" fill="#3a90ff"/></svg>
<svg x="344.40" y="101.20" width="7.60" height="17.60" overflow="hidden"><rect x="0.00" y="0.00" width="7.60" height="17.60" fill="url(#gBg)"/><path d="M3.80,1.03 L4.71,1.84 L5.93,3.78 L6.99,6.21 L7.52,8.80 L7.60,11.71 L7.45,14.31 L6.84,16.09 L5.32,16.73 L2.28,16.73 L0.76,16.09 L0.15,14.31 L0.00,11.71 L0.08,8.80 L0.61,6.21 L1.67,3.78 L2.89,1.84Z" fill="#5a14f4"/><ellipse cx="3.80" cy="7.39" rx="2.43" ry="3.87" fill="url(#gBlue)"/><ellipse cx="0.53" cy="11.62" rx="1.06" ry="1.06" fill="#3a90ff"/><ellipse cx="7.07" cy="11.62" rx="1.06" ry="1.06" fill="#3a90ff"/></svg>
<svg x="353.10" y="101.20" width="7.60" height="17.60" overflow="hidden"><rect x="0.00" y="0.00" width="7.60" height="17.60" fill="url(#gBg)"/><path d="M3.80,1.03 L4.71,1.84 L5.93,3.78 L6.99,6.21 L7.52,8.80 L7.60,11.71 L7.45,14.31 L6.84,16.09 L5.32,16.73 L2.28,16.73 L0.76,16.09 L0.15,14.31 L0.00,11.71 L0.08,8.80 L0.61,6.21 L1.67,3.78 L2.89,1.84Z" fill="#5a14f4"/><ellipse cx="3.80" cy="7.39" rx="2.43" ry="3.87" fill="url(#gBlue)"/><ellipse cx="0.53" cy="11.62" rx="1.06" ry="1.06" fill="#3a90ff"/><ellipse cx="7.07" cy="11.62" rx="1.06" ry="1.06" fill="#3a90ff"/></svg>
<svg x="361.80" y="101.20" width="7.60" height="17.60" overflow="hidden"><rect x="0.00" y="0.00" width="7.60" height="17.60" fill="url(#gBg)"/><path d="M3.80,1.03 L4.71,1.84 L5.93,3.78 L6.99,6.21 L7.52,8.80 L7.60,11.71 L7.45,14.31 L6.84,16.09 L5.32,16.73 L2.28,16.73 L0.76,16.09 L0.15,14.31 L0.00,11.71 L0.08,8.80 L0.61,6.21 L1.67,3.78 L2.89,1.84Z" fill="#5a14f4"/><ellipse cx="3.80" cy="7.39" rx="2.43" ry="3.87" fill="url(#gBlue)"/><ellipse cx="0.53" cy="11.62" rx="1.06" ry="1.06" fill="#3a90ff"/><ellipse cx="7.07" cy="11.62" rx="1.06" ry="1.06" fill="#3a90ff"/></svg>
<svg x="370.50" y="101.20" width="7.60" height="17.60" overflow="hidden"><rect x="0.00" y="0.00" width="7.60" height="17.60" fill="url(#gBg)"/><path d="M3.80,1.03 L4.71,1.84 L5.93,3.78 L6.99,6.21 L7.52,8.80 L7.60,11.71 L7.45,14.31 L6.84,16.09 L5.32,16.73 L2.28,16.73 L0.76,16.09 L0.15,14.31 L0.00,11.71 L0.08,8.80 L0.61,6.21 L1.67,3.78 L2.89,1.84Z" fill="#5a14f4"/><ellipse cx="3.80" cy="7.39" rx="2.43" ry="3.87" fill="url(#gBlue)"/><ellipse cx="0.53" cy="11.62" rx="1.06" ry="1.06" fill="#3a90ff"/><ellipse cx="7.07" cy="11.62" rx="1.06" ry="1.06" fill="#3a90ff"/></svg>
<svg x="380.90" y="101.20" width="7.60" height="17.60" overflow="hidden"><rect x="0.00" y="0.00" width="7.60" height="17.60" fill="url(#gBg)"/><path d="M3.80,1.03 L4.71,1.84 L5.93,3.78 L6.99,6.21 L7.52,8.80 L7.60,11.71 L7.45,14.31 L6.84,16.09 L5.32,16.73 L2.28,16.73 L0.76,16.09 L0.15,14.31 L0.00,11.71 L0.08,8.80 L0.61,6.21 L1.67,3.78 L2.89,1.84Z" fill="#5a14f4"/><ellipse cx="3.80" cy="7.39" rx="3.19" ry="4.58" fill="url(#gBlue)"/><ellipse cx="3.80" cy="7.92" rx="2.58" ry="1.94" fill="url(#gCyan)"/><ellipse cx="0.61" cy="11.97" rx="1.22" ry="1.22" fill="url(#gCyan)"/><ellipse cx="6.99" cy="11.97" rx="1.22" ry="1.22" fill="url(#gCyan)"/></svg>
<svg x="389.50" y="101.20" width="7.60" height="17.60" overflow="hidden"><rect x="0.00" y="0.00" width="7.60" height="17.60" fill="url(#gBg)"/><path d="M3.80,1.03 L4.71,1.84 L5.93,3.78 L6.99,6.21 L7.52,8.80 L7.60,11.71 L7.45,14.31 L6.84,16.09 L5.32,16.73 L2.28,16.73 L0.76,16.09 L0.15,14.31 L0.00,11.71 L0.08,8.80 L0.61,6.21 L1.67,3.78 L2.89,1.84Z" fill="#5a14f4"/><ellipse cx="3.80" cy="7.39" rx="2.43" ry="3.87" fill="url(#gBlue)"/><ellipse cx="0.53" cy="11.62" rx="1.06" ry="1.06" fill="#3a90ff"/><ellipse cx="7.07" cy="11.62" rx="1.06" ry="1.06" fill="#3a90ff"/></svg>
<svg x="398.10" y="101.20" width="7.60" height="17.60" overflow="hidden"><rect x="0.00" y="0.00" width="7.60" height="17.60" fill="url(#gBg)"/><path d="M3.80,1.03 L4.71,1.84 L5.93,3.78 L6.99,6.21 L7.52,8.80 L7.60,11.71 L7.45,14.31 L6.84,16.09 L5.32,16.73 L2.28,16.73 L0.76,16.09 L0.15,14.31 L0.00,11.71 L0.08,8.80 L0.61,6.21 L1.67,3.78 L2.89,1.84Z" fill="#5a14f4"/><ellipse cx="3.80" cy="7.39" rx="2.43" ry="3.87" fill="url(#gBlue)"/><ellipse cx="0.53" cy="11.62" rx="1.06" ry="1.06" fill="#3a90ff"/><ellipse cx="7.07" cy="11.62" rx="1.06" ry="1.06" fill="#3a90ff"/></svg>
<svg x="406.70" y="101.20" width="7.60" height="17.60" overflow="hidden"><rect x="0.00" y="0.00" width="7.60" height="17.60" fill="url(#gBg)"/><path d="M3.80,1.03 L4.71,1.84 L5.93,3.78 L6.99,6.21 L7.52,8.80 L7.60,11.71 L7.45,14.31 L6.84,16.09 L5.32,16.73 L2.28,16.73 L0.76,16.09 L0.15,14.31 L0.00,11.71 L0.08,8.80 L0.61,6.21 L1.67,3.78 L2.89,1.84Z" fill="#5a14f4"/><ellipse cx="3.80" cy="7.39" rx="3.19" ry="4.58" fill="url(#gBlue)"/><ellipse cx="3.80" cy="7.92" rx="2.58" ry="1.94" fill="url(#gCyan)"/><ellipse cx="0.61" cy="11.97" rx="1.22" ry="1.22" fill="url(#gCyan)"/><ellipse cx="6.99" cy="11.97" rx="1.22" ry="1.22" fill="url(#gCyan)"/></svg>
<svg x="415.30" y="101.20" width="7.60" height="17.60" overflow="hidden"><rect x="0.00" y="0.00" width="7.60" height="17.60" fill="url(#gBg)"/><path d="M3.80,1.03 L4.71,1.84 L5.93,3.78 L6.99,6.21 L7.52,8.80 L7.60,11.71 L7.45,14.31 L6.84,16.09 L5.32,16.73 L2.28,16.73 L0.76,16.09 L0.15,14.31 L0.00,11.71 L0.08,8.80 L0.61,6.21 L1.67,3.78 L2.89,1.84Z" fill="#5a14f4"/><ellipse cx="3.80" cy="7.39" rx="2.43" ry="3.87" fill="url(#gBlue)"/><ellipse cx="0.53" cy="11.62" rx="1.06" ry="1.06" fill="#3a90ff"/><ellipse cx="7.07" cy="11.62" rx="1.06" ry="1.06" fill="#3a90ff"/></svg>
<svg x="425.70" y="101.20" width="7.60" height="17.60" overflow="hidden"><rect x="0.00" y="0.00" width="7.60" height="17.60" fill="url(#gBg)"/><path d="M3.80,1.03 L4.71,1.84 L5.93,3.78 L6.99,6.21 L7.52,8.80 L7.60,11.71 L7.45,14.31 L6.84,16.09 L5.32,16.73 L2.28,16.73 L0.76,16.09 L0.15,14.31 L0.00,11.71 L0.08,8.80 L0.61,6.21 L1.67,3.78 L2.89,1.84Z" fill="#5a14f4"/><ellipse cx="3.80" cy="7.39" rx="2.43" ry="3.87" fill="url(#gBlue)"/><ellipse cx="0.53" cy="11.62" rx="1.06" ry="1.06" fill="#3a90ff"/><ellipse cx="7.07" cy="11.62" rx="1.06" ry="1.06" fill="#3a90ff"/></svg>
<svg x="434.38" y="101.20" width="7.60" height="17.60" overflow="hidden"><rect x="0.00" y="0.00" width="7.60" height="17.60" fill="url(#gBg)"/><path d="M3.80,1.03 L4.71,1.84 L5.93,3.78 L6.99,6.21 L7.52,8.80 L7.60,11.71 L7.45,14.31 L6.84,16.09 L5.32,16.73 L2.28,16.73 L0.76,16.09 L0.15,14.31 L0.00,11.71 L0.08,8.80 L0.61,6.21 L1.67,3.78 L2.89,1.84Z" fill="#5a14f4"/><ellipse cx="3.80" cy="7.39" rx="2.43" ry="3.87" fill="url(#gBlue)"/><ellipse cx="0.53" cy="11.62" rx="1.06" ry="1.06" fill="#3a90ff"/><ellipse cx="7.07" cy="11.62" rx="1.06" ry="1.06" fill="#3a90ff"/></svg>
<svg x="443.06" y="101.20" width="7.60" height="17.60" overflow="hidden"><rect x="0.00" y="0.00" width="7.60" height="17.60" fill="url(#gBg)"/><path d="M3.80,1.03 L4.71,1.84 L5.93,3.78 L6.99,6.21 L7.52,8.80 L7.60,11.71 L7.45,14.31 L6.84,16.09 L5.32,16.73 L2.28,16.73 L0.76,16.09 L0.15,14.31 L0.00,11.71 L0.08,8.80 L0.61,6.21 L1.67,3.78 L2.89,1.84Z" fill="#5a14f4"/><ellipse cx="3.80" cy="7.39" rx="2.43" ry="3.87" fill="url(#gBlue)"/><ellipse cx="0.53" cy="11.62" rx="1.06" ry="1.06" fill="#3a90ff"/><ellipse cx="7.07" cy="11.62" rx="1.06" ry="1.06" fill="#3a90ff"/></svg>
<svg x="451.74" y="101.20" width="7.60" height="17.60" overflow="hidden"><rect x="0.00" y="0.00" width="7.60" height="17.60" fill="url(#gBg)"/><path d="M3.80,1.03 L4.71,1.84 L5.93,3.78 L6.99,6.21 L7.52,8.80 L7.60,11.71 L7.45,14.31 L6.84,16.09 L5.32,16.73 L2.28,16.73 L0.76,16.09 L0.15,14.31 L0.00,11.71 L0.08,8.80 L0.61,6.21 L1.67,3.78 L2.89,1.84Z" fill="#5a14f4"/><ellipse cx="3.80" cy="7.39" rx="2.43" ry="3.87" fill="url(#gBlue)"/><ellipse cx="0.53" cy="11.62" rx="1.06" ry="1.06" fill="#3a90ff"/><ellipse cx="7.07" cy="11.62" rx="1.06" ry="1.06" fill="#3a90ff"/></svg>
<svg x="460.42" y="101.20" width="7.60" height="17.60" overflow="hidden"><rect x="0.00" y="0.00" width="7.60" height="17.60" fill="url(#gBg)"/><path d="M3.80,1.03 L4.71,1.84 L5.93,3.78 L6.99,6.21 L7.52,8.80 L7.60,11.71 L7.45,14.31 L6.84,16.09 L5.32,16.73 L2.28,16.73 L0.76,16.09 L0.15,14.31 L0.00,11.71 L0.08,8.80 L0.61,6.21 L1.67,3.78 L2.89,1.84Z" fill="#5a14f4"/><ellipse cx="3.80" cy="7.39" rx="2.43" ry="3.87" fill="url(#gBlue)"/><ellipse cx="0.53" cy="11.62" rx="1.06" ry="1.06" fill="#3a90ff"/><ellipse cx="7.07" cy="11.62" rx="1.06" ry="1.06" fill="#3a90ff"/></svg>
<svg x="470.90" y="101.20" width="7.60" height="17.60" overflow="hidden"><rect x="0.00" y="0.00" width="7.60" height="17.60" fill="url(#gBg)"/><path d="M3.80,1.03 L4.71,1.84 L5.93,3.78 L6.99,6.21 L7.52,8.80 L7.60,11.71 L7.45,14.31 L6.84,16.09 L5.32,16.73 L2.28,16.73 L0.76,16.09 L0.15,14.31 L0.00,11.71 L0.08,8.80 L0.61,6.21 L1.67,3.78 L2.89,1.84Z" fill="#5a14f4"/><ellipse cx="3.80" cy="6.34" rx="2.28" ry="3.17" fill="url(#gBlue)"/><ellipse cx="3.80" cy="12.32" rx="2.28" ry="0.88" fill="#eeeeee"/></svg>
<svg x="479.42" y="101.20" width="7.60" height="17.60" overflow="hidden"><rect x="0.00" y="0.00" width="7.60" height="17.60" fill="url(#gBg)"/><path d="M3.80,1.03 L4.71,1.84 L5.93,3.78 L6.99,6.21 L7.52,8.80 L7.60,11.71 L7.45,14.31 L6.84,16.09 L5.32,16.73 L2.28,16.73 L0.76,16.09 L0.15,14.31 L0.00,11.71 L0.08,8.80 L0.61,6.21 L1.67,3.78 L2.89,1.84Z" fill="#5a14f4"/><ellipse cx="3.80" cy="6.34" rx="2.28" ry="3.17" fill="url(#gBlue)"/><ellipse cx="3.80" cy="12.32" rx="2.28" ry="0.88" fill="#eeeeee"/></svg>
<svg x="487.94" y="101.20" width="7.60" height="17.60" overflow="hidden"><rect x="0.00" y="0.00" width="7.60" height="17.60" fill="url(#gBg)"/><path d="M3.80,1.03 L4.71,1.84 L5.93,3.78 L6.99,6.21 L7.52,8.80 L7.60,11.71 L7.45,14.31 L6.84,16.09 L5.32,16.73 L2.28,16.73 L0.76,16.09 L0.15,14.31 L0.00,11.71 L0.08,8.80 L0.61,6.21 L1.67,3.78 L2.89,1.84Z" fill="#5a14f4"/><ellipse cx="3.80" cy="6.34" rx="2.28" ry="3.17" fill="url(#gBlue)"/><ellipse cx="3.80" cy="12.32" rx="2.28" ry="0.88" fill="#eeeeee"/></svg>
<svg x="496.46" y="101.20" width="7.60" height="17.60" overflow="hidden"><rect x="0.00" y="0.00" width="7.60" height="17.60" fill="url(#gBg)"/><path d="M3.80,1.03 L4.71,1.84 L5.93,3.78 L6.99,6.21 L7.52,8.80 L7.60,11.71 L7.45,14.31 L6.84,16.09 L5.32,16.73 L2.28,16.73 L0.76,16.09 L0.15,14.31 L0.00,11.71 L0.08,8.80 L0.61,6.21 L1.67,3.78 L2.89,1.84Z" fill="#5a14f4"/><ellipse cx="3.80" cy="6.34" rx="2.28" ry="3.17" fill="url(#gBlue)"/><ellipse cx="3.80" cy="12.32" rx="2.28" ry="0.88" fill="#eeeeee"/></svg>
<svg x="504.98" y="101.20" width="7.60" height="17.60" overflow="hidden"><rect x="0.00" y="0.00" width="7.60" height="17.60" fill="url(#gBg)"/><path d="M3.80,1.03 L4.71,1.84 L5.93,3.78 L6.99,6.21 L7.52,8.80 L7.60,11.71 L7.45,14.31 L6.84,16.09 L5.32,16.73 L2.28,16.73 L0.76,16.09 L0.15,14.31 L0.00,11.71 L0.08,8.80 L0.61,6.21 L1.67,3.78 L2.89,1.84Z" fill="#5a14f4"/><ellipse cx="3.80" cy="6.34" rx="2.28" ry="3.17" fill="url(#gBlue)"/><ellipse cx="3.80" cy="12.32" rx="2.28" ry="0.88" fill="#eeeeee"/></svg>
<svg x="290.00" y="126.20" width="7.60" height="17.60" overflow="hidden"><rect x="0.00" y="0.00" width="7.60" height="17.60" fill="#6418f2"/><path d="M3.80,1.20 L4.67,1.99 L5.82,3.89 L6.83,6.27 L7.34,8.80 L7.41,11.65 L7.27,14.19 L6.69,15.93 L5.24,16.56 L2.36,16.56 L0.91,15.93 L0.33,14.19 L0.19,11.65 L0.26,8.80 L0.77,6.27 L1.78,3.89 L2.93,1.99Z" fill="#2a30ff"/><ellipse cx="3.80" cy="4.93" rx="2.89" ry="2.11" fill="url(#gGrn)"/><ellipse cx="3.80" cy="7.39" rx="3.42" ry="2.11" fill="url(#gHot)"/><ellipse cx="0.91" cy="11.62" rx="1.37" ry="1.37" fill="url(#gHot)"/><ellipse cx="6.69" cy="11.62" rx="1.37" ry="1.37" fill="url(#gHot)"/></svg>
<svg x="298.80" y="126.20" width="7.60" height="17.60" overflow="hidden"><rect x="0.00" y="0.00" width="7.60" height="17.60" fill="#6418f2"/><path d="M3.80,1.20 L4.67,1.99 L5.82,3.89 L6.83,6.27 L7.34,8.80 L7.41,11.65 L7.27,14.19 L6.69,15.93 L5.24,16.56 L2.36,16.56 L0.91,15.93 L0.33,14.19 L0.19,11.65 L0.26,8.80 L0.77,6.27 L1.78,3.89 L2.93,1.99Z" fill="#2a30ff"/><ellipse cx="3.80" cy="4.93" rx="2.89" ry="2.11" fill="url(#gGrn)"/><ellipse cx="3.80" cy="7.39" rx="3.42" ry="2.11" fill="url(#gHot)"/><ellipse cx="0.91" cy="11.62" rx="1.37" ry="1.37" fill="url(#gHot)"/><ellipse cx="6.69" cy="11.62" rx="1.37" ry="1.37" fill="url(#gHot)"/></svg>
<svg x="307.60" y="126.20" width="7.60" height="17.60" overflow="hidden"><rect x="0.00" y="0.00" width="7.60" height="17.60" fill="#6418f2"/><path d="M3.80,1.20 L4.67,1.99 L5.82,3.89 L6.83,6.27 L7.34,8.80 L7.41,11.65 L7.27,14.19 L6.69,15.93 L5.24,16.56 L2.36,16.56 L0.91,15.93 L0.33,14.19 L0.19,11.65 L0.26,8.80 L0.77,6.27 L1.78,3.89 L2.93,1.99Z" fill="#2a30ff"/><ellipse cx="3.80" cy="4.93" rx="2.89" ry="2.11" fill="url(#gGrn)"/><ellipse cx="3.80" cy="7.39" rx="3.42" ry="2.11" fill="url(#gHot)"/><ellipse cx="0.91" cy="11.62" rx="1.37" ry="1.37" fill="url(#gHot)"/><ellipse cx="6.69" cy="11.62" rx="1.37" ry="1.37" fill="url(#gHot)"/></svg>
<svg x="316.40" y="126.20" width="7.60" height="17.60" overflow="hidden"><rect x="0.00" y="0.00" width="7.60" height="17.60" fill="#6418f2"/><path d="M3.80,1.20 L4.67,1.99 L5.82,3.89 L6.83,6.27 L7.34,8.80 L7.41,11.65 L7.27,14.19 L6.69,15.93 L5.24,16.56 L2.36,16.56 L0.91,15.93 L0.33,14.19 L0.19,11.65 L0.26,8.80 L0.77,6.27 L1.78,3.89 L2.93,1.99Z" fill="#2a30ff"/><ellipse cx="3.80" cy="4.93" rx="2.89" ry="2.11" fill="url(#gGrn)"/><ellipse cx="3.80" cy="7.39" rx="3.42" ry="2.11" fill="url(#gHot)"/><ellipse cx="0.91" cy="11.62" rx="1.37" ry="1.37" fill="url(#gHot)"/><ellipse cx="6.69" cy="11.62" rx="1.37" ry="1.37" fill="url(#gHot)"/></svg>
<svg x="325.20" y="126.20" width="7.60" height="17.60" overflow="hidden"><rect x="0.00" y="0.00" width="7.60" height="17.60" fill="#6418f2"/><path d="M3.80,1.20 L4.67,1.99 L5.82,3.89 L6.83,6.27 L7.34,8.80 L7.41,11.65 L7.27,14.19 L6.69,15.93 L5.24,16.56 L2.36,16.56 L0.91,15.93 L0.33,14.19 L0.19,11.65 L0.26,8.80 L0.77,6.27 L1.78,3.89 L2.93,1.99Z" fill="#2a30ff"/><ellipse cx="3.80" cy="4.93" rx="2.89" ry="2.11" fill="url(#gGrn)"/><ellipse cx="3.80" cy="7.39" rx="3.42" ry="2.11" fill="url(#gHot)"/><ellipse cx="0.91" cy="11.62" rx="1.37" ry="1.37" fill="url(#gHot)"/><ellipse cx="6.69" cy="11.62" rx="1.37" ry="1.37" fill="url(#gHot)"/></svg>
<svg x="335.70" y="126.20" width="7.60" height="17.60" overflow="hidden"><rect x="0.00" y="0.00" width="7.60" height="17.60" fill="url(#gBg)"/><path d="M3.80,1.03 L4.71,1.84 L5.93,3.78 L6.99,6.21 L7.52,8.80 L7.60,11.71 L7.45,14.31 L6.84,16.09 L5.32,16.73 L2.28,16.73 L0.76,16.09 L0.15,14.31 L0.00,11.71 L0.08,8.80 L0.61,6.21 L1.67,3.78 L2.89,1.84Z" fill="#5a14f4"/><ellipse cx="3.80" cy="7.92" rx="2.74" ry="4.22" fill="url(#gBlue)"/><ellipse cx="3.80" cy="8.27" rx="2.58" ry="1.58" fill="url(#gGrn)"/><ellipse cx="0.53" cy="12.32" rx="0.91" ry="0.91" fill="#30d0e0"/><ellipse cx="7.07" cy="12.32" rx="0.91" ry="0.91" fill="#30d0e0"/></svg>
<svg x="344.40" y="126.20" width="7.60" height="17.60" overflow="hidden"><rect x="0.00" y="0.00" width="7.60" height="17.60" fill="url(#gBg)"/><path d="M3.80,1.03 L4.71,1.84 L5.93,3.78 L6.99,6.21 L7.52,8.80 L7.60,11.71 L7.45,14.31 L6.84,16.09 L5.32,16.73 L2.28,16.73 L0.76,16.09 L0.15,14.31 L0.00,11.71 L0.08,8.80 L0.61,6.21 L1.67,3.78 L2.89,1.84Z" fill="#5a14f4"/><ellipse cx="3.80" cy="7.92" rx="2.74" ry="4.22" fill="url(#gBlue)"/><ellipse cx="3.80" cy="8.27" rx="2.58" ry="1.58" fill="url(#gGrn)"/><ellipse cx="0.53" cy="12.32" rx="0.91" ry="0.91" fill="#30d0e0"/><ellipse cx="7.07" cy="12.32" rx="0.91" ry="0.91" fill="#30d0e0"/></svg>
<svg x="353.10" y="126.20" width="7.60" height="17.60" overflow="hidden"><rect x="0.00" y="0.00" width="7.60" height="17.60" fill="url(#gBg)"/><path d="M3.80,1.03 L4.71,1.84 L5.93,3.78 L6.99,6.21 L7.52,8.80 L7.60,11.71 L7.45,14.31 L6.84,16.09 L5.32,16.73 L2.28,16.73 L0.76,16.09 L0.15,14.31 L0.00,11.71 L0.08,8.80 L0.61,6.21 L1.67,3.78 L2.89,1.84Z" fill="#5a14f4"/><ellipse cx="3.80" cy="7.92" rx="2.74" ry="4.22" fill="url(#gBlue)"/><ellipse cx="3.80" cy="8.27" rx="2.58" ry="1.58" fill="url(#gGrn)"/><ellipse cx="0.53" cy="12.32" rx="0.91" ry="0.91" fill="#30d0e0"/><ellipse cx="7.07" cy="12.32" rx="0.91" ry="0.91" fill="#30d0e0"/></svg>
<svg x="361.80" y="126.20" width="7.60" height="17.60" overflow="hidden"><rect x="0.00" y="0.00" width="7.60" height="17.60" fill="url(#gBg)"/><path d="M3.80,1.03 L4.71,1.84 L5.93,3.78 L6.99,6.21 L7.52,8.80 L7.60,11.71 L7.45,14.31 L6.84,16.09 L5.32,16.73 L2.28,16.73 L0.76,16.09 L0.15,14.31 L0.00,11.71 L0.08,8.80 L0.61,6.21 L1.67,3.78 L2.89,1.84Z" fill="#5a14f4"/><ellipse cx="3.80" cy="7.92" rx="2.74" ry="4.22" fill="url(#gBlue)"/><ellipse cx="3.80" cy="8.27" rx="2.58" ry="1.58" fill="url(#gGrn)"/><ellipse cx="0.53" cy="12.32" rx="0.91" ry="0.91" fill="#30d0e0"/><ellipse cx="7.07" cy="12.32" rx="0.91" ry="0.91" fill="#30d0e0"/></svg>
<svg x="370.50" y="126.20" width="7.60" height="17.60" overflow="hidden"><rect x="0.00" y="0.00" width="7.60" height="17.60" fill="url(#gBg)"/><path d="M3.80,1.03 L4.71,1.84 L5.93,3.78 L6.99,6.21 L7.52,8.80 L7.60,11.71 L7.45,14.31 L6.84,16.09 L5.32,16.73 L2.28,16.73 L0.76,16.09 L0.15,14.31 L0.00,11.71 L0.08,8.80 L0.61,6.21 L1.67,3.78 L2.89,1.84Z" fill="#5a14f4"/><ellipse cx="3.80" cy="7.92" rx="2.74" ry="4.22" fill="url(#gBlue)"/><ellipse cx="3.80" cy="8.27" rx="2.58" ry="1.58" fill="url(#gGrn)"/><ellipse cx="0.53" cy="12.32" rx="0.91" ry="0.91" fill="#30d0e0"/><ellipse cx="7.07" cy="12.32" rx="0.91" ry="0.91" fill="#30d0e0"/></svg>
<svg x="380.90" y="126.20" width="7.60" height="17.60" overflow="hidden"><rect x="0.00" y="0.00" width="7.60" height="17.60" fill="url(#gBg)"/><path d="M3.80,1.03 L4.71,1.84 L5.93,3.78 L6.99,6.21 L7.52,8.80 L7.60,11.71 L7.45,14.31 L6.84,16.09 L5.32,16.73 L2.28,16.73 L0.76,16.09 L0.15,14.31 L0.00,11.71 L0.08,8.80 L0.61,6.21 L1.67,3.78 L2.89,1.84Z" fill="#2a30ff"/><ellipse cx="3.80" cy="5.28" rx="2.89" ry="2.11" fill="url(#gGrn)"/><ellipse cx="3.80" cy="7.92" rx="3.42" ry="2.46" fill="url(#gHot)"/><ellipse cx="0.76" cy="12.32" rx="1.06" ry="1.06" fill="url(#gGrn)"/><ellipse cx="6.84" cy="12.32" rx="1.06" ry="1.06" fill="url(#gGrn)"/></svg>
<svg x="389.50" y="126.20" width="7.60" height="17.60" overflow="hidden"><rect x="0.00" y="0.00" width="7.60" height="17.60" fill="url(#gBg)"/><path d="M3.80,1.03 L4.71,1.84 L5.93,3.78 L6.99,6.21 L7.52,8.80 L7.60,11.71 L7.45,14.31 L6.84,16.09 L5.32,16.73 L2.28,16.73 L0.76,16.09 L0.15,14.31 L0.00,11.71 L0.08,8.80 L0.61,6.21 L1.67,3.78 L2.89,1.84Z" fill="#5a14f4"/><ellipse cx="3.80" cy="7.92" rx="2.74" ry="4.22" fill="url(#gBlue)"/><ellipse cx="3.80" cy="8.27" rx="2.58" ry="1.58" fill="url(#gGrn)"/><ellipse cx="0.53" cy="12.32" rx="0.91" ry="0.91" fill="#30d0e0"/><ellipse cx="7.07" cy="12.32" rx="0.91" ry="0.91" fill="#30d0e0"/></svg>
<svg x="398.10" y="126.20" width="7.60" height="17.60" overflow="hidden"><rect x="0.00" y="0.00" width="7.60" height="17.60" fill="url(#gBg)"/><path d="M3.80,1.03 L4.71,1.84 L5.93,3.78 L6.99,6.21 L7.52,8.80 L7.60,11.71 L7.45,14.31 L6.84,16.09 L5.32,16.73 L2.28,16.73 L0.76,16.09 L0.15,14.31 L0.00,11.71 L0.08,8.80 L0.61,6.21 L1.67,3.78 L2.89,1.84Z" fill="#5a14f4"/><ellipse cx="3.80" cy="7.92" rx="2.74" ry="4.22" fill="url(#gBlue)"/><ellipse cx="3.80" cy="8.27" rx="2.58" ry="1.58" fill="url(#gGrn)"/><ellipse cx="0.53" cy="12.32" rx="0.91" ry="0.91" fill="#30d0e0"/><ellipse cx="7.07" cy="12.32" rx="0.91" ry="0.91" fill="#30d0e0"/></svg>
<svg x="406.70" y="126.20" width="7.60" height="17.60" overflow="hidden"><rect x="0.00" y="0.00" width="7.60" height="17.60" fill="url(#gBg)"/><path d="M3.80,1.03 L4.71,1.84 L5.93,3.78 L6.99,6.21 L7.52,8.80 L7.60,11.71 L7.45,14.31 L6.84,16.09 L5.32,16.73 L2.28,16.73 L0.76,16.09 L0.15,14.31 L0.00,11.71 L0.08,8.80 L0.61,6.21 L1.67,3.78 L2.89,1.84Z" fill="#2a30ff"/><ellipse cx="3.80" cy="5.28" rx="2.89" ry="2.11" fill="url(#gGrn)"/><ellipse cx="3.80" cy="7.92" rx="3.42" ry="2.46" fill="url(#gHot)"/><ellipse cx="0.76" cy="12.32" rx="1.06" ry="1.06" fill="url(#gGrn)"/><ellipse cx="6.84" cy="12.32" rx="1.06" ry="1.06" fill="url(#gGrn)"/></svg>
<svg x="415.30" y="126.20" width="7.60" height="17.60" overflow="hidden"><rect x="0.00" y="0.00" width="7.60" height="17.60" fill="url(#gBg)"/><path d="M3.80,1.03 L4.71,1.84 L5.93,3.78 L6.99,6.21 L7.52,8.80 L7.60,11.71 L7.45,14.31 L6.84,16.09 L5.32,16.73 L2.28,16.73 L0.76,16.09 L0.15,14.31 L0.00,11.71 L0.08,8.80 L0.61,6.21 L1.67,3.78 L2.89,1.84Z" fill="#5a14f4"/><ellipse cx="3.80" cy="7.92" rx="2.74" ry="4.22" fill="url(#gBlue)"/><ellipse cx="3.80" cy="8.27" rx="2.58" ry="1.58" fill="url(#gGrn)"/><ellipse cx="0.53" cy="12.32" rx="0.91" ry="0.91" fill="#30d0e0"/><ellipse cx="7.07" cy="12.32" rx="0.91" ry="0.91" fill="#30d0e0"/></svg>
<svg x="425.70" y="126.20" width="7.60" height="17.60" overflow="hidden"><rect x="0.00" y="0.00" width="7.60" height="17.60" fill="url(#gBg)"/><path d="M3.80,1.03 L4.71,1.84 L5.93,3.78 L6.99,6.21 L7.52,8.80 L7.60,11.71 L7.45,14.31 L6.84,16.09 L5.32,16.73 L2.28,16.73 L0.76,16.09 L0.15,14.31 L0.00,11.71 L0.08,8.80 L0.61,6.21 L1.67,3.78 L2.89,1.84Z" fill="#5a14f4"/><ellipse cx="3.80" cy="7.92" rx="2.74" ry="4.22" fill="url(#gBlue)"/><ellipse cx="3.80" cy="8.27" rx="2.58" ry="1.58" fill="url(#gGrn)"/><ellipse cx="0.53" cy="12.32" rx="0.91" ry="0.91" fill="#30d0e0"/><ellipse cx="7.07" cy="12.32" rx="0.91" ry="0.91" fill="#30d0e0"/></svg>
<svg x="434.38" y="126.20" width="7.60" height="17.60" overflow="hidden"><rect x="0.00" y="0.00" width="7.60" height="17.60" fill="url(#gBg)"/><path d="M3.80,1.03 L4.71,1.84 L5.93,3.78 L6.99,6.21 L7.52,8.80 L7.60,11.71 L7.45,14.31 L6.84,16.09 L5.32,16.73 L2.28,16.73 L0.76,16.09 L0.15,14.31 L0.00,11.71 L0.08,8.80 L0.61,6.21 L1.67,3.78 L2.89,1.84Z" fill="#5a14f4"/><ellipse cx="3.80" cy="7.92" rx="2.74" ry="4.22" fill="url(#gBlue)"/><ellipse cx="3.80" cy="8.27" rx="2.58" ry="1.58" fill="url(#gGrn)"/><ellipse cx="0.53" cy="12.32" rx="0.91" ry="0.91" fill="#30d0e0"/><ellipse cx="7.07" cy="12.32" rx="0.91" ry="0.91" fill="#30d0e0"/></svg>
<svg x="443.06" y="126.20" width="7.60" height="17.60" overflow="hidden"><rect x="0.00" y="0.00" width="7.60" height="17.60" fill="url(#gBg)"/><path d="M3.80,1.03 L4.71,1.84 L5.93,3.78 L6.99,6.21 L7.52,8.80 L7.60,11.71 L7.45,14.31 L6.84,16.09 L5.32,16.73 L2.28,16.73 L0.76,16.09 L0.15,14.31 L0.00,11.71 L0.08,8.80 L0.61,6.21 L1.67,3.78 L2.89,1.84Z" fill="#5a14f4"/><ellipse cx="3.80" cy="7.92" rx="2.74" ry="4.22" fill="url(#gBlue)"/><ellipse cx="3.80" cy="8.27" rx="2.58" ry="1.58" fill="url(#gGrn)"/><ellipse cx="0.53" cy="12.32" rx="0.91" ry="0.91" fill="#30d0e0"/><ellipse cx="7.07" cy="12.32" rx="0.91" ry="0.91" fill="#30d0e0"/></svg>
<svg x="451.74" y="126.20" width="7.60" height="17.60" overflow="hidden"><rect x="0.00" y="0.00" width="7.60" height="17.60" fill="url(#gBg)"/><path d="M3.80,1.03 L4.71,1.84 L5.93,3.78 L6.99,6.21 L7.52,8.80 L7.60,11.71 L7.45,14.31 L6.84,16.09 L5.32,16.73 L2.28,16.73 L0.76,16.09 L0.15,14.31 L0.00,11.71 L0.08,8.80 L0.61,6.21 L1.67,3.78 L2.89,1.84Z" fill="#5a14f4"/><ellipse cx="3.80" cy="7.92" rx="2.74" ry="4.22" fill="url(#gBlue)"/><ellipse cx="3.80" cy="8.27" rx="2.58" ry="1.58" fill="url(#gGrn)"/><ellipse cx="0.53" cy="12.32" rx="0.91" ry="0.91" fill="#30d0e0"/><ellipse cx="7.07" cy="12.32" rx="0.91" ry="0.91" fill="#30d0e0"/></svg>
<svg x="460.42" y="126.20" width="7.60" height="17.60" overflow="hidden"><rect x="0.00" y="0.00" width="7.60" height="17.60" fill="url(#gBg)"/><path d="M3.80,1.03 L4.71,1.84 L5.93,3.78 L6.99,6.21 L7.52,8.80 L7.60,11.71 L7.45,14.31 L6.84,16.09 L5.32,16.73 L2.28,16.73 L0.76,16.09 L0.15,14.31 L0.00,11.71 L0.08,8.80 L0.61,6.21 L1.67,3.78 L2.89,1.84Z" fill="#5a14f4"/><ellipse cx="3.80" cy="7.92" rx="2.74" ry="4.22" fill="url(#gBlue)"/><ellipse cx="3.80" cy="8.27" rx="2.58" ry="1.58" fill="url(#gGrn)"/><ellipse cx="0.53" cy="12.32" rx="0.91" ry="0.91" fill="#30d0e0"/><ellipse cx="7.07" cy="12.32" rx="0.91" ry="0.91" fill="#30d0e0"/></svg>
<svg x="470.90" y="126.20" width="7.60" height="17.60" overflow="hidden"><rect x="0.00" y="0.00" width="7.60" height="17.60" fill="url(#gBg)"/><path d="M3.80,1.03 L4.71,1.84 L5.93,3.78 L6.99,6.21 L7.52,8.80 L7.60,11.71 L7.45,14.31 L6.84,16.09 L5.32,16.73 L2.28,16.73 L0.76,16.09 L0.15,14.31 L0.00,11.71 L0.08,8.80 L0.61,6.21 L1.67,3.78 L2.89,1.84Z" fill="#5a14f4"/><ellipse cx="3.80" cy="8.80" rx="2.43" ry="4.40" fill="url(#gBlue)"/></svg>
<svg x="479.42" y="126.20" width="7.60" height="17.60" overflow="hidden"><rect x="0.00" y="0.00" width="7.60" height="17.60" fill="url(#gBg)"/><path d="M3.80,1.03 L4.71,1.84 L5.93,3.78 L6.99,6.21 L7.52,8.80 L7.60,11.71 L7.45,14.31 L6.84,16.09 L5.32,16.73 L2.28,16.73 L0.76,16.09 L0.15,14.31 L0.00,11.71 L0.08,8.80 L0.61,6.21 L1.67,3.78 L2.89,1.84Z" fill="#5a14f4"/><ellipse cx="3.80" cy="8.80" rx="2.43" ry="4.40" fill="url(#gBlue)"/></svg>
<svg x="487.94" y="126.20" width="7.60" height="17.60" overflow="hidden"><rect x="0.00" y="0.00" width="7.60" height="17.60" fill="url(#gBg)"/><path d="M3.80,1.03 L4.71,1.84 L5.93,3.78 L6.99,6.21 L7.52,8.80 L7.60,11.71 L7.45,14.31 L6.84,16.09 L5.32,16.73 L2.28,16.73 L0.76,16.09 L0.15,14.31 L0.00,11.71 L0.08,8.80 L0.61,6.21 L1.67,3.78 L2.89,1.84Z" fill="#5a14f4"/><ellipse cx="3.80" cy="8.80" rx="2.43" ry="4.40" fill="url(#gBlue)"/></svg>
<svg x="496.46" y="126.20" width="7.60" height="17.60" overflow="hidden"><rect x="0.00" y="0.00" width="7.60" height="17.60" fill="url(#gBg)"/><path d="M3.80,1.03 L4.71,1.84 L5.93,3.78 L6.99,6.21 L7.52,8.80 L7.60,11.71 L7.45,14.31 L6.84,16.09 L5.32,16.73 L2.28,16.73 L0.76,16.09 L0.15,14.31 L0.00,11.71 L0.08,8.80 L0.61,6.21 L1.67,3.78 L2.89,1.84Z" fill="#5a14f4"/><ellipse cx="3.80" cy="8.80" rx="2.43" ry="4.40" fill="url(#gBlue)"/></svg>
<svg x="504.98" y="126.20" width="7.60" height="17.60" overflow="hidden"><rect x="0.00" y="0.00" width="7.60" height="17.60" fill="url(#gBg)"/><path d="M3.80,1.03 L4.71,1.84 L5.93,3.78 L6.99,6.21 L7.52,8.80 L7.60,11.71 L7.45,14.31 L6.84,16.09 L5.32,16.73 L2.28,16.73 L0.76,16.09 L0.15,14.31 L0.00,11.71 L0.08,8.80 L0.61,6.21 L1.67,3.78 L2.89,1.84Z" fill="#5a14f4"/><ellipse cx="3.80" cy="8.80" rx="2.43" ry="4.40" fill="url(#gBlue)"/></svg>
<text x="7.3" y="17.7" font-size="12.4" fill="#000" font-weight="bold">A</text>
<text x="142" y="14.4" font-size="8.2" fill="#111" text-anchor="middle" textLength="26.5" lengthAdjust="spacingAndGlyphs" stroke="#111" stroke-width="0.12">AML45</text>
<text x="58" y="32.5" font-size="8.6" fill="#6b7084" text-anchor="middle" textLength="25.6" lengthAdjust="spacingAndGlyphs" stroke="#6b7084" stroke-width="0.12">Vehicle</text>
<text x="99.6" y="25.8" font-size="8.9" fill="#57a634" text-anchor="middle" textLength="35.6" lengthAdjust="spacingAndGlyphs" stroke="#57a634" stroke-width="0.12">ART838+</text>
<text x="99.6" y="36.3" font-size="8.9" fill="#57a634" text-anchor="middle" textLength="16.6" lengthAdjust="spacingAndGlyphs" stroke="#57a634" stroke-width="0.12">VEN</text>
<text x="141.7" y="26.6" font-size="8.9" fill="#b0173f" text-anchor="middle" textLength="35.8" lengthAdjust="spacingAndGlyphs" stroke="#b0173f" stroke-width="0.12">ART838+</text>
<text x="142" y="37.0" font-size="8.9" fill="#b0173f" text-anchor="middle" textLength="18" lengthAdjust="spacingAndGlyphs" stroke="#b0173f" stroke-width="0.12">SOR</text>
<text x="183.5" y="26.6" font-size="8.9" fill="#e49a2c" text-anchor="middle" textLength="21.3" lengthAdjust="spacingAndGlyphs" stroke="#e49a2c" stroke-width="0.12">VEN+</text>
<text x="183.5" y="37.0" font-size="8.9" fill="#e49a2c" text-anchor="middle" textLength="18.5" lengthAdjust="spacingAndGlyphs" stroke="#e49a2c" stroke-width="0.12">SOR</text>
<text x="225.4" y="32.3" font-size="8.9" fill="#5a2b80" text-anchor="middle" textLength="16.2" lengthAdjust="spacingAndGlyphs" stroke="#5a2b80" stroke-width="0.12">SAV</text>
<text x="33.1" y="52.9" font-size="8.7" fill="#1a1a1a" text-anchor="end" textLength="20.2" lengthAdjust="spacingAndGlyphs" stroke="#1a1a1a" stroke-width="0.12">Day 0</text>
<text x="33.1" y="73.0" font-size="8.7" fill="#1a1a1a" text-anchor="end" textLength="20.2" lengthAdjust="spacingAndGlyphs" stroke="#1a1a1a" stroke-width="0.12">Day 7</text>
<text x="33.1" y="92.6" font-size="8.7" fill="#1a1a1a" text-anchor="end" textLength="25.3" lengthAdjust="spacingAndGlyphs" stroke="#1a1a1a" stroke-width="0.12">Day 14</text>
<text x="33.1" y="111.9" font-size="8.7" fill="#1a1a1a" text-anchor="end" textLength="25.4" lengthAdjust="spacingAndGlyphs" stroke="#1a1a1a" stroke-width="0.12">Day 21</text>
<text x="33.1" y="137.8" font-size="8.3" fill="#000" text-anchor="end" font-weight="bold" textLength="26.6" lengthAdjust="spacingAndGlyphs">Day 56</text>
<text x="261.2" y="17.6" font-size="12.4" fill="#000" font-weight="bold">D</text>
<text x="402.4" y="14.4" font-size="8.2" fill="#111" text-anchor="middle" textLength="37.2" lengthAdjust="spacingAndGlyphs" stroke="#111" stroke-width="0.12">AML1526</text>
<text x="313.1" y="37.4" font-size="8.6" fill="#6b7084" text-anchor="middle" textLength="25.2" lengthAdjust="spacingAndGlyphs" stroke="#6b7084" stroke-width="0.12">Vehicle</text>
<text x="357.0" y="26.7" font-size="8.9" fill="#57a634" text-anchor="middle" textLength="35.6" lengthAdjust="spacingAndGlyphs" stroke="#57a634" stroke-width="0.12">ART838+</text>
<text x="357.0" y="37.2" font-size="8.9" fill="#57a634" text-anchor="middle" textLength="16.6" lengthAdjust="spacingAndGlyphs" stroke="#57a634" stroke-width="0.12">VEN</text>
<text x="402.4" y="26.7" font-size="8.9" fill="#b0173f" text-anchor="middle" textLength="36.1" lengthAdjust="spacingAndGlyphs" stroke="#b0173f" stroke-width="0.12">ART838+</text>
<text x="402.4" y="37.2" font-size="8.9" fill="#b0173f" text-anchor="middle" textLength="18.6" lengthAdjust="spacingAndGlyphs" stroke="#b0173f" stroke-width="0.12">SOR</text>
<text x="446.9" y="26.7" font-size="8.9" fill="#e49a2c" text-anchor="middle" textLength="22.2" lengthAdjust="spacingAndGlyphs" stroke="#e49a2c" stroke-width="0.12">VEN+</text>
<text x="447.1" y="37.2" font-size="8.9" fill="#e49a2c" text-anchor="middle" textLength="18.7" lengthAdjust="spacingAndGlyphs" stroke="#e49a2c" stroke-width="0.12">SOR</text>
<text x="491.9" y="37.3" font-size="8.9" fill="#5a2b80" text-anchor="middle" textLength="15.8" lengthAdjust="spacingAndGlyphs" stroke="#5a2b80" stroke-width="0.12">SAV</text>
<text x="286.5" y="53.4" font-size="8.7" fill="#1a1a1a" text-anchor="end" textLength="20.6" lengthAdjust="spacingAndGlyphs" stroke="#1a1a1a" stroke-width="0.12">Day 0</text>
<text x="286.5" y="73.0" font-size="8.7" fill="#1a1a1a" text-anchor="end" textLength="20.6" lengthAdjust="spacingAndGlyphs" stroke="#1a1a1a" stroke-width="0.12">Day 7</text>
<text x="286.5" y="92.3" font-size="8.7" fill="#1a1a1a" text-anchor="end" textLength="25.4" lengthAdjust="spacingAndGlyphs" stroke="#1a1a1a" stroke-width="0.12">Day 14</text>
<text x="286.5" y="111.9" font-size="8.7" fill="#1a1a1a" text-anchor="end" textLength="25.5" lengthAdjust="spacingAndGlyphs" stroke="#1a1a1a" stroke-width="0.12">Day 21</text>
<text x="286.5" y="138.0" font-size="8.3" fill="#000" text-anchor="end" font-weight="bold" textLength="26.5" lengthAdjust="spacingAndGlyphs">Day 28</text>
<rect x="20.50" y="116.20" width="1.2" height="1.3" fill="#222"/>
<rect x="20.50" y="119.40" width="1.2" height="1.3" fill="#222"/>
<rect x="20.50" y="122.60" width="1.2" height="1.3" fill="#222"/>
<path d="M18.70,125.20 L21.10,126.80 L23.50,125.20 L21.10,130.40 Z" fill="#111"/>
<rect x="276.30" y="116.20" width="1.2" height="1.3" fill="#222"/>
<rect x="276.30" y="119.40" width="1.2" height="1.3" fill="#222"/>
<rect x="276.30" y="122.60" width="1.2" height="1.3" fill="#222"/>
<path d="M274.50,125.00 L276.90,126.60 L279.30,125.00 L276.90,130.20 Z" fill="#111"/>
<text x="7.6" y="165.0" font-size="12.4" fill="#000" font-weight="bold">B</text>
<line x1="53.1" y1="171.5" x2="53.1" y2="283.3" stroke="#222" stroke-width="1.1"/>
<line x1="50.5" y1="173.90" x2="53.1" y2="173.90" stroke="#222" stroke-width="0.9"/>
<line x1="51.7" y1="212.06" x2="53.1" y2="212.06" stroke="#222" stroke-width="0.7"/>
<line x1="51.7" y1="202.45" x2="53.1" y2="202.45" stroke="#222" stroke-width="0.7"/>
<line x1="51.7" y1="195.63" x2="53.1" y2="195.63" stroke="#222" stroke-width="0.7"/>
<line x1="51.7" y1="190.34" x2="53.1" y2="190.34" stroke="#222" stroke-width="0.7"/>
<line x1="51.7" y1="186.01" x2="53.1" y2="186.01" stroke="#222" stroke-width="0.7"/>
<line x1="51.7" y1="182.36" x2="53.1" y2="182.36" stroke="#222" stroke-width="0.7"/>
<line x1="51.7" y1="179.19" x2="53.1" y2="179.19" stroke="#222" stroke-width="0.7"/>
<line x1="51.7" y1="176.40" x2="53.1" y2="176.40" stroke="#222" stroke-width="0.7"/>
<line x1="50.5" y1="228.50" x2="53.1" y2="228.50" stroke="#222" stroke-width="0.9"/>
<line x1="51.7" y1="266.66" x2="53.1" y2="266.66" stroke="#222" stroke-width="0.7"/>
<line x1="51.7" y1="257.05" x2="53.1" y2="257.05" stroke="#222" stroke-width="0.7"/>
<line x1="51.7" y1="250.23" x2="53.1" y2="250.23" stroke="#222" stroke-width="0.7"/>
<line x1="51.7" y1="244.94" x2="53.1" y2="244.94" stroke="#222" stroke-width="0.7"/>
<line x1="51.7" y1="240.61" x2="53.1" y2="240.61" stroke="#222" stroke-width="0.7"/>
<line x1="51.7" y1="236.96" x2="53.1" y2="236.96" stroke="#222" stroke-width="0.7"/>
<line x1="51.7" y1="233.79" x2="53.1" y2="233.79" stroke="#222" stroke-width="0.7"/>
<line x1="51.7" y1="231.00" x2="53.1" y2="231.00" stroke="#222" stroke-width="0.7"/>
<line x1="50.5" y1="283.10" x2="53.1" y2="283.10" stroke="#222" stroke-width="0.9"/>
<line x1="53.1" y1="228.6" x2="220" y2="228.6" stroke="#222" stroke-width="1.1"/>
<line x1="53.1" y1="283.0" x2="220" y2="283.0" stroke="#222" stroke-width="1.1"/>
<text x="42.0" y="176.8" font-size="7.9" fill="#222" text-anchor="end" textLength="7.9" lengthAdjust="spacingAndGlyphs" stroke="#222" stroke-width="0.12">10</text>
<text x="43.0" y="173.20000000000002" font-size="4.9" fill="#222" stroke="#222" stroke-width="0.12">1</text>
<text x="42.0" y="231.5" font-size="7.9" fill="#222" text-anchor="end" textLength="7.9" lengthAdjust="spacingAndGlyphs" stroke="#222" stroke-width="0.12">10</text>
<text x="43.0" y="227.9" font-size="4.9" fill="#222" stroke="#222" stroke-width="0.12">0</text>
<text x="42.0" y="285.9" font-size="7.9" fill="#222" text-anchor="end" textLength="7.9" lengthAdjust="spacingAndGlyphs" stroke="#222" stroke-width="0.12">10</text>
<text x="43.0" y="282.3" font-size="4.9" fill="#222" stroke="#222" stroke-width="0.12">-1</text>
<text x="136.4" y="187.7" font-size="7.6" fill="#222" text-anchor="middle" textLength="20.4" lengthAdjust="spacingAndGlyphs" stroke="#222" stroke-width="0.12">d7/d0</text>
<text transform="translate(15.6,227.3) rotate(-90)" font-size="8.8" text-anchor="middle" fill="#222" stroke="#222" stroke-width="0.32" textLength="57" lengthAdjust="spacingAndGlyphs">Fold change d7/d0</text>
<text transform="translate(26.9,226.6) rotate(-90)" font-size="8.8" text-anchor="middle" fill="#222" stroke="#222" stroke-width="0.32" textLength="55" lengthAdjust="spacingAndGlyphs">(bioluminescence)</text>
<rect x="56.10" y="173.80" width="3.0" height="54.80" fill="#474d61"/>
<rect x="62.65" y="175.20" width="3.0" height="53.40" fill="#474d61"/>
<rect x="69.21" y="181.20" width="3.0" height="47.40" fill="#474d61"/>
<rect x="75.76" y="192.20" width="3.0" height="36.40" fill="#474d61"/>
<rect x="82.31" y="193.80" width="3.0" height="34.80" fill="#a30d2e"/>
<rect x="88.87" y="194.90" width="3.0" height="33.70" fill="#a30d2e"/>
<rect x="95.42" y="202.70" width="3.0" height="25.90" fill="#a30d2e"/>
<rect x="101.97" y="204.00" width="3.0" height="24.60" fill="#a30d2e"/>
<rect x="108.52" y="204.40" width="3.0" height="24.20" fill="#a30d2e"/>
<rect x="115.08" y="207.00" width="3.0" height="21.60" fill="#474d61"/>
<rect x="121.63" y="211.20" width="3.0" height="17.40" fill="#e8900f"/>
<rect x="128.18" y="212.00" width="3.0" height="16.60" fill="#5ea332"/>
<rect x="134.74" y="212.00" width="3.0" height="16.60" fill="#5ea332"/>
<rect x="141.29" y="212.70" width="3.0" height="15.90" fill="#e8900f"/>
<rect x="147.84" y="212.90" width="3.0" height="15.70" fill="#e8900f"/>
<rect x="154.40" y="216.50" width="3.0" height="12.10" fill="#5ea332"/>
<rect x="160.95" y="220.00" width="3.0" height="8.60" fill="#e8900f"/>
<rect x="167.50" y="221.10" width="3.0" height="7.50" fill="#e8900f"/>
<rect x="174.05" y="222.20" width="3.0" height="6.40" fill="#5ea332"/>
<rect x="180.61" y="228.60" width="3.0" height="6.50" fill="#4b1762"/>
<rect x="187.16" y="228.60" width="3.0" height="6.50" fill="#5ea332"/>
<rect x="193.71" y="228.60" width="3.0" height="7.10" fill="#4b1762"/>
<rect x="200.27" y="228.60" width="3.0" height="27.10" fill="#4b1762"/>
<rect x="206.82" y="228.60" width="3.0" height="32.00" fill="#4b1762"/>
<rect x="213.37" y="228.60" width="3.0" height="49.40" fill="#4b1762"/>
<line x1="53.1" y1="228.6" x2="220" y2="228.6" stroke="#222" stroke-width="1.1"/>
<text x="261.0" y="164.4" font-size="12.4" fill="#000" font-weight="bold">E</text>
<line x1="306.3" y1="169.8" x2="306.3" y2="283.3" stroke="#222" stroke-width="1.1"/>
<line x1="303.7" y1="172.60" x2="306.3" y2="172.60" stroke="#222" stroke-width="0.9"/>
<line x1="304.90000000000003" y1="198.32" x2="306.3" y2="198.32" stroke="#222" stroke-width="0.7"/>
<line x1="304.90000000000003" y1="191.84" x2="306.3" y2="191.84" stroke="#222" stroke-width="0.7"/>
<line x1="304.90000000000003" y1="187.24" x2="306.3" y2="187.24" stroke="#222" stroke-width="0.7"/>
<line x1="304.90000000000003" y1="183.68" x2="306.3" y2="183.68" stroke="#222" stroke-width="0.7"/>
<line x1="304.90000000000003" y1="180.76" x2="306.3" y2="180.76" stroke="#222" stroke-width="0.7"/>
<line x1="304.90000000000003" y1="178.30" x2="306.3" y2="178.30" stroke="#222" stroke-width="0.7"/>
<line x1="304.90000000000003" y1="176.17" x2="306.3" y2="176.17" stroke="#222" stroke-width="0.7"/>
<line x1="304.90000000000003" y1="174.28" x2="306.3" y2="174.28" stroke="#222" stroke-width="0.7"/>
<line x1="303.7" y1="209.40" x2="306.3" y2="209.40" stroke="#222" stroke-width="0.9"/>
<line x1="304.90000000000003" y1="235.12" x2="306.3" y2="235.12" stroke="#222" stroke-width="0.7"/>
<line x1="304.90000000000003" y1="228.64" x2="306.3" y2="228.64" stroke="#222" stroke-width="0.7"/>
<line x1="304.90000000000003" y1="224.04" x2="306.3" y2="224.04" stroke="#222" stroke-width="0.7"/>
<line x1="304.90000000000003" y1="220.48" x2="306.3" y2="220.48" stroke="#222" stroke-width="0.7"/>
<line x1="304.90000000000003" y1="217.56" x2="306.3" y2="217.56" stroke="#222" stroke-width="0.7"/>
<line x1="304.90000000000003" y1="215.10" x2="306.3" y2="215.10" stroke="#222" stroke-width="0.7"/>
<line x1="304.90000000000003" y1="212.97" x2="306.3" y2="212.97" stroke="#222" stroke-width="0.7"/>
<line x1="304.90000000000003" y1="211.08" x2="306.3" y2="211.08" stroke="#222" stroke-width="0.7"/>
<line x1="303.7" y1="246.20" x2="306.3" y2="246.20" stroke="#222" stroke-width="0.9"/>
<line x1="304.90000000000003" y1="271.92" x2="306.3" y2="271.92" stroke="#222" stroke-width="0.7"/>
<line x1="304.90000000000003" y1="265.44" x2="306.3" y2="265.44" stroke="#222" stroke-width="0.7"/>
<line x1="304.90000000000003" y1="260.84" x2="306.3" y2="260.84" stroke="#222" stroke-width="0.7"/>
<line x1="304.90000000000003" y1="257.28" x2="306.3" y2="257.28" stroke="#222" stroke-width="0.7"/>
<line x1="304.90000000000003" y1="254.36" x2="306.3" y2="254.36" stroke="#222" stroke-width="0.7"/>
<line x1="304.90000000000003" y1="251.90" x2="306.3" y2="251.90" stroke="#222" stroke-width="0.7"/>
<line x1="304.90000000000003" y1="249.77" x2="306.3" y2="249.77" stroke="#222" stroke-width="0.7"/>
<line x1="304.90000000000003" y1="247.88" x2="306.3" y2="247.88" stroke="#222" stroke-width="0.7"/>
<line x1="303.7" y1="283.00" x2="306.3" y2="283.00" stroke="#222" stroke-width="0.9"/>
<line x1="306.3" y1="283.0" x2="473" y2="283.0" stroke="#222" stroke-width="1.1"/>
<text x="295.0" y="175.5" font-size="7.9" fill="#222" text-anchor="end" textLength="7.9" lengthAdjust="spacingAndGlyphs" stroke="#222" stroke-width="0.12">10</text>
<text x="296.0" y="171.9" font-size="4.9" fill="#222" stroke="#222" stroke-width="0.12">2</text>
<text x="295.0" y="212.3" font-size="7.9" fill="#222" text-anchor="end" textLength="7.9" lengthAdjust="spacingAndGlyphs" stroke="#222" stroke-width="0.12">10</text>
<text x="296.0" y="208.70000000000002" font-size="4.9" fill="#222" stroke="#222" stroke-width="0.12">1</text>
<text x="295.0" y="249.1" font-size="7.9" fill="#222" text-anchor="end" textLength="7.9" lengthAdjust="spacingAndGlyphs" stroke="#222" stroke-width="0.12">10</text>
<text x="296.0" y="245.5" font-size="4.9" fill="#222" stroke="#222" stroke-width="0.12">0</text>
<text x="295.0" y="285.9" font-size="7.9" fill="#222" text-anchor="end" textLength="7.9" lengthAdjust="spacingAndGlyphs" stroke="#222" stroke-width="0.12">10</text>
<text x="296.0" y="282.3" font-size="4.9" fill="#222" stroke="#222" stroke-width="0.12">-1</text>
<text x="389.2" y="186.5" font-size="7.6" fill="#222" text-anchor="middle" textLength="20.0" lengthAdjust="spacingAndGlyphs" stroke="#222" stroke-width="0.12">d7/d0</text>
<text transform="translate(269.2,226.4) rotate(-90)" font-size="8.8" text-anchor="middle" fill="#222" stroke="#222" stroke-width="0.32" textLength="57" lengthAdjust="spacingAndGlyphs">Fold change d7/d0</text>
<text transform="translate(280.6,226.2) rotate(-90)" font-size="8.8" text-anchor="middle" fill="#222" stroke="#222" stroke-width="0.32" textLength="55" lengthAdjust="spacingAndGlyphs">(bioluminescence)</text>
<rect x="308.90" y="203.90" width="3.1" height="42.40" fill="#474d61"/>
<rect x="315.45" y="210.00" width="3.1" height="36.30" fill="#474d61"/>
<rect x="322.01" y="214.50" width="3.1" height="31.80" fill="#474d61"/>
<rect x="328.56" y="217.20" width="3.1" height="29.10" fill="#474d61"/>
<rect x="335.12" y="217.40" width="3.1" height="28.90" fill="#474d61"/>
<rect x="341.67" y="221.00" width="3.1" height="25.30" fill="#a30d2e"/>
<rect x="348.22" y="224.00" width="3.1" height="22.30" fill="#a30d2e"/>
<rect x="354.78" y="226.30" width="3.1" height="20.00" fill="#a30d2e"/>
<rect x="361.33" y="227.20" width="3.1" height="19.10" fill="#e8900f"/>
<rect x="367.89" y="228.40" width="3.1" height="17.90" fill="#5ea332"/>
<rect x="374.44" y="229.50" width="3.1" height="16.80" fill="#a30d2e"/>
<rect x="380.99" y="229.90" width="3.1" height="16.40" fill="#5ea332"/>
<rect x="387.55" y="230.30" width="3.1" height="16.00" fill="#a30d2e"/>
<rect x="394.10" y="233.90" width="3.1" height="12.40" fill="#5ea332"/>
<rect x="400.66" y="234.80" width="3.1" height="11.50" fill="#e8900f"/>
<rect x="407.21" y="235.20" width="3.1" height="11.10" fill="#e8900f"/>
<rect x="413.76" y="236.90" width="3.1" height="9.40" fill="#e8900f"/>
<rect x="420.32" y="239.40" width="3.1" height="6.90" fill="#5ea332"/>
<rect x="426.87" y="241.10" width="3.1" height="5.20" fill="#4b1762"/>
<rect x="433.43" y="245.00" width="3.1" height="1.30" fill="#e8900f"/>
<rect x="439.98" y="245.40" width="3.1" height="1.30" fill="#4b1762"/>
<rect x="446.53" y="246.30" width="3.1" height="1.30" fill="#4b1762"/>
<rect x="453.09" y="246.30" width="3.1" height="1.70" fill="#5ea332"/>
<rect x="459.64" y="246.30" width="3.1" height="7.30" fill="#4b1762"/>
<rect x="466.20" y="246.30" width="3.1" height="10.50" fill="#4b1762"/>
<line x1="306.3" y1="246.3" x2="473" y2="246.3" stroke="#222" stroke-width="1.1"/>
<text x="7.4" y="311.3" font-size="12.4" fill="#000" font-weight="bold">C</text>
<line x1="53.0" y1="318.7" x2="53.0" y2="407.6" stroke="#333" stroke-width="1.4"/>
<line x1="50.0" y1="320.20" x2="53.0" y2="320.20" stroke="#333" stroke-width="1.1"/>
<text x="46.7" y="323.09999999999997" font-size="8.3" fill="#222" text-anchor="end" stroke="#222" stroke-width="0.12">100</text>
<line x1="50.0" y1="363.60" x2="53.0" y2="363.60" stroke="#333" stroke-width="1.1"/>
<text x="46.7" y="366.5" font-size="8.3" fill="#222" text-anchor="end" stroke="#222" stroke-width="0.12">50</text>
<line x1="50.0" y1="407.00" x2="53.0" y2="407.00" stroke="#333" stroke-width="1.1"/>
<text x="46.7" y="409.9" font-size="8.3" fill="#222" text-anchor="end" stroke="#222" stroke-width="0.12">0</text>
<path d="M142.40,320.20 L157.40,320.20 L157.40,354.92 L172.70,354.92 L172.70,389.64 L174.40,389.64 L174.40,407.00" fill="none" stroke="#4b1762" stroke-width="1.3" stroke-linejoin="miter"/>
<path d="M53.00,320.20 L111.00,320.20 L111.00,337.56 L116.40,337.56 L116.40,354.92 L117.90,354.92 L117.90,389.64 L119.60,389.64 L119.60,407.00" fill="none" stroke="#a30d2e" stroke-width="1.3" stroke-linejoin="miter"/>
<path d="M53.00,320.20 L142.40,320.20 L142.40,337.56 L149.90,337.56 L149.90,354.92 L151.90,354.92 L151.90,407.00" fill="none" stroke="#e8900f" stroke-width="1.3" stroke-linejoin="miter"/>
<path d="M53.00,320.20 L123.00,320.20 L123.00,337.56 L146.70,337.56 L146.70,389.64 L148.70,389.64 L148.70,407.00" fill="none" stroke="#5ea332" stroke-width="1.3" stroke-linejoin="miter"/>
<path d="M53.00,320.20 L78.40,320.20 L78.40,337.56 L105.80,337.56 L105.80,372.28 L108.00,372.28 L108.00,407.00" fill="none" stroke="#474d61" stroke-width="1.3" stroke-linejoin="miter"/>
<line x1="52.3" y1="407.00" x2="187.40" y2="407.00" stroke="#333" stroke-width="1.4"/>
<line x1="53.00" y1="407.0" x2="53.00" y2="409.6" stroke="#333" stroke-width="1.1"/>
<text x="53.0" y="421.3" font-size="8.2" fill="#222" text-anchor="middle" stroke="#222" stroke-width="0.12">7</text>
<line x1="64.99" y1="407.0" x2="64.99" y2="409.6" stroke="#333" stroke-width="1.1"/>
<text x="64.99" y="421.3" font-size="8.2" fill="#222" text-anchor="middle" stroke="#222" stroke-width="0.12">14</text>
<line x1="76.98" y1="407.0" x2="76.98" y2="409.6" stroke="#333" stroke-width="1.1"/>
<text x="76.98" y="421.3" font-size="8.2" fill="#222" text-anchor="middle" stroke="#222" stroke-width="0.12">21</text>
<line x1="88.97" y1="407.0" x2="88.97" y2="409.6" stroke="#333" stroke-width="1.1"/>
<text x="88.97" y="421.3" font-size="8.2" fill="#222" text-anchor="middle" stroke="#222" stroke-width="0.12">28</text>
<line x1="100.96" y1="407.0" x2="100.96" y2="409.6" stroke="#333" stroke-width="1.1"/>
<text x="100.96" y="421.3" font-size="8.2" fill="#222" text-anchor="middle" stroke="#222" stroke-width="0.12">35</text>
<line x1="112.95" y1="407.0" x2="112.95" y2="409.6" stroke="#333" stroke-width="1.1"/>
<text x="112.95" y="421.3" font-size="8.2" fill="#222" text-anchor="middle" stroke="#222" stroke-width="0.12">42</text>
<line x1="124.95" y1="407.0" x2="124.95" y2="409.6" stroke="#333" stroke-width="1.1"/>
<text x="124.95" y="421.3" font-size="8.2" fill="#222" text-anchor="middle" stroke="#222" stroke-width="0.12">49</text>
<line x1="136.94" y1="407.0" x2="136.94" y2="409.6" stroke="#333" stroke-width="1.1"/>
<text x="136.94" y="421.3" font-size="8.2" fill="#222" text-anchor="middle" stroke="#222" stroke-width="0.12">56</text>
<line x1="148.93" y1="407.0" x2="148.93" y2="409.6" stroke="#333" stroke-width="1.1"/>
<text x="148.93" y="421.3" font-size="8.2" fill="#222" text-anchor="middle" stroke="#222" stroke-width="0.12">63</text>
<line x1="160.92" y1="407.0" x2="160.92" y2="409.6" stroke="#333" stroke-width="1.1"/>
<text x="160.92" y="421.3" font-size="8.2" fill="#222" text-anchor="middle" stroke="#222" stroke-width="0.12">70</text>
<line x1="172.91" y1="407.0" x2="172.91" y2="409.6" stroke="#333" stroke-width="1.1"/>
<text x="172.91" y="421.3" font-size="8.2" fill="#222" text-anchor="middle" stroke="#222" stroke-width="0.12">77</text>
<line x1="184.90" y1="407.0" x2="184.90" y2="409.6" stroke="#333" stroke-width="1.1"/>
<text x="184.9" y="421.3" font-size="8.2" fill="#222" text-anchor="middle" stroke="#222" stroke-width="0.12">84</text>
<text x="185.2" y="340.7" font-size="8.6" fill="#6b7084" textLength="23.7" lengthAdjust="spacingAndGlyphs" stroke="#6b7084" stroke-width="0.12">Vehicle</text>
<text x="185.2" y="352.7" font-size="8.6" fill="#57a634" textLength="53.5" lengthAdjust="spacingAndGlyphs" stroke="#57a634" stroke-width="0.12">ART838 + VEN</text>
<text x="185.2" y="364.7" font-size="8.6" fill="#b0173f" textLength="55.4" lengthAdjust="spacingAndGlyphs" stroke="#b0173f" stroke-width="0.12">ART838 + SOR</text>
<text x="186.79999999999998" y="376.7" font-size="8.6" fill="#e49a2c" textLength="42.4" lengthAdjust="spacingAndGlyphs" stroke="#e49a2c" stroke-width="0.12">VEN + SOR</text>
<text x="185.2" y="388.7" font-size="8.6" fill="#5a2b80" textLength="14.6" lengthAdjust="spacingAndGlyphs" stroke="#5a2b80" stroke-width="0.12">SAV</text>
<text x="120.2" y="434.6" font-size="9.0" fill="#222" text-anchor="middle" textLength="62.5" lengthAdjust="spacingAndGlyphs" stroke="#222" stroke-width="0.3">Days after first dose</text>
<text x="71.1" y="311.8" font-size="9.7" fill="#111" textLength="99.2" lengthAdjust="spacingAndGlyphs" stroke="#111" stroke-width="0.12">Survival (Kaplan-Meier)</text>
<text transform="translate(25.6,362.3) rotate(-90)" font-size="9" text-anchor="middle" fill="#222" stroke="#222" stroke-width="0.3" textLength="49.8" lengthAdjust="spacingAndGlyphs">Percent survival</text>
<text x="261.0" y="311.3" font-size="12.4" fill="#000" font-weight="bold">F</text>
<line x1="306.3" y1="318.3" x2="306.3" y2="407.6" stroke="#333" stroke-width="1.4"/>
<line x1="303.3" y1="319.80" x2="306.3" y2="319.80" stroke="#333" stroke-width="1.1"/>
<text x="300.0" y="322.7" font-size="8.3" fill="#222" text-anchor="end" stroke="#222" stroke-width="0.12">100</text>
<line x1="303.3" y1="363.40" x2="306.3" y2="363.40" stroke="#333" stroke-width="1.1"/>
<text x="300.0" y="366.29999999999995" font-size="8.3" fill="#222" text-anchor="end" stroke="#222" stroke-width="0.12">50</text>
<line x1="303.3" y1="407.00" x2="306.3" y2="407.00" stroke="#333" stroke-width="1.1"/>
<text x="300.0" y="409.9" font-size="8.3" fill="#222" text-anchor="end" stroke="#222" stroke-width="0.12">0</text>
<path d="M398.00,319.80 L415.20,319.80 L415.20,337.24 L419.10,337.24 L419.10,354.68 L420.70,354.68 L420.70,372.12 L430.50,372.12 L430.50,407.00" fill="none" stroke="#4b1762" stroke-width="1.3" stroke-linejoin="miter"/>
<path d="M373.00,319.80 L398.10,319.80 L398.10,337.24 L399.60,337.24 L399.60,389.56 L403.50,389.56 L403.50,407.00" fill="none" stroke="#e8900f" stroke-width="1.3" stroke-linejoin="miter"/>
<path d="M373.00,319.80 L392.30,319.80 L392.30,354.68 L397.80,354.68 L397.80,372.12 L399.60,372.12 L399.60,407.00" fill="none" stroke="#a30d2e" stroke-width="1.3" stroke-linejoin="miter"/>
<path d="M373.00,319.80 L392.30,319.80 L392.30,354.68 L399.20,354.68 L399.20,372.12 L411.30,372.12 L411.30,389.56 L415.20,389.56 L415.20,407.00" fill="none" stroke="#5ea332" stroke-width="1.3" stroke-linejoin="miter"/>
<path d="M306.30,319.80 L373.10,319.80 L373.10,407.00" fill="none" stroke="#474d61" stroke-width="1.3" stroke-linejoin="miter"/>
<line x1="305.6" y1="407.00" x2="441.90" y2="407.00" stroke="#333" stroke-width="1.4"/>
<line x1="306.30" y1="407.0" x2="306.30" y2="409.6" stroke="#333" stroke-width="1.1"/>
<text x="306.3" y="421.3" font-size="8.2" fill="#222" text-anchor="middle" stroke="#222" stroke-width="0.12">7</text>
<line x1="319.61" y1="407.0" x2="319.61" y2="409.6" stroke="#333" stroke-width="1.1"/>
<text x="319.61" y="421.3" font-size="8.2" fill="#222" text-anchor="middle" stroke="#222" stroke-width="0.12">14</text>
<line x1="332.92" y1="407.0" x2="332.92" y2="409.6" stroke="#333" stroke-width="1.1"/>
<text x="332.92" y="421.3" font-size="8.2" fill="#222" text-anchor="middle" stroke="#222" stroke-width="0.12">21</text>
<line x1="346.23" y1="407.0" x2="346.23" y2="409.6" stroke="#333" stroke-width="1.1"/>
<text x="346.23" y="421.3" font-size="8.2" fill="#222" text-anchor="middle" stroke="#222" stroke-width="0.12">28</text>
<line x1="359.54" y1="407.0" x2="359.54" y2="409.6" stroke="#333" stroke-width="1.1"/>
<text x="359.54" y="421.3" font-size="8.2" fill="#222" text-anchor="middle" stroke="#222" stroke-width="0.12">35</text>
<line x1="372.85" y1="407.0" x2="372.85" y2="409.6" stroke="#333" stroke-width="1.1"/>
<text x="372.85" y="421.3" font-size="8.2" fill="#222" text-anchor="middle" stroke="#222" stroke-width="0.12">42</text>
<line x1="386.16" y1="407.0" x2="386.16" y2="409.6" stroke="#333" stroke-width="1.1"/>
<text x="386.16" y="421.3" font-size="8.2" fill="#222" text-anchor="middle" stroke="#222" stroke-width="0.12">49</text>
<line x1="399.47" y1="407.0" x2="399.47" y2="409.6" stroke="#333" stroke-width="1.1"/>
<text x="399.47" y="421.3" font-size="8.2" fill="#222" text-anchor="middle" stroke="#222" stroke-width="0.12">56</text>
<line x1="412.78" y1="407.0" x2="412.78" y2="409.6" stroke="#333" stroke-width="1.1"/>
<text x="412.78" y="421.3" font-size="8.2" fill="#222" text-anchor="middle" stroke="#222" stroke-width="0.12">63</text>
<line x1="426.09" y1="407.0" x2="426.09" y2="409.6" stroke="#333" stroke-width="1.1"/>
<text x="426.09" y="421.3" font-size="8.2" fill="#222" text-anchor="middle" stroke="#222" stroke-width="0.12">70</text>
<line x1="439.40" y1="407.0" x2="439.40" y2="409.6" stroke="#333" stroke-width="1.1"/>
<text x="439.4" y="421.3" font-size="8.2" fill="#222" text-anchor="middle" stroke="#222" stroke-width="0.12">77</text>
<text x="437.3" y="340.7" font-size="8.6" fill="#6b7084" textLength="23.7" lengthAdjust="spacingAndGlyphs" stroke="#6b7084" stroke-width="0.12">Vehicle</text>
<text x="437.3" y="352.7" font-size="8.6" fill="#57a634" textLength="53.5" lengthAdjust="spacingAndGlyphs" stroke="#57a634" stroke-width="0.12">ART838 + VEN</text>
<text x="437.3" y="364.7" font-size="8.6" fill="#b0173f" textLength="55.4" lengthAdjust="spacingAndGlyphs" stroke="#b0173f" stroke-width="0.12">ART838 + SOR</text>
<text x="438.90000000000003" y="376.7" font-size="8.6" fill="#e49a2c" textLength="42.4" lengthAdjust="spacingAndGlyphs" stroke="#e49a2c" stroke-width="0.12">VEN + SOR</text>
<text x="437.3" y="388.7" font-size="8.6" fill="#5a2b80" textLength="14.6" lengthAdjust="spacingAndGlyphs" stroke="#5a2b80" stroke-width="0.12">SAV</text>
<text x="374.8" y="434.8" font-size="9.0" fill="#222" text-anchor="middle" textLength="63.0" lengthAdjust="spacingAndGlyphs" stroke="#222" stroke-width="0.3">Days after first dose</text>
<text x="325.4" y="311.0" font-size="9.7" fill="#111" textLength="98.1" lengthAdjust="spacingAndGlyphs" stroke="#111" stroke-width="0.12">Survival (Kaplan-Meier)</text>
<text transform="translate(279.6,362.3) rotate(-90)" font-size="9" text-anchor="middle" fill="#222" stroke="#222" stroke-width="0.3" textLength="49.8" lengthAdjust="spacingAndGlyphs">Percent survival</text>
<text x="7.4" y="458.0" font-size="12.4" fill="#000" font-weight="bold">G</text>
<rect x="120.0" y="495.4" width="274.60" height="63.80" fill="#eeeef1"/>
<rect x="36.2" y="572.60" width="358.40" height="13.40" fill="#eeeef1"/>
<rect x="36.2" y="599.40" width="358.40" height="13.40" fill="#eeeef1"/>
<rect x="36.2" y="626.20" width="358.40" height="13.40" fill="#eeeef1"/>
<rect x="36.2" y="653.00" width="358.40" height="13.40" fill="#eeeef1"/>
<line x1="36.20" y1="457.60" x2="394.60" y2="457.60" stroke="#cbcacf" stroke-width="1.4"/>
<line x1="36.20" y1="476.00" x2="394.60" y2="476.00" stroke="#cbcacf" stroke-width="1.4"/>
<line x1="120.00" y1="495.40" x2="394.60" y2="495.40" stroke="#cbcacf" stroke-width="1.4"/>
<line x1="36.20" y1="559.20" x2="394.60" y2="559.20" stroke="#cbcacf" stroke-width="1.4"/>
<line x1="36.20" y1="572.60" x2="394.60" y2="572.60" stroke="#cbcacf" stroke-width="1.4"/>
<line x1="36.20" y1="586.00" x2="394.60" y2="586.00" stroke="#cbcacf" stroke-width="1.4"/>
<line x1="36.20" y1="599.40" x2="394.60" y2="599.40" stroke="#cbcacf" stroke-width="1.4"/>
<line x1="36.20" y1="612.80" x2="394.60" y2="612.80" stroke="#cbcacf" stroke-width="1.4"/>
<line x1="36.20" y1="626.20" x2="394.60" y2="626.20" stroke="#cbcacf" stroke-width="1.4"/>
<line x1="36.20" y1="639.60" x2="394.60" y2="639.60" stroke="#cbcacf" stroke-width="1.4"/>
<line x1="36.20" y1="653.00" x2="394.60" y2="653.00" stroke="#cbcacf" stroke-width="1.4"/>
<line x1="36.20" y1="666.40" x2="394.60" y2="666.40" stroke="#cbcacf" stroke-width="1.4"/>
<line x1="36.20" y1="457.60" x2="36.20" y2="666.40" stroke="#cbcacf" stroke-width="1.4"/>
<line x1="394.60" y1="457.60" x2="394.60" y2="666.40" stroke="#cbcacf" stroke-width="1.4"/>
<line x1="120.00" y1="476.00" x2="120.00" y2="666.40" stroke="#cbcacf" stroke-width="1.4"/>
<line x1="257.50" y1="476.00" x2="257.50" y2="666.40" stroke="#cbcacf" stroke-width="1.4"/>
<line x1="166.80" y1="495.40" x2="166.80" y2="666.40" stroke="#cbcacf" stroke-width="1.4"/>
<line x1="219.60" y1="495.40" x2="219.60" y2="666.40" stroke="#cbcacf" stroke-width="1.4"/>
<line x1="303.70" y1="495.40" x2="303.70" y2="666.40" stroke="#cbcacf" stroke-width="1.4"/>
<line x1="356.90" y1="495.40" x2="356.90" y2="666.40" stroke="#cbcacf" stroke-width="1.4"/>
<text x="214.9" y="470.4" font-size="10.6" fill="#111" text-anchor="middle" font-weight="bold" textLength="172.3" lengthAdjust="spacingAndGlyphs">Compilation of Primagraft Responses</text>
<text x="188.8" y="488.8" font-size="8.4" fill="#111" text-anchor="middle" font-weight="bold" textLength="50.8" lengthAdjust="spacingAndGlyphs">AML45 (n=2)</text>
<text x="326.0" y="488.8" font-size="8.4" fill="#111" text-anchor="middle" font-weight="bold" textLength="59.5" lengthAdjust="spacingAndGlyphs">AML1526 (n=1)</text>
<text x="77.5" y="515.3" font-size="8.6" fill="#222" text-anchor="middle" textLength="17.4" lengthAdjust="spacingAndGlyphs" stroke="#222" stroke-width="0.12">Drug</text>
<text x="76.8" y="525.4" font-size="8.6" fill="#222" text-anchor="middle" textLength="49.2" lengthAdjust="spacingAndGlyphs" stroke="#222" stroke-width="0.12">Combinations</text>
<text x="143.4" y="514.5" font-size="8.5" fill="#111" text-anchor="middle" font-weight="bold">AML</text>
<text x="143.4" y="524.65" font-size="8.5" fill="#111" text-anchor="middle" font-weight="bold">Burden</text>
<text x="143.4" y="534.8" font-size="8.5" fill="#111" text-anchor="middle" font-weight="bold">(d7/d0 fold</text>
<text x="143.4" y="544.95" font-size="8.5" fill="#111" text-anchor="middle" font-weight="bold">change)</text>
<text x="193.2" y="519.6" font-size="8.5" fill="#111" text-anchor="middle" font-weight="bold">Survival</text>
<text x="193.2" y="529.75" font-size="8.5" fill="#111" text-anchor="middle" font-weight="bold">(fold change</text>
<text x="193.2" y="539.9" font-size="8.5" fill="#111" text-anchor="middle" font-weight="bold">vs vehicle)</text>
<text x="238.55" y="524.8" font-size="8.5" fill="#111" text-anchor="middle" font-weight="bold">Total</text>
<text x="238.55" y="534.95" font-size="8.5" fill="#111" text-anchor="middle" font-weight="bold">Mice</text>
<text x="280.6" y="514.5" font-size="8.5" fill="#111" text-anchor="middle" font-weight="bold">AML</text>
<text x="280.6" y="524.65" font-size="8.5" fill="#111" text-anchor="middle" font-weight="bold">Burden</text>
<text x="280.6" y="534.8" font-size="8.5" fill="#111" text-anchor="middle" font-weight="bold">(d7/d0 fold</text>
<text x="280.6" y="544.95" font-size="8.5" fill="#111" text-anchor="middle" font-weight="bold">change)</text>
<text x="330.3" y="519.6" font-size="8.5" fill="#111" text-anchor="middle" font-weight="bold">Survival</text>
<text x="330.3" y="529.75" font-size="8.5" fill="#111" text-anchor="middle" font-weight="bold">(fold change</text>
<text x="330.3" y="539.9" font-size="8.5" fill="#111" text-anchor="middle" font-weight="bold">vs vehicle)</text>
<text x="375.75" y="524.8" font-size="8.5" fill="#111" text-anchor="middle" font-weight="bold">Total</text>
<text x="375.75" y="534.95" font-size="8.5" fill="#111" text-anchor="middle" font-weight="bold">Mice</text>
<text x="78.0" y="568.9" font-size="8.3" fill="#111" text-anchor="middle" font-weight="bold">Vehicle</text>
<text x="143.4" y="568.9" font-size="8.3" fill="#222" text-anchor="middle" stroke="#222" stroke-width="0.12">7.7</text>
<text x="193.2" y="568.9" font-size="8.3" fill="#222" text-anchor="middle" stroke="#222" stroke-width="0.12">1</text>
<text x="238.55" y="569.4" font-size="8.3" fill="#222" text-anchor="middle" stroke="#222" stroke-width="0.12">15</text>
<text x="280.6" y="568.9" font-size="8.3" fill="#222" text-anchor="middle" stroke="#222" stroke-width="0.12">8.6</text>
<text x="330.3" y="568.9" font-size="8.3" fill="#222" text-anchor="middle" stroke="#222" stroke-width="0.12">1</text>
<text x="375.75" y="569.4" font-size="8.3" fill="#222" text-anchor="middle" stroke="#222" stroke-width="0.12">5</text>
<text x="78.0" y="582.3" font-size="8.3" fill="#111" text-anchor="middle" font-weight="bold">ART838</text>
<text x="143.4" y="582.3" font-size="8.3" fill="#222" text-anchor="middle" stroke="#222" stroke-width="0.12">7.9</text>
<text x="193.2" y="582.3" font-size="8.3" fill="#222" text-anchor="middle" stroke="#222" stroke-width="0.12">1.1</text>
<text x="238.55" y="582.8" font-size="8.3" fill="#222" text-anchor="middle" stroke="#222" stroke-width="0.12">15</text>
<text x="280.6" y="582.3" font-size="8.3" fill="#222" text-anchor="middle" stroke="#222" stroke-width="0.12">5.6</text>
<text x="330.3" y="582.3" font-size="8.3" fill="#222" text-anchor="middle" stroke="#222" stroke-width="0.12">1.1</text>
<text x="375.75" y="582.8" font-size="8.3" fill="#222" text-anchor="middle" stroke="#222" stroke-width="0.12">5</text>
<text x="78.0" y="595.7" font-size="8.3" fill="#111" text-anchor="middle" font-weight="bold">VEN</text>
<text x="143.4" y="595.7" font-size="8.3" fill="#222" text-anchor="middle" stroke="#222" stroke-width="0.12">2.7</text>
<text x="193.2" y="595.7" font-size="8.3" fill="#222" text-anchor="middle" stroke="#222" stroke-width="0.12">1.4</text>
<text x="238.55" y="596.2" font-size="8.3" fill="#222" text-anchor="middle" stroke="#222" stroke-width="0.12">5</text>
<text x="280.6" y="595.7" font-size="8.3" fill="#222" text-anchor="middle" stroke="#222" stroke-width="0.12">2.3</text>
<text x="330.3" y="595.7" font-size="8.3" fill="#222" text-anchor="middle" stroke="#222" stroke-width="0.12">1.1</text>
<text x="375.75" y="596.2" font-size="8.3" fill="#222" text-anchor="middle" stroke="#222" stroke-width="0.12">5</text>
<text x="78.0" y="609.1" font-size="8.3" fill="#111" text-anchor="middle" font-weight="bold">SOR</text>
<text x="143.4" y="609.1" font-size="8.3" fill="#222" text-anchor="middle" stroke="#222" stroke-width="0.12">5.0</text>
<text x="193.2" y="609.1" font-size="8.3" fill="#222" text-anchor="middle" stroke="#222" stroke-width="0.12">1.3</text>
<text x="238.55" y="609.6" font-size="8.3" fill="#222" text-anchor="middle" stroke="#222" stroke-width="0.12">5</text>
<text x="280.6" y="609.1" font-size="8.3" fill="#222" text-anchor="middle" stroke="#222" stroke-width="0.12">5.7</text>
<text x="330.3" y="609.1" font-size="8.3" fill="#222" text-anchor="middle" stroke="#222" stroke-width="0.12">1.3</text>
<text x="375.75" y="609.6" font-size="8.3" fill="#222" text-anchor="middle" stroke="#222" stroke-width="0.12">5</text>
<text x="78.0" y="622.5" font-size="8.3" fill="#111" text-anchor="middle" font-weight="bold">ART838+VEN</text>
<text x="143.4" y="622.5" font-size="8.3" fill="#222" text-anchor="middle" stroke="#222" stroke-width="0.12">1.5</text>
<text x="193.2" y="622.5" font-size="8.3" fill="#222" text-anchor="middle" stroke="#222" stroke-width="0.12">1.3</text>
<text x="238.55" y="623.0" font-size="8.3" fill="#222" text-anchor="middle" stroke="#222" stroke-width="0.12">5</text>
<text x="280.6" y="622.5" font-size="8.3" fill="#222" text-anchor="middle" stroke="#222" stroke-width="0.12">2.0</text>
<text x="330.3" y="622.5" font-size="8.3" fill="#222" text-anchor="middle" stroke="#222" stroke-width="0.12">1.3</text>
<text x="375.75" y="623.0" font-size="8.3" fill="#222" text-anchor="middle" stroke="#222" stroke-width="0.12">5</text>
<text x="78.0" y="635.9" font-size="8.3" fill="#111" text-anchor="middle" font-weight="bold">ART838+SOR</text>
<text x="143.4" y="635.9" font-size="8.3" fill="#222" text-anchor="middle" stroke="#222" stroke-width="0.12">3.5</text>
<text x="193.2" y="635.9" font-size="8.3" fill="#222" text-anchor="middle" stroke="#222" stroke-width="0.12">1.5</text>
<text x="238.55" y="636.4" font-size="8.3" fill="#222" text-anchor="middle" stroke="#222" stroke-width="0.12">5</text>
<text x="280.6" y="635.9" font-size="8.3" fill="#222" text-anchor="middle" stroke="#222" stroke-width="0.12">3.7</text>
<text x="330.3" y="635.9" font-size="8.3" fill="#222" text-anchor="middle" stroke="#222" stroke-width="0.12">1.3</text>
<text x="375.75" y="636.4" font-size="8.3" fill="#222" text-anchor="middle" stroke="#222" stroke-width="0.12">5</text>
<text x="78.0" y="649.3" font-size="8.3" fill="#111" text-anchor="middle" font-weight="bold">VEN+SOR</text>
<text x="143.4" y="649.3" font-size="8.3" fill="#222" text-anchor="middle" stroke="#222" stroke-width="0.12">2.5</text>
<text x="193.2" y="649.3" font-size="8.3" fill="#222" text-anchor="middle" stroke="#222" stroke-width="0.12">1.4</text>
<text x="238.55" y="649.8" font-size="8.3" fill="#222" text-anchor="middle" stroke="#222" stroke-width="0.12">15</text>
<text x="280.6" y="649.3" font-size="8.3" fill="#222" text-anchor="middle" stroke="#222" stroke-width="0.12">2.0</text>
<text x="330.3" y="649.3" font-size="8.3" fill="#222" text-anchor="middle" stroke="#222" stroke-width="0.12">1.3</text>
<text x="375.75" y="649.8" font-size="8.3" fill="#222" text-anchor="middle" stroke="#222" stroke-width="0.12">5</text>
<text x="78.0" y="662.7" font-size="8.3" fill="#111" text-anchor="middle" font-weight="bold">SAV</text>
<text x="143.4" y="662.7" font-size="8.3" fill="#222" text-anchor="middle" stroke="#222" stroke-width="0.12">1.4</text>
<text x="193.2" y="662.7" font-size="8.3" fill="#222" text-anchor="middle" stroke="#222" stroke-width="0.12">1.7</text>
<text x="238.55" y="663.2" font-size="8.3" fill="#222" text-anchor="middle" stroke="#222" stroke-width="0.12">15</text>
<text x="280.6" y="662.7" font-size="8.3" fill="#222" text-anchor="middle" stroke="#222" stroke-width="0.12">0.8</text>
<text x="330.3" y="662.7" font-size="8.3" fill="#222" text-anchor="middle" stroke="#222" stroke-width="0.12">1.6</text>
<text x="375.75" y="663.2" font-size="8.3" fill="#222" text-anchor="middle" stroke="#222" stroke-width="0.12">5</text>
<rect x="0.6" y="0.6" width="518.8" height="672.8" fill="none" stroke="#000" stroke-width="1.6"/>
</svg>
</body></html>
